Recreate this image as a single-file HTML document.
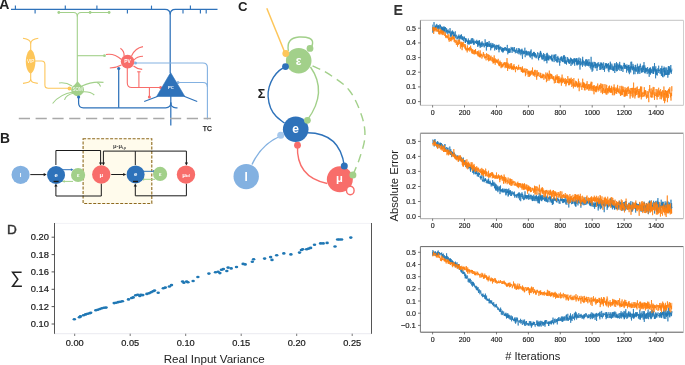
<!DOCTYPE html>
<html><head><meta charset="utf-8"><style>
html,body{margin:0;padding:0;background:#fff;}
svg{display:block;font-family:"Liberation Sans", sans-serif;will-change:transform;filter:blur(0.3px);}
</style></head><body>
<svg width="685" height="365" viewBox="0 0 685 365">
<rect width="685" height="365" fill="#fff"/>
<text x="-0.8" y="8.9" font-size="14" fill="#222" font-weight="bold" text-anchor="start" >A</text>
<g fill="none" stroke="#2e72ba" stroke-width="1.25">
<path d="M11,9.3 H165 Q170.2,9.3 170.2,14.5 V73"/>
<path d="M217.5,9.3 H175.4 Q170.2,9.3 170.2,14.5"/>
</g>
<g stroke="#2e72ba" stroke-width="1.15">
<line x1="15.4" y1="9.3" x2="15.4" y2="5.6"/>
<line x1="65.3" y1="9.3" x2="65.3" y2="5.6"/>
<line x1="96.9" y1="9.3" x2="96.9" y2="5.6"/>
<line x1="151.5" y1="9.3" x2="151.5" y2="5.6"/>
<line x1="190.4" y1="9.3" x2="190.4" y2="5.6"/>
<line x1="35.1" y1="9.3" x2="35.1" y2="13.6"/>
<line x1="127.4" y1="9.3" x2="127.4" y2="13.6"/>
<line x1="183.0" y1="9.3" x2="183.0" y2="13.6"/>
<line x1="200.4" y1="9.3" x2="200.4" y2="13.6"/>
<line x1="206.2" y1="9.3" x2="206.2" y2="13.6"/>
</g>
<g fill="none" stroke="#a2d08a" stroke-width="1.1">
<path d="M58.8,12.5 H73.5 Q77.3,12.5 77.3,16.5 V84"/>
<path d="M109.1,12.5 H81.1 Q77.3,12.5 77.3,16.5"/>
<path d="M77.3,55.7 H104.5"/>
<path d="M72,86 Q66,82 59,83"/>
<path d="M82,86 Q92,81 103.5,82.4"/>
<path d="M97,82.6 Q99.5,83.5 100.6,86.5"/>
<path d="M73,92 Q60,94 52.6,103.5"/>
<path d="M74,93 Q66,95 64.5,99.8"/>
<path d="M81,92 Q90,91 94.3,95"/>
</g>
<g fill="#a2d08a">
<circle cx="58.8" cy="12.5" r="1.4"/>
<circle cx="90.1" cy="12.5" r="1.4"/>
<circle cx="109.1" cy="12.5" r="1.4"/>
<circle cx="104.5" cy="55.7" r="1.4"/>
</g>
<path d="M77.6,81.2 Q80.5,85 83.4,87 Q84.6,89.5 83.4,92.5 Q80.8,96.2 77.6,96.2 Q74.4,96.2 71.8,92.5 Q70.6,89.5 71.8,87 Q74.7,85 77.6,81.2 Z" fill="#a2d08a"/>
<text x="77.6" y="91.4" font-size="4.5" fill="#fff" font-weight="normal" text-anchor="middle" >SOM</text>
<g fill="none" stroke="#fdc65a" stroke-width="1.1">
<path d="M30.7,50 V43.6 Q30.7,39.5 23,38.3"/>
<path d="M30.7,43.6 Q30.7,39.5 38.3,38.3"/>
<path d="M30.7,72 V79.3 Q30.7,82.8 23,83.4"/>
<path d="M30.7,79.3 Q30.7,82.8 37.8,83.4"/>
<path d="M35,61 H41.5 Q44.9,61 44.9,64.5 V85 Q44.9,88.3 48.3,88.3 H69"/>
</g>
<path d="M30.6,49.4 C33.5,50.5 35.4,56 35.4,61.5 C35.4,67 33.5,72.5 30.6,73.6 C27.7,72.5 25.8,67 25.8,61.5 C25.8,56 27.7,50.5 30.6,49.4 Z" fill="#fdc65a"/>
<text x="30.6" y="62.9" font-size="4.6" fill="#fff" font-weight="normal" text-anchor="middle" >VIP</text>
<circle cx="69.5" cy="88.5" r="1.9" fill="#fdc65a"/>
<g fill="none" stroke="#2e72ba" stroke-width="1.25">
<path d="M78.6,97 V103 Q78.6,107.8 83.4,107.8 H165.6 Q170.8,107.8 170.8,102.6"/>
<path d="M118.7,107.8 V68.5"/>
<path d="M170.8,96 V125.6"/>
<path d="M170.8,102.6 Q170.8,107.8 176,107.8 H177.5"/>
</g>
<circle cx="78.6" cy="97" r="1.6" fill="#2e72ba"/>
<circle cx="118.7" cy="68.5" r="1.6" fill="#2e72ba"/>
<g fill="none" stroke="#f86d6a" stroke-width="1.1">
<path d="M121.5,59.5 Q114,53 106,54.5"/>
<path d="M124,56 Q124.5,51 120.4,48.2"/>
<path d="M131.5,56 Q135,48 143,46.6"/>
<path d="M134,60 Q137,56.5 143,56.3"/>
<path d="M121.5,65 Q117,67.5 109.8,68"/>
<path d="M133.5,66 Q137,69 142.2,69.4"/>
<path d="M127.3,68 V83 Q127.3,87.5 131.8,87.5 H160.5"/>
<path d="M138.9,87.5 V71.8"/>
<path d="M149.4,87.5 V96.8"/>
<path d="M137.2,71.8 H140.6"/>
</g>
<circle cx="127.6" cy="61.6" r="6.8" fill="#f86d6a"/>
<text x="127.5" y="63.4" font-size="4.9" fill="#fff" font-weight="bold" text-anchor="middle" >PV</text>
<circle cx="160.6" cy="87.4" r="1.5" fill="#f86d6a"/>
<circle cx="149.4" cy="97" r="1.5" fill="#f86d6a"/>
<g fill="none" stroke="#83b1e1" stroke-width="1.1">
<path d="M207.4,119.5 V67.5 Q207.4,63 202.9,63 H135.5"/>
<path d="M207.4,87 Q207.4,82.5 202.9,82.5 H178"/>
</g>
<circle cx="135.5" cy="63" r="1.5" fill="#83b1e1"/>
<circle cx="178" cy="82.5" r="1.5" fill="#83b1e1"/>
<g fill="none" stroke="#2e72ba" stroke-width="1.1">
<path d="M158,96.2 L144.2,101.6"/>
<path d="M184,96.2 L197.2,101.6"/>
</g>
<path d="M170.6,72.6 L184.9,96.5 L156.6,96.5 Z" fill="#2e72ba" stroke="#2e72ba" stroke-width="0.6" stroke-linejoin="round"/>
<text x="170.8" y="89.2" font-size="4.2" fill="#fff" font-weight="bold" text-anchor="middle" >PC</text>
<line x1="18.8" y1="118.5" x2="211" y2="118.5" stroke="#a9a9a9" stroke-width="1.3" stroke-dasharray="11.2 5.6"/>
<text x="207.4" y="130.9" font-size="6.8" fill="#111" font-weight="normal" text-anchor="middle" stroke="#111" stroke-width="0.25">TC</text>
<text x="0.1" y="142.9" font-size="13.8" fill="#222" font-weight="bold" text-anchor="start" >B</text>
<rect x="83.1" y="138.8" width="68.7" height="64.7" fill="#fffbec" stroke="#8e6a1e" stroke-width="1.1" stroke-dasharray="3 1.5"/>
<text x="119.6" y="147.9" font-size="5.8" fill="#444" font-weight="bold" text-anchor="middle" >μ-μ<tspan font-size="3.4" dy="1">t,p</tspan></text>
<g fill="none" stroke="#1a1a1a" stroke-width="1">
<path d="M55.9,165 V150.5 H100.6 V163"/>
<path d="M135.3,165 V151.1 H103.4 V163"/>
<path d="M135.3,151.1 H186.4 V163"/>
<path d="M101.3,183.5 V196 H55.9 V186"/>
<path d="M186.4,183.5 V195.8 H135.3 V186"/>
<path d="M30.3,174.6 H44.5"/>
<path d="M111.2,174.5 H124.3"/>
</g>
<g fill="#1a1a1a">
<path d="M99.0,162.6 L102.19999999999999,162.6 L100.6,165.6 Z"/>
<path d="M101.80000000000001,162.6 L105.0,162.6 L103.4,165.6 Z"/>
<path d="M184.8,162.4 L188.0,162.4 L186.4,165.4 Z"/>
<path d="M54.3,186.6 L57.5,186.6 L55.9,183.6 Z"/>
<path d="M133.70000000000002,186.6 L136.9,186.6 L135.3,183.6 Z"/>
<path d="M43.7,173.0 L43.7,176.2 L46.7,174.6 Z"/>
<path d="M123.2,172.9 L123.2,176.1 L126.2,174.5 Z"/>
</g>
<path d="M60.9,169.7 H71.5" stroke="#2e72ba" stroke-width="1" fill="none"/>
<path d="M73.5,169.7 l-2.6,-1.4 v2.8 z" fill="#2e72ba"/>
<path d="M62.4,181.4 H73.0" stroke="#a2d08a" stroke-width="1" fill="none"/>
<path d="M62.1,181.4 l2.6,-1.4 v2.8 z" fill="#a2d08a"/>
<path d="M140.3,171.3 H153.6" stroke="#2e72ba" stroke-width="1" fill="none"/>
<path d="M155.6,171.3 l-2.6,-1.4 v2.8 z" fill="#2e72ba"/>
<path d="M141.8,179.3 H155.1" stroke="#a2d08a" stroke-width="1" fill="none"/>
<path d="M141.5,179.3 l2.6,-1.4 v2.8 z" fill="#a2d08a"/>
<circle cx="20.6" cy="174.8" r="9.1" fill="#83b1e1"/>
<circle cx="56.05" cy="175.0" r="9.0" fill="#2e72ba"/>
<circle cx="78.1" cy="175.0" r="7.1" fill="#a2d08a"/>
<circle cx="101.3" cy="174.5" r="9.2" fill="#f86d6a"/>
<circle cx="135.6" cy="174.4" r="9.0" fill="#2e72ba"/>
<circle cx="160.1" cy="173.9" r="7.1" fill="#a2d08a"/>
<circle cx="186.0" cy="174.6" r="9.2" fill="#f86d6a"/>
<rect x="53.6" y="180.8" width="5" height="1.4" fill="#1a1a1a"/>
<rect x="133.0" y="180.8" width="5" height="1.4" fill="#1a1a1a"/>
<text x="20.7" y="176.8" font-size="6" fill="#fff" font-weight="bold" text-anchor="middle" >I</text>
<text x="56.05" y="176.9" font-size="6" fill="#fff" font-weight="bold" text-anchor="middle" >e</text>
<text x="78.1" y="177.0" font-size="6" fill="#fff" font-weight="bold" text-anchor="middle" >ε</text>
<text x="101.3" y="176.6" font-size="6" fill="#fff" font-weight="bold" text-anchor="middle" >μ</text>
<text x="135.6" y="176.4" font-size="6" fill="#fff" font-weight="bold" text-anchor="middle" >e</text>
<text x="160.1" y="176.0" font-size="6" fill="#fff" font-weight="bold" text-anchor="middle" >ε</text>
<text x="186.0" y="176.8" font-size="6" fill="#fff" font-weight="bold" text-anchor="middle" >μ<tspan font-size="4.2" dy="0.6">td</tspan></text>
<text x="237.9" y="10.5" font-size="13.2" fill="#222" font-weight="bold" text-anchor="start" >C</text>
<line x1="266.8" y1="8.3" x2="285.3" y2="53.7" stroke="#fdc65a" stroke-width="1.5"/>
<path d="M288.4,51 Q286,38 299,37 Q313,36.5 312.6,43 Q312.5,47 309.6,49.2" fill="none" stroke="#a2d08a" stroke-width="1.4"/>
<path d="M285.50,66.70 C283.40,68.00 281.22,68.83 279.20,70.60 C277.18,72.37 275.07,74.58 273.40,77.30 C271.73,80.02 270.08,83.70 269.20,86.90 C268.32,90.10 267.87,92.98 268.10,96.50 C268.33,100.02 269.23,104.65 270.60,108.00 C271.97,111.35 273.98,114.10 276.30,116.60 C278.62,119.10 281.77,120.87 284.50,123.00" fill="none" stroke="#2e72ba" stroke-width="1.4"/>
<path d="M310.5,67 Q328,92 307.4,119.9" fill="none" stroke="#a2d08a" stroke-width="1.4"/>
<path d="M312.50,65.80 C318.00,68.60 322.88,70.13 329.00,74.20 C335.12,78.27 343.77,83.32 349.20,90.20 C354.63,97.08 358.98,107.72 361.60,115.50 C364.22,123.28 365.23,129.78 364.90,136.90 C364.57,144.02 361.60,151.83 359.60,158.20 C357.60,164.57 355.13,169.47 352.90,175.10" fill="none" stroke="#a2d08a" stroke-width="1.4" stroke-dasharray="8.5 5.5"/>
<path d="M252,164.5 Q262,143 281.4,135.8" fill="none" stroke="#83b1e1" stroke-width="1.4"/>
<path d="M297.5,145.5 Q296,177 327.2,183.5" fill="none" stroke="#f86d6a" stroke-width="1.4"/>
<path d="M307.5,132.7 Q340,133 344.3,166" fill="none" stroke="#2e72ba" stroke-width="1.4"/>
<circle cx="298.7" cy="60.7" r="12.8" fill="#a2d08a"/>
<circle cx="295.7" cy="129.3" r="12.8" fill="#2e72ba"/>
<circle cx="246.2" cy="176.6" r="12.7" fill="#83b1e1"/>
<circle cx="339.85" cy="179.35" r="13.0" fill="#f86d6a"/>
<ellipse cx="350.3" cy="190.5" rx="3.8" ry="4.3" fill="#fff" stroke="#f86d6a" stroke-width="1.4"/>
<circle cx="285.8" cy="53.5" r="3.4" fill="#fdc65a"/>
<circle cx="310.0" cy="48.4" r="3.4" fill="#a2d08a"/>
<circle cx="285.5" cy="66.6" r="3.4" fill="#2e72ba"/>
<circle cx="307.4" cy="120.3" r="3.4" fill="#a2d08a"/>
<circle cx="280.7" cy="135.3" r="3.5" fill="#a6c8ec"/>
<circle cx="297.5" cy="145.2" r="3.4" fill="#f86d6a"/>
<circle cx="344.3" cy="166.0" r="3.5" fill="#2e72ba"/>
<circle cx="352.9" cy="175.1" r="3.5" fill="#a2d08a"/>
<text x="298.7" y="64.5" font-size="12" fill="#fff" font-weight="bold" text-anchor="middle" >ε</text>
<text x="295.6" y="133.4" font-size="12" fill="#fff" font-weight="bold" text-anchor="middle" >e</text>
<text x="246.2" y="181.0" font-size="12" fill="#fff" font-weight="bold" text-anchor="middle" >I</text>
<text x="339.4" y="181.6" font-size="11.2" fill="#fff" font-weight="bold" text-anchor="middle" >μ</text>
<text x="261.5" y="97.9" font-size="12.5" fill="#222" font-weight="bold" text-anchor="middle" >Σ</text>
<text x="6.9" y="233.5" font-size="13.6" fill="#333" font-weight="normal" text-anchor="start" stroke="#333" stroke-width="0.45">D</text>
<line x1="54" y1="223.4" x2="371.7" y2="223.4" stroke="#ececf2" stroke-width="0.7"/>
<line x1="54" y1="333.7" x2="371.7" y2="333.7" stroke="#e4e4ec" stroke-width="0.8"/>
<line x1="54.5" y1="223" x2="54.5" y2="333.8" stroke="#555" stroke-width="1"/>
<line x1="371.5" y1="223" x2="371.5" y2="333.8" stroke="#555" stroke-width="1"/>
<line x1="51.6" y1="324.0" x2="54.5" y2="324.0" stroke="#444" stroke-width="0.9"/>
<text x="49.0" y="327.1" font-size="8.8" fill="#1a1a1a" font-weight="normal" text-anchor="end" textLength="18.2" lengthAdjust="spacingAndGlyphs" stroke="#1a1a1a" stroke-width="0.2">0.10</text>
<line x1="51.6" y1="306.6" x2="54.5" y2="306.6" stroke="#444" stroke-width="0.9"/>
<text x="49.0" y="309.7" font-size="8.8" fill="#1a1a1a" font-weight="normal" text-anchor="end" textLength="18.2" lengthAdjust="spacingAndGlyphs" stroke="#1a1a1a" stroke-width="0.2">0.12</text>
<line x1="51.6" y1="289.3" x2="54.5" y2="289.3" stroke="#444" stroke-width="0.9"/>
<text x="49.0" y="292.4" font-size="8.8" fill="#1a1a1a" font-weight="normal" text-anchor="end" textLength="18.2" lengthAdjust="spacingAndGlyphs" stroke="#1a1a1a" stroke-width="0.2">0.14</text>
<line x1="51.6" y1="271.9" x2="54.5" y2="271.9" stroke="#444" stroke-width="0.9"/>
<text x="49.0" y="275.0" font-size="8.8" fill="#1a1a1a" font-weight="normal" text-anchor="end" textLength="18.2" lengthAdjust="spacingAndGlyphs" stroke="#1a1a1a" stroke-width="0.2">0.16</text>
<line x1="51.6" y1="254.6" x2="54.5" y2="254.6" stroke="#444" stroke-width="0.9"/>
<text x="49.0" y="257.7" font-size="8.8" fill="#1a1a1a" font-weight="normal" text-anchor="end" textLength="18.2" lengthAdjust="spacingAndGlyphs" stroke="#1a1a1a" stroke-width="0.2">0.18</text>
<line x1="51.6" y1="237.2" x2="54.5" y2="237.2" stroke="#444" stroke-width="0.9"/>
<text x="49.0" y="240.3" font-size="8.8" fill="#1a1a1a" font-weight="normal" text-anchor="end" textLength="18.2" lengthAdjust="spacingAndGlyphs" stroke="#1a1a1a" stroke-width="0.2">0.20</text>
<line x1="74.7" y1="333.7" x2="74.7" y2="336" stroke="#555" stroke-width="0.8"/>
<text x="74.7" y="345.8" font-size="8.8" fill="#1a1a1a" font-weight="normal" text-anchor="middle" textLength="18.0" lengthAdjust="spacingAndGlyphs" stroke="#1a1a1a" stroke-width="0.2">0.00</text>
<line x1="130.2" y1="333.7" x2="130.2" y2="336" stroke="#555" stroke-width="0.8"/>
<text x="130.2" y="345.8" font-size="8.8" fill="#1a1a1a" font-weight="normal" text-anchor="middle" textLength="18.0" lengthAdjust="spacingAndGlyphs" stroke="#1a1a1a" stroke-width="0.2">0.05</text>
<line x1="185.7" y1="333.7" x2="185.7" y2="336" stroke="#555" stroke-width="0.8"/>
<text x="185.7" y="345.8" font-size="8.8" fill="#1a1a1a" font-weight="normal" text-anchor="middle" textLength="18.0" lengthAdjust="spacingAndGlyphs" stroke="#1a1a1a" stroke-width="0.2">0.10</text>
<line x1="241.2" y1="333.7" x2="241.2" y2="336" stroke="#555" stroke-width="0.8"/>
<text x="241.2" y="345.8" font-size="8.8" fill="#1a1a1a" font-weight="normal" text-anchor="middle" textLength="18.0" lengthAdjust="spacingAndGlyphs" stroke="#1a1a1a" stroke-width="0.2">0.15</text>
<line x1="296.7" y1="333.7" x2="296.7" y2="336" stroke="#555" stroke-width="0.8"/>
<text x="296.7" y="345.8" font-size="8.8" fill="#1a1a1a" font-weight="normal" text-anchor="middle" textLength="18.0" lengthAdjust="spacingAndGlyphs" stroke="#1a1a1a" stroke-width="0.2">0.20</text>
<line x1="352.2" y1="333.7" x2="352.2" y2="336" stroke="#555" stroke-width="0.8"/>
<text x="352.2" y="345.8" font-size="8.8" fill="#1a1a1a" font-weight="normal" text-anchor="middle" textLength="18.0" lengthAdjust="spacingAndGlyphs" stroke="#1a1a1a" stroke-width="0.2">0.25</text>
<text x="214.2" y="363" font-size="11.6" fill="#222" font-weight="normal" text-anchor="middle" textLength="101" lengthAdjust="spacingAndGlyphs">Real Input Variance</text>
<path d="M21.6,272.2 H12.6 L17.8,279.2 L12.6,286.2 H21.9" fill="none" stroke="#222" stroke-width="1.5" stroke-linejoin="miter"/>
<g fill="#1f77b4">
<ellipse cx="74.3" cy="319.3" rx="1.75" ry="1.3"/>
<ellipse cx="79.4" cy="317.2" rx="1.75" ry="1.3"/>
<ellipse cx="80.4" cy="316.4" rx="1.75" ry="1.3"/>
<ellipse cx="83.5" cy="315.2" rx="1.75" ry="1.3"/>
<ellipse cx="85.6" cy="314.4" rx="1.75" ry="1.3"/>
<ellipse cx="87.6" cy="313.7" rx="1.75" ry="1.3"/>
<ellipse cx="89.7" cy="313.3" rx="1.75" ry="1.3"/>
<ellipse cx="90.7" cy="312.7" rx="1.75" ry="1.3"/>
<ellipse cx="95.8" cy="310.3" rx="1.75" ry="1.3"/>
<ellipse cx="97.8" cy="309.7" rx="1.75" ry="1.3"/>
<ellipse cx="99.9" cy="309" rx="1.75" ry="1.3"/>
<ellipse cx="101.9" cy="308.2" rx="1.75" ry="1.3"/>
<ellipse cx="104" cy="307.8" rx="1.75" ry="1.3"/>
<ellipse cx="106" cy="307.6" rx="1.75" ry="1.3"/>
<ellipse cx="114.2" cy="303.1" rx="1.75" ry="1.3"/>
<ellipse cx="116.2" cy="302.7" rx="1.75" ry="1.3"/>
<ellipse cx="118.3" cy="302.1" rx="1.75" ry="1.3"/>
<ellipse cx="120.3" cy="301.7" rx="1.75" ry="1.3"/>
<ellipse cx="122.4" cy="301.3" rx="1.75" ry="1.3"/>
<ellipse cx="128.5" cy="299.4" rx="1.75" ry="1.3"/>
<ellipse cx="131.6" cy="298" rx="1.75" ry="1.3"/>
<ellipse cx="133.2" cy="297.4" rx="1.75" ry="1.3"/>
<ellipse cx="135.7" cy="295.3" rx="1.75" ry="1.3"/>
<ellipse cx="137.7" cy="294.7" rx="1.75" ry="1.3"/>
<ellipse cx="139.8" cy="296" rx="1.75" ry="1.3"/>
<ellipse cx="140.8" cy="294.9" rx="1.75" ry="1.3"/>
<ellipse cx="142.8" cy="295.1" rx="1.75" ry="1.3"/>
<ellipse cx="146.9" cy="293.9" rx="1.75" ry="1.3"/>
<ellipse cx="149" cy="293.3" rx="1.75" ry="1.3"/>
<ellipse cx="151" cy="292.3" rx="1.75" ry="1.3"/>
<ellipse cx="153" cy="291.2" rx="1.75" ry="1.3"/>
<ellipse cx="154.5" cy="290.6" rx="1.75" ry="1.3"/>
<ellipse cx="158.2" cy="292.7" rx="1.75" ry="1.3"/>
<ellipse cx="163.3" cy="288.2" rx="1.75" ry="1.3"/>
<ellipse cx="165.3" cy="287.6" rx="1.75" ry="1.3"/>
<ellipse cx="169.4" cy="286.5" rx="1.75" ry="1.3"/>
<ellipse cx="171.5" cy="285.1" rx="1.75" ry="1.3"/>
<ellipse cx="182.6" cy="281.5" rx="1.75" ry="1.3"/>
<ellipse cx="183.9" cy="282.8" rx="1.75" ry="1.3"/>
<ellipse cx="186.6" cy="281.5" rx="1.75" ry="1.3"/>
<ellipse cx="187.9" cy="282.3" rx="1.75" ry="1.3"/>
<ellipse cx="193.1" cy="281" rx="1.75" ry="1.3"/>
<ellipse cx="197.9" cy="277" rx="1.75" ry="1.3"/>
<ellipse cx="208.9" cy="273.6" rx="1.75" ry="1.3"/>
<ellipse cx="215.5" cy="272.3" rx="1.75" ry="1.3"/>
<ellipse cx="218.1" cy="271.8" rx="1.75" ry="1.3"/>
<ellipse cx="219.9" cy="273.1" rx="1.75" ry="1.3"/>
<ellipse cx="221.5" cy="269.7" rx="1.75" ry="1.3"/>
<ellipse cx="223.4" cy="269.1" rx="1.75" ry="1.3"/>
<ellipse cx="226.8" cy="271" rx="1.75" ry="1.3"/>
<ellipse cx="228.1" cy="267.6" rx="1.75" ry="1.3"/>
<ellipse cx="231.2" cy="268.4" rx="1.75" ry="1.3"/>
<ellipse cx="236.5" cy="267" rx="1.75" ry="1.3"/>
<ellipse cx="243.1" cy="263.9" rx="1.75" ry="1.3"/>
<ellipse cx="245.2" cy="264.4" rx="1.75" ry="1.3"/>
<ellipse cx="252.3" cy="261.8" rx="1.75" ry="1.3"/>
<ellipse cx="253.6" cy="259.2" rx="1.75" ry="1.3"/>
<ellipse cx="264.6" cy="258.6" rx="1.75" ry="1.3"/>
<ellipse cx="270.6" cy="257.1" rx="1.75" ry="1.3"/>
<ellipse cx="272" cy="259.9" rx="1.75" ry="1.3"/>
<ellipse cx="276.7" cy="255.2" rx="1.75" ry="1.3"/>
<ellipse cx="283.8" cy="253.4" rx="1.75" ry="1.3"/>
<ellipse cx="290.9" cy="254.4" rx="1.75" ry="1.3"/>
<ellipse cx="299.5" cy="252.6" rx="1.75" ry="1.3"/>
<ellipse cx="301.4" cy="250" rx="1.75" ry="1.3"/>
<ellipse cx="302.7" cy="249.2" rx="1.75" ry="1.3"/>
<ellipse cx="306.6" cy="249.2" rx="1.75" ry="1.3"/>
<ellipse cx="308.7" cy="248.6" rx="1.75" ry="1.3"/>
<ellipse cx="310.6" cy="247.9" rx="1.75" ry="1.3"/>
<ellipse cx="314.5" cy="244.7" rx="1.75" ry="1.3"/>
<ellipse cx="320.6" cy="243.4" rx="1.75" ry="1.3"/>
<ellipse cx="323.2" cy="243.4" rx="1.75" ry="1.3"/>
<ellipse cx="327.1" cy="242.9" rx="1.75" ry="1.3"/>
<ellipse cx="335" cy="246.5" rx="1.75" ry="1.3"/>
<ellipse cx="337.6" cy="239.5" rx="1.75" ry="1.3"/>
<ellipse cx="339.5" cy="239.5" rx="1.75" ry="1.3"/>
<ellipse cx="341.6" cy="239.5" rx="1.75" ry="1.3"/>
<ellipse cx="350.8" cy="237.6" rx="1.75" ry="1.3"/>
</g>
<text x="393.4" y="15.1" font-size="14.2" fill="#333" font-weight="bold" text-anchor="start" >E</text>
<line x1="420.4" y1="20.3" x2="683.5" y2="20.3" stroke="#c4c4c4" stroke-width="1"/>
<line x1="420.4" y1="105.3" x2="683.5" y2="105.3" stroke="#c4c4c4" stroke-width="1"/>
<line x1="420.4" y1="20.3" x2="420.4" y2="105.3" stroke="#7a7a7a" stroke-width="1"/>
<line x1="683.5" y1="20.3" x2="683.5" y2="105.3" stroke="#cfcfcf" stroke-width="1"/>
<line x1="418" y1="101.6" x2="420.4" y2="101.6" stroke="#444" stroke-width="0.7"/>
<text x="415.9" y="104.1" font-size="7" fill="#1a1a1a" font-weight="normal" text-anchor="end"  stroke="#1a1a1a" stroke-width="0.15">0.0</text>
<line x1="418" y1="86.9" x2="420.4" y2="86.9" stroke="#444" stroke-width="0.7"/>
<text x="415.9" y="89.4" font-size="7" fill="#1a1a1a" font-weight="normal" text-anchor="end"  stroke="#1a1a1a" stroke-width="0.15">0.1</text>
<line x1="418" y1="72.2" x2="420.4" y2="72.2" stroke="#444" stroke-width="0.7"/>
<text x="415.9" y="74.7" font-size="7" fill="#1a1a1a" font-weight="normal" text-anchor="end"  stroke="#1a1a1a" stroke-width="0.15">0.2</text>
<line x1="418" y1="57.6" x2="420.4" y2="57.6" stroke="#444" stroke-width="0.7"/>
<text x="415.9" y="60.1" font-size="7" fill="#1a1a1a" font-weight="normal" text-anchor="end"  stroke="#1a1a1a" stroke-width="0.15">0.3</text>
<line x1="418" y1="42.9" x2="420.4" y2="42.9" stroke="#444" stroke-width="0.7"/>
<text x="415.9" y="45.4" font-size="7" fill="#1a1a1a" font-weight="normal" text-anchor="end"  stroke="#1a1a1a" stroke-width="0.15">0.4</text>
<line x1="418" y1="28.2" x2="420.4" y2="28.2" stroke="#444" stroke-width="0.7"/>
<text x="415.9" y="30.7" font-size="7" fill="#1a1a1a" font-weight="normal" text-anchor="end"  stroke="#1a1a1a" stroke-width="0.15">0.5</text>
<line x1="432.6" y1="105.3" x2="432.6" y2="107.5" stroke="#444" stroke-width="0.7"/>
<text x="432.6" y="115.0" font-size="7" fill="#1a1a1a" font-weight="normal" text-anchor="middle" stroke="#1a1a1a" stroke-width="0.15">0</text>
<line x1="464.5" y1="105.3" x2="464.5" y2="107.5" stroke="#444" stroke-width="0.7"/>
<text x="464.5" y="115.0" font-size="7" fill="#1a1a1a" font-weight="normal" text-anchor="middle" stroke="#1a1a1a" stroke-width="0.15">200</text>
<line x1="496.5" y1="105.3" x2="496.5" y2="107.5" stroke="#444" stroke-width="0.7"/>
<text x="496.5" y="115.0" font-size="7" fill="#1a1a1a" font-weight="normal" text-anchor="middle" stroke="#1a1a1a" stroke-width="0.15">400</text>
<line x1="528.4" y1="105.3" x2="528.4" y2="107.5" stroke="#444" stroke-width="0.7"/>
<text x="528.4" y="115.0" font-size="7" fill="#1a1a1a" font-weight="normal" text-anchor="middle" stroke="#1a1a1a" stroke-width="0.15">600</text>
<line x1="560.3" y1="105.3" x2="560.3" y2="107.5" stroke="#444" stroke-width="0.7"/>
<text x="560.3" y="115.0" font-size="7" fill="#1a1a1a" font-weight="normal" text-anchor="middle" stroke="#1a1a1a" stroke-width="0.15">800</text>
<line x1="592.2" y1="105.3" x2="592.2" y2="107.5" stroke="#444" stroke-width="0.7"/>
<text x="592.2" y="115.0" font-size="7" fill="#1a1a1a" font-weight="normal" text-anchor="middle" stroke="#1a1a1a" stroke-width="0.15">1000</text>
<line x1="624.2" y1="105.3" x2="624.2" y2="107.5" stroke="#444" stroke-width="0.7"/>
<text x="624.2" y="115.0" font-size="7" fill="#1a1a1a" font-weight="normal" text-anchor="middle" stroke="#1a1a1a" stroke-width="0.15">1200</text>
<line x1="656.1" y1="105.3" x2="656.1" y2="107.5" stroke="#444" stroke-width="0.7"/>
<text x="656.1" y="115.0" font-size="7" fill="#1a1a1a" font-weight="normal" text-anchor="middle" stroke="#1a1a1a" stroke-width="0.15">1400</text>
<polyline points="432.6,24.6 432.8,32.7 432.9,27.4 433.1,29.1 433.2,28.9 433.4,28.4 433.6,31.6 433.7,28.4 433.9,29.5 434.0,22.1 434.2,27.5 434.4,28.5 434.5,28.3 434.7,29.0 434.8,29.6 435.0,28.4 435.2,26.8 435.3,28.1 435.5,25.9 435.6,27.9 435.8,27.5 436.0,24.8 436.1,26.5 436.3,28.3 436.4,27.7 436.6,26.4 436.8,23.9 436.9,27.8 437.1,27.7 437.2,25.5 437.4,28.8 437.5,27.7 437.7,25.6 437.9,26.1 438.0,26.9 438.2,25.9 438.3,32.0 438.5,25.2 438.7,28.7 438.8,29.9 439.0,26.4 439.1,25.6 439.3,27.6 439.5,28.7 439.6,26.7 439.8,26.8 439.9,24.3 440.1,25.6 440.3,26.7 440.4,25.1 440.6,27.6 440.7,28.9 440.9,26.3 441.1,26.4 441.2,27.9 441.4,29.0 441.5,27.3 441.7,32.2 441.9,26.7 442.0,27.2 442.2,31.0 442.3,28.1 442.5,30.0 442.7,27.1 442.8,32.1 443.0,30.2 443.1,27.4 443.3,26.7 443.5,32.7 443.6,29.8 443.8,28.5 443.9,30.2 444.1,26.4 444.3,31.4 444.4,28.8 444.6,31.4 444.7,27.1 444.9,29.7 445.1,30.4 445.2,32.9 445.4,27.0 445.5,28.7 445.7,28.8 445.9,28.2 446.0,29.7 446.2,31.6 446.3,31.9 446.5,32.0 446.6,28.3 446.8,33.4 447.0,31.9 447.1,31.5 447.3,30.7 447.4,30.1 447.6,33.5 447.8,34.4 447.9,31.4 448.1,29.4 448.2,30.3 448.4,31.3 448.6,32.4 448.7,31.4 448.9,32.4 449.0,30.6 449.2,33.6 449.4,32.0 449.5,32.6 449.7,31.5 449.8,32.1 450.0,28.1 450.2,30.1 450.3,30.2 450.5,36.5 450.6,33.6 450.8,34.2 451.0,32.2 451.1,37.3 451.3,31.3 451.4,31.6 451.6,35.9 451.8,35.4 451.9,35.2 452.1,33.8 452.2,32.8 452.4,30.4 452.6,34.5 452.7,32.8 452.9,34.0 453.0,31.3 453.2,33.2 453.4,32.1 453.5,36.6 453.7,35.1 453.8,36.3 454.0,32.3 454.2,33.9 454.3,35.7 454.5,36.0 454.6,34.4 454.8,36.6 455.0,37.1 455.1,34.7 455.3,31.3 455.4,36.2 455.6,36.9 455.7,38.0 455.9,38.4 456.1,35.2 456.2,34.7 456.4,36.3 456.5,35.8 456.7,36.3 456.9,36.4 457.0,39.4 457.2,37.6 457.3,36.7 457.5,38.4 457.7,37.9 457.8,38.6 458.0,37.8 458.1,35.7 458.3,38.0 458.5,37.7 458.6,36.0 458.8,36.3 458.9,34.5 459.1,41.3 459.3,36.1 459.4,38.6 459.6,37.5 459.7,36.3 459.9,35.9 460.1,36.1 460.2,37.7 460.4,35.2 460.5,38.6 460.7,38.4 460.9,36.8 461.0,39.3 461.2,34.5 461.3,36.6 461.5,34.6 461.7,38.5 461.8,39.2 462.0,38.3 462.1,37.3 462.3,39.8 462.5,38.1 462.6,38.9 462.8,36.0 462.9,40.1 463.1,37.1 463.3,40.2 463.4,40.8 463.6,40.4 463.7,41.3 463.9,39.0 464.1,37.5 464.2,39.1 464.4,38.3 464.5,36.6 464.7,39.1 464.8,39.3 465.0,40.1 465.2,42.6 465.3,38.4 465.5,43.0 465.6,38.7 465.8,40.0 466.0,38.0 466.1,40.2 466.3,41.6 466.4,39.5 466.6,41.2 466.8,40.6 466.9,40.2 467.1,40.6 467.2,40.8 467.4,42.0 467.6,40.9 467.7,44.4 467.9,40.9 468.0,42.9 468.2,38.8 468.4,38.5 468.5,44.4 468.7,40.7 468.8,41.2 469.0,42.9 469.2,40.1 469.3,42.0 469.5,44.4 469.6,41.7 469.8,41.6 470.0,41.2 470.1,43.7 470.3,40.4 470.4,40.2 470.6,43.7 470.8,42.8 470.9,41.9 471.1,42.8 471.2,38.7 471.4,41.5 471.6,43.8 471.7,43.4 471.9,42.1 472.0,38.0 472.2,42.5 472.4,42.0 472.5,41.3 472.7,42.4 472.8,38.3 473.0,43.4 473.2,41.1 473.3,42.3 473.5,41.5 473.6,44.8 473.8,39.5 473.9,43.0 474.1,42.8 474.3,44.6 474.4,44.2 474.6,41.9 474.7,41.2 474.9,41.6 475.1,40.8 475.2,41.7 475.4,43.0 475.5,41.6 475.7,42.0 475.9,43.3 476.0,41.8 476.2,40.9 476.3,42.8 476.5,43.9 476.7,42.0 476.8,39.8 477.0,43.7 477.1,43.5 477.3,43.6 477.5,41.2 477.6,46.8 477.8,42.8 477.9,41.3 478.1,45.0 478.3,40.8 478.4,42.6 478.6,44.6 478.7,43.2 478.9,46.4 479.1,44.7 479.2,40.3 479.4,45.3 479.5,40.4 479.7,43.9 479.9,42.0 480.0,43.7 480.2,47.9 480.3,44.9 480.5,43.5 480.7,46.0 480.8,46.4 481.0,43.3 481.1,45.2 481.3,47.1 481.5,45.3 481.6,42.5 481.8,45.0 481.9,42.4 482.1,41.3 482.3,44.1 482.4,46.3 482.6,46.6 482.7,44.3 482.9,42.7 483.0,43.8 483.2,43.3 483.4,45.2 483.5,43.8 483.7,45.3 483.8,45.0 484.0,46.8 484.2,47.4 484.3,45.4 484.5,46.6 484.6,46.3 484.8,43.3 485.0,44.8 485.1,39.3 485.3,42.9 485.4,45.8 485.6,43.3 485.8,44.1 485.9,46.0 486.1,42.7 486.2,46.2 486.4,50.5 486.6,43.4 486.7,46.0 486.9,42.2 487.0,46.1 487.2,47.1 487.4,42.1 487.5,47.0 487.7,44.7 487.8,42.4 488.0,44.9 488.2,45.3 488.3,44.9 488.5,43.6 488.6,46.7 488.8,44.1 489.0,44.2 489.1,41.0 489.3,45.9 489.4,47.0 489.6,44.0 489.8,46.1 489.9,44.9 490.1,45.2 490.2,43.3 490.4,46.7 490.6,45.7 490.7,50.3 490.9,47.2 491.0,42.8 491.2,47.0 491.4,47.0 491.5,48.1 491.7,44.8 491.8,45.6 492.0,48.2 492.1,44.8 492.3,45.6 492.5,44.7 492.6,47.4 492.8,43.0 492.9,45.5 493.1,46.6 493.3,47.4 493.4,46.9 493.6,44.9 493.7,47.1 493.9,44.6 494.1,45.6 494.2,44.2 494.4,45.3 494.5,47.0 494.7,50.5 494.9,46.4 495.0,45.6 495.2,46.8 495.3,46.1 495.5,48.1 495.7,48.0 495.8,49.1 496.0,44.8 496.1,47.1 496.3,48.4 496.5,50.0 496.6,47.9 496.8,44.9 496.9,46.8 497.1,49.1 497.3,45.1 497.4,45.2 497.6,46.1 497.7,46.5 497.9,45.9 498.1,47.1 498.2,46.7 498.4,49.7 498.5,45.4 498.7,47.9 498.9,44.6 499.0,52.3 499.2,47.1 499.3,46.7 499.5,49.2 499.7,47.8 499.8,47.3 500.0,47.7 500.1,49.8 500.3,49.1 500.5,46.9 500.6,46.4 500.8,48.7 500.9,48.7 501.1,48.5 501.2,47.0 501.4,51.0 501.6,51.5 501.7,48.8 501.9,51.1 502.0,50.2 502.2,48.9 502.4,48.2 502.5,51.2 502.7,47.6 502.8,52.5 503.0,48.2 503.2,52.2 503.3,51.7 503.5,48.0 503.6,50.1 503.8,50.8 504.0,50.2 504.1,48.5 504.3,49.5 504.4,49.5 504.6,47.4 504.8,50.8 504.9,50.4 505.1,50.5 505.2,47.3 505.4,47.6 505.6,47.1 505.7,49.6 505.9,49.9 506.0,48.0 506.2,50.4 506.4,48.1 506.5,48.3 506.7,51.1 506.8,49.9 507.0,50.0 507.2,46.5 507.3,44.9 507.5,50.0 507.6,49.8 507.8,54.3 508.0,49.5 508.1,49.9 508.3,52.0 508.4,48.5 508.6,53.0 508.8,50.4 508.9,49.8 509.1,52.5 509.2,48.4 509.4,48.1 509.6,52.8 509.7,52.9 509.9,49.0 510.0,50.3 510.2,52.6 510.3,50.8 510.5,50.5 510.7,50.6 510.8,48.7 511.0,49.6 511.1,46.9 511.3,47.7 511.5,49.1 511.6,48.4 511.8,47.9 511.9,49.1 512.1,52.9 512.3,48.9 512.4,50.4 512.6,47.4 512.7,50.4 512.9,49.6 513.1,50.0 513.2,47.4 513.4,50.3 513.5,51.2 513.7,50.1 513.9,51.6 514.0,50.5 514.2,50.8 514.3,50.3 514.5,47.1 514.7,51.7 514.8,50.8 515.0,51.3 515.1,49.6 515.3,53.3 515.5,52.3 515.6,51.1 515.8,50.0 515.9,51.1 516.1,52.1 516.3,52.8 516.4,50.1 516.6,48.3 516.7,50.5 516.9,50.8 517.1,50.3 517.2,53.1 517.4,51.9 517.5,51.8 517.7,50.7 517.9,51.4 518.0,53.7 518.2,49.2 518.3,48.1 518.5,51.9 518.7,50.7 518.8,50.9 519.0,50.0 519.1,54.4 519.3,48.4 519.4,52.5 519.6,49.1 519.8,51.5 519.9,52.5 520.1,52.0 520.2,50.0 520.4,53.5 520.6,52.6 520.7,52.8 520.9,55.3 521.0,49.4 521.2,50.8 521.4,52.1 521.5,49.8 521.7,54.0 521.8,52.3 522.0,48.7 522.2,50.3 522.3,56.7 522.5,58.9 522.6,54.4 522.8,50.2 523.0,53.3 523.1,52.9 523.3,51.2 523.4,54.3 523.6,52.1 523.8,51.0 523.9,51.7 524.1,51.9 524.2,53.9 524.4,51.7 524.6,53.6 524.7,50.2 524.9,47.7 525.0,54.3 525.2,57.2 525.4,53.8 525.5,52.2 525.7,50.9 525.8,50.9 526.0,54.7 526.2,54.7 526.3,50.6 526.5,55.4 526.6,51.0 526.8,53.7 527.0,51.8 527.1,51.9 527.3,51.8 527.4,51.8 527.6,55.4 527.8,52.9 527.9,53.5 528.1,52.9 528.2,51.1 528.4,54.2 528.5,55.1 528.7,55.2 528.9,54.4 529.0,52.3 529.2,55.5 529.3,51.5 529.5,53.3 529.7,54.4 529.8,56.7 530.0,53.5 530.1,52.6 530.3,57.7 530.5,51.7 530.6,50.8 530.8,53.5 530.9,53.2 531.1,49.4 531.3,51.8 531.4,56.2 531.6,54.4 531.7,54.7 531.9,54.7 532.1,59.3 532.2,53.0 532.4,55.8 532.5,54.3 532.7,54.9 532.9,52.9 533.0,55.3 533.2,56.4 533.3,53.7 533.5,51.9 533.7,55.5 533.8,52.1 534.0,54.4 534.1,56.0 534.3,51.9 534.5,56.7 534.6,53.0 534.8,56.1 534.9,54.2 535.1,57.7 535.3,56.9 535.4,53.1 535.6,54.9 535.7,55.2 535.9,56.3 536.1,54.5 536.2,58.3 536.4,57.8 536.5,55.8 536.7,57.3 536.9,57.0 537.0,55.8 537.2,55.9 537.3,56.1 537.5,52.3 537.6,53.7 537.8,53.3 538.0,55.9 538.1,56.9 538.3,58.9 538.4,56.7 538.6,60.3 538.8,57.2 538.9,54.4 539.1,52.7 539.2,54.1 539.4,57.9 539.6,55.1 539.7,57.8 539.9,54.4 540.0,56.4 540.2,54.4 540.4,50.9 540.5,54.3 540.7,51.4 540.8,55.9 541.0,57.0 541.2,53.6 541.3,52.8 541.5,57.5 541.6,56.2 541.8,59.4 542.0,56.9 542.1,54.6 542.3,56.7 542.4,57.7 542.6,59.5 542.8,55.8 542.9,54.9 543.1,55.4 543.2,56.1 543.4,59.3 543.6,53.0 543.7,56.8 543.9,57.0 544.0,55.2 544.2,61.3 544.4,56.9 544.5,57.1 544.7,56.1 544.8,54.0 545.0,55.9 545.2,60.8 545.3,57.7 545.5,56.5 545.6,56.7 545.8,59.7 546.0,60.6 546.1,55.9 546.3,56.4 546.4,57.2 546.6,60.8 546.7,53.4 546.9,63.3 547.1,58.0 547.2,52.8 547.4,57.6 547.5,56.8 547.7,59.8 547.9,54.4 548.0,60.1 548.2,56.8 548.3,57.1 548.5,59.7 548.7,55.5 548.8,60.5 549.0,58.9 549.1,57.6 549.3,58.4 549.5,56.5 549.6,55.6 549.8,58.2 549.9,58.8 550.1,58.8 550.3,58.4 550.4,56.0 550.6,58.2 550.7,56.9 550.9,58.0 551.1,59.6 551.2,55.9 551.4,60.1 551.5,57.8 551.7,54.7 551.9,60.3 552.0,58.0 552.2,61.4 552.3,59.1 552.5,61.2 552.7,58.8 552.8,59.2 553.0,57.8 553.1,54.7 553.3,57.5 553.5,56.7 553.6,58.3 553.8,58.7 553.9,60.0 554.1,62.1 554.3,58.1 554.4,54.7 554.6,57.3 554.7,59.5 554.9,54.8 555.1,59.3 555.2,59.7 555.4,61.1 555.5,60.5 555.7,59.0 555.8,54.1 556.0,59.0 556.2,60.8 556.3,59.9 556.5,59.1 556.6,62.3 556.8,58.3 557.0,57.1 557.1,58.0 557.3,57.4 557.4,61.5 557.6,62.5 557.8,55.9 557.9,56.4 558.1,62.2 558.2,58.4 558.4,58.8 558.6,57.7 558.7,58.5 558.9,60.1 559.0,58.5 559.2,58.7 559.4,59.1 559.5,63.1 559.7,65.7 559.8,60.9 560.0,62.8 560.2,58.6 560.3,57.6 560.5,58.6 560.6,60.1 560.8,59.1 561.0,56.7 561.1,60.9 561.3,57.3 561.4,57.8 561.6,58.8 561.8,56.2 561.9,61.1 562.1,57.4 562.2,61.6 562.4,61.3 562.6,61.9 562.7,58.6 562.9,61.7 563.0,59.5 563.2,62.2 563.4,57.3 563.5,55.6 563.7,59.3 563.8,56.1 564.0,58.6 564.2,55.0 564.3,59.6 564.5,63.4 564.6,56.6 564.8,60.2 564.9,62.3 565.1,61.5 565.3,63.7 565.4,60.4 565.6,62.5 565.7,56.8 565.9,58.6 566.1,63.9 566.2,63.6 566.4,61.5 566.5,64.6 566.7,60.5 566.9,60.4 567.0,62.1 567.2,61.6 567.3,59.2 567.5,57.2 567.7,57.0 567.8,60.4 568.0,58.5 568.1,62.2 568.3,59.6 568.5,62.7 568.6,58.9 568.8,63.4 568.9,62.8 569.1,60.7 569.3,59.4 569.4,64.0 569.6,62.0 569.7,60.5 569.9,60.3 570.1,62.8 570.2,60.6 570.4,61.5 570.5,57.7 570.7,59.7 570.9,64.0 571.0,66.0 571.2,60.8 571.3,58.3 571.5,60.7 571.7,59.1 571.8,62.2 572.0,64.3 572.1,59.5 572.3,61.0 572.5,59.7 572.6,64.4 572.8,60.9 572.9,62.8 573.1,59.5 573.3,62.7 573.4,62.8 573.6,62.8 573.7,58.5 573.9,61.4 574.0,63.3 574.2,63.9 574.4,64.0 574.5,58.2 574.7,65.8 574.8,63.6 575.0,60.2 575.2,59.0 575.3,62.1 575.5,59.9 575.6,60.0 575.8,59.5 576.0,61.7 576.1,58.0 576.3,61.4 576.4,58.3 576.6,64.5 576.8,59.7 576.9,64.9 577.1,65.5 577.2,60.8 577.4,64.0 577.6,61.0 577.7,64.6 577.9,58.3 578.0,62.1 578.2,64.8 578.4,61.8 578.5,60.1 578.7,64.0 578.8,61.0 579.0,57.5 579.2,60.3 579.3,62.4 579.5,63.7 579.6,61.0 579.8,66.0 580.0,69.6 580.1,64.1 580.3,65.1 580.4,58.4 580.6,62.2 580.8,64.9 580.9,65.4 581.1,61.5 581.2,64.6 581.4,64.1 581.6,62.9 581.7,62.5 581.9,62.5 582.0,62.5 582.2,59.7 582.4,58.8 582.5,66.8 582.7,56.8 582.8,62.6 583.0,60.0 583.1,64.8 583.3,62.2 583.5,62.5 583.6,62.8 583.8,61.1 583.9,61.6 584.1,65.6 584.3,63.5 584.4,61.5 584.6,61.6 584.7,64.1 584.9,64.0 585.1,63.7 585.2,66.0 585.4,66.5 585.5,59.6 585.7,64.4 585.9,63.2 586.0,65.3 586.2,60.4 586.3,59.3 586.5,64.1 586.7,62.4 586.8,65.5 587.0,59.4 587.1,61.5 587.3,65.8 587.5,60.7 587.6,62.9 587.8,62.8 587.9,63.0 588.1,65.5 588.3,65.2 588.4,62.4 588.6,64.1 588.7,66.3 588.9,59.1 589.1,64.6 589.2,65.5 589.4,65.8 589.5,62.5 589.7,61.8 589.9,63.6 590.0,62.1 590.2,67.9 590.3,65.2 590.5,65.5 590.7,64.3 590.8,63.2 591.0,69.4 591.1,56.8 591.3,66.6 591.5,63.7 591.6,62.5 591.8,62.5 591.9,64.0 592.1,71.8 592.2,67.4 592.4,62.8 592.6,67.0 592.7,67.4 592.9,70.6 593.0,61.8 593.2,63.6 593.4,67.1 593.5,65.2 593.7,65.2 593.8,67.7 594.0,65.6 594.2,64.4 594.3,63.6 594.5,61.9 594.6,65.0 594.8,66.2 595.0,64.1 595.1,66.7 595.3,68.3 595.4,62.3 595.6,66.1 595.8,64.9 595.9,63.6 596.1,68.0 596.2,63.6 596.4,64.1 596.6,65.5 596.7,64.3 596.9,67.2 597.0,70.9 597.2,66.1 597.4,67.7 597.5,63.2 597.7,64.8 597.8,66.8 598.0,65.3 598.2,62.1 598.3,62.6 598.5,64.6 598.6,64.4 598.8,66.3 599.0,65.9 599.1,64.1 599.3,65.9 599.4,64.9 599.6,68.5 599.8,69.9 599.9,70.0 600.1,66.8 600.2,62.4 600.4,62.7 600.6,68.3 600.7,69.7 600.9,63.8 601.0,64.6 601.2,69.3 601.4,63.2 601.5,65.4 601.7,62.5 601.8,65.0 602.0,63.6 602.1,65.1 602.3,68.4 602.5,66.6 602.6,67.7 602.8,63.9 602.9,68.6 603.1,70.0 603.3,64.3 603.4,63.1 603.6,62.4 603.7,63.3 603.9,70.0 604.1,68.0 604.2,67.6 604.4,66.3 604.5,71.8 604.7,66.3 604.9,65.5 605.0,68.7 605.2,66.0 605.3,63.2 605.5,66.2 605.7,63.6 605.8,63.7 606.0,65.3 606.1,65.4 606.3,67.4 606.5,63.2 606.6,67.7 606.8,68.3 606.9,64.7 607.1,68.4 607.3,65.4 607.4,63.8 607.6,66.4 607.7,66.3 607.9,64.2 608.1,64.7 608.2,70.7 608.4,70.1 608.5,63.2 608.7,65.7 608.9,72.2 609.0,70.3 609.2,66.7 609.3,69.3 609.5,65.6 609.7,66.6 609.8,65.5 610.0,69.9 610.1,65.2 610.3,61.7 610.5,69.0 610.6,63.4 610.8,64.3 610.9,65.2 611.1,67.1 611.2,70.0 611.4,69.3 611.6,64.9 611.7,64.4 611.9,63.7 612.0,64.4 612.2,64.6 612.4,68.2 612.5,70.2 612.7,66.5 612.8,65.7 613.0,66.8 613.2,71.1 613.3,68.5 613.5,71.0 613.6,66.7 613.8,69.9 614.0,67.6 614.1,66.3 614.3,66.8 614.4,63.5 614.6,70.1 614.8,73.0 614.9,64.6 615.1,63.4 615.2,63.3 615.4,66.4 615.6,65.8 615.7,66.9 615.9,70.7 616.0,68.8 616.2,65.9 616.4,68.8 616.5,62.1 616.7,71.4 616.8,68.5 617.0,64.3 617.2,68.9 617.3,70.4 617.5,71.0 617.6,69.3 617.8,63.3 618.0,66.2 618.1,66.0 618.3,68.8 618.4,65.1 618.6,67.1 618.8,69.9 618.9,68.6 619.1,66.9 619.2,64.2 619.4,67.6 619.6,66.1 619.7,61.9 619.9,69.7 620.0,70.9 620.2,64.8 620.3,66.3 620.5,67.8 620.7,66.8 620.8,68.4 621.0,66.1 621.1,68.5 621.3,65.4 621.5,70.8 621.6,69.8 621.8,67.3 621.9,68.9 622.1,65.7 622.3,67.7 622.4,69.1 622.6,67.1 622.7,69.1 622.9,72.0 623.1,70.8 623.2,69.9 623.4,69.0 623.5,67.4 623.7,65.2 623.9,66.2 624.0,62.8 624.2,64.2 624.3,68.3 624.5,63.2 624.7,64.5 624.8,69.0 625.0,66.9 625.1,64.7 625.3,67.1 625.5,65.0 625.6,66.7 625.8,65.9 625.9,68.7 626.1,66.8 626.3,68.9 626.4,66.0 626.6,72.6 626.7,66.9 626.9,64.4 627.1,66.3 627.2,68.0 627.4,66.4 627.5,70.3 627.7,70.3 627.9,69.0 628.0,68.4 628.2,65.3 628.3,70.5 628.5,65.2 628.7,72.5 628.8,70.3 629.0,68.2 629.1,64.8 629.3,69.8 629.4,74.2 629.6,66.9 629.8,68.2 629.9,71.2 630.1,71.1 630.2,70.2 630.4,67.9 630.6,66.4 630.7,72.5 630.9,61.8 631.0,68.4 631.2,69.4 631.4,66.4 631.5,68.0 631.7,61.7 631.8,65.3 632.0,69.5 632.2,69.5 632.3,69.9 632.5,69.4 632.6,66.6 632.8,70.4 633.0,63.9 633.1,68.8 633.3,69.0 633.4,65.8 633.6,74.3 633.8,71.3 633.9,66.9 634.1,68.6 634.2,68.7 634.4,67.5 634.6,70.4 634.7,69.2 634.9,72.7 635.0,74.2 635.2,65.1 635.4,71.5 635.5,70.9 635.7,64.8 635.8,65.8 636.0,70.4 636.2,70.4 636.3,69.2 636.5,71.7 636.6,67.4 636.8,68.6 637.0,68.6 637.1,66.8 637.3,66.9 637.4,63.7 637.6,64.6 637.8,74.1 637.9,66.5 638.1,72.4 638.2,73.3 638.4,67.1 638.5,71.2 638.7,70.1 638.9,66.1 639.0,71.2 639.2,71.9 639.3,68.3 639.5,65.7 639.7,67.8 639.8,73.9 640.0,71.3 640.1,69.8 640.3,63.7 640.5,66.8 640.6,66.9 640.8,65.9 640.9,70.4 641.1,68.1 641.3,68.0 641.4,72.4 641.6,69.6 641.7,67.9 641.9,72.8 642.1,67.2 642.2,67.3 642.4,66.5 642.5,72.0 642.7,69.3 642.9,65.3 643.0,67.3 643.2,72.1 643.3,69.1 643.5,65.5 643.7,70.0 643.8,68.7 644.0,62.1 644.1,69.9 644.3,70.2 644.5,72.9 644.6,71.9 644.8,65.4 644.9,70.3 645.1,73.5 645.3,72.8 645.4,70.0 645.6,67.7 645.7,72.3 645.9,67.9 646.1,71.6 646.2,69.0 646.4,68.5 646.5,68.3 646.7,71.4 646.9,70.7 647.0,68.6 647.2,74.1 647.3,69.7 647.5,68.6 647.6,67.0 647.8,70.3 648.0,70.8 648.1,69.8 648.3,72.5 648.4,70.9 648.6,69.1 648.8,69.5 648.9,73.5 649.1,71.3 649.2,76.8 649.4,67.9 649.6,72.0 649.7,69.7 649.9,73.8 650.0,70.7 650.2,69.1 650.4,67.4 650.5,74.6 650.7,67.9 650.8,71.0 651.0,72.9 651.2,69.0 651.3,71.4 651.5,71.4 651.6,72.7 651.8,69.9 652.0,70.4 652.1,71.1 652.3,73.5 652.4,72.2 652.6,69.4 652.8,66.7 652.9,70.7 653.1,66.2 653.2,70.7 653.4,74.0 653.6,68.7 653.7,73.7 653.9,69.4 654.0,67.4 654.2,71.7 654.4,71.0 654.5,63.0 654.7,70.0 654.8,69.9 655.0,68.3 655.2,71.1 655.3,71.0 655.5,69.6 655.6,78.3 655.8,66.3 656.0,74.1 656.1,74.2 656.3,69.1 656.4,70.7 656.6,74.8 656.7,70.2 656.9,74.4 657.1,73.1 657.2,75.6 657.4,73.5 657.5,69.6 657.7,70.5 657.9,69.9 658.0,68.0 658.2,71.1 658.3,73.0 658.5,71.8 658.7,65.7 658.8,70.9 659.0,70.0 659.1,71.3 659.3,70.2 659.5,69.6 659.6,71.0 659.8,71.5 659.9,73.5 660.1,73.7 660.3,69.7 660.4,68.7 660.6,68.1 660.7,70.9 660.9,73.7 661.1,69.1 661.2,69.1 661.4,75.9 661.5,68.5 661.7,69.3 661.9,65.8 662.0,74.8 662.2,75.3 662.3,68.6 662.5,76.9 662.7,73.5 662.8,74.7 663.0,74.5 663.1,77.3 663.3,72.0 663.5,68.1 663.6,69.8 663.8,69.8 663.9,72.4 664.1,66.6 664.3,69.5 664.4,67.9 664.6,76.3 664.7,70.2 664.9,75.0 665.1,70.2 665.2,70.6 665.4,75.0 665.5,70.7 665.7,67.5 665.8,69.7 666.0,69.4 666.2,74.1 666.3,73.6 666.5,75.0 666.6,70.9 666.8,67.5 667.0,69.9 667.1,71.4 667.3,75.0 667.4,69.9 667.6,72.2 667.8,77.7 667.9,77.1 668.1,72.5 668.2,74.4 668.4,66.0 668.6,71.3 668.7,74.9 668.9,73.1 669.0,66.2 669.2,74.6 669.4,69.0 669.5,70.1 669.7,66.7 669.8,69.8 670.0,72.9 670.2,69.8 670.3,71.3 670.5,68.3 670.6,71.8 670.8,65.0 671.0,71.9 671.1,70.1 671.3,73.8 671.4,71.2 671.6,71.5 671.8,71.0 671.9,68.6" fill="none" stroke="#1f77b4" stroke-width="0.7" stroke-linejoin="round"/>
<polyline points="432.6,29.9 432.8,30.5 432.9,27.1 433.1,29.6 433.2,30.4 433.4,27.2 433.6,27.9 433.7,34.0 433.9,30.1 434.0,28.1 434.2,28.1 434.4,30.5 434.5,27.0 434.7,31.2 434.8,30.2 435.0,29.7 435.2,30.0 435.3,28.6 435.5,28.3 435.6,30.2 435.8,27.8 436.0,31.5 436.1,30.7 436.3,27.4 436.4,30.3 436.6,28.7 436.8,31.4 436.9,31.1 437.1,30.9 437.2,30.5 437.4,31.5 437.5,30.9 437.7,29.8 437.9,29.0 438.0,30.9 438.2,30.1 438.3,29.7 438.5,33.2 438.7,34.2 438.8,28.6 439.0,29.2 439.1,31.5 439.3,31.0 439.5,33.4 439.6,34.2 439.8,31.3 439.9,34.5 440.1,30.4 440.3,33.3 440.4,31.6 440.6,28.8 440.7,28.9 440.9,32.8 441.1,30.5 441.2,34.3 441.4,33.6 441.5,31.9 441.7,30.2 441.9,33.7 442.0,31.8 442.2,32.7 442.3,35.1 442.5,33.2 442.7,30.5 442.8,33.4 443.0,32.4 443.1,31.9 443.3,34.8 443.5,31.4 443.6,31.1 443.8,31.0 443.9,31.6 444.1,34.8 444.3,35.2 444.4,35.6 444.6,35.9 444.7,35.8 444.9,32.8 445.1,32.1 445.2,35.9 445.4,33.4 445.5,37.2 445.7,35.6 445.9,36.9 446.0,38.1 446.2,35.3 446.3,35.3 446.5,36.3 446.6,36.6 446.8,37.5 447.0,36.1 447.1,37.0 447.3,35.7 447.4,38.3 447.6,35.9 447.8,35.5 447.9,34.3 448.1,34.8 448.2,36.4 448.4,38.0 448.6,40.2 448.7,37.0 448.9,34.6 449.0,34.3 449.2,41.8 449.4,38.8 449.5,38.2 449.7,39.5 449.8,37.4 450.0,37.8 450.2,38.9 450.3,38.1 450.5,41.0 450.6,40.0 450.8,39.9 451.0,36.9 451.1,41.4 451.3,39.0 451.4,37.4 451.6,39.0 451.8,37.5 451.9,40.2 452.1,38.4 452.2,37.7 452.4,35.4 452.6,38.2 452.7,37.1 452.9,39.7 453.0,39.6 453.2,37.1 453.4,39.0 453.5,37.6 453.7,38.9 453.8,36.5 454.0,36.2 454.2,42.0 454.3,37.3 454.5,39.9 454.6,40.0 454.8,41.1 455.0,39.7 455.1,43.1 455.3,42.5 455.4,42.7 455.6,40.9 455.7,39.9 455.9,40.3 456.1,41.1 456.2,42.9 456.4,45.0 456.5,41.3 456.7,41.9 456.9,41.6 457.0,39.8 457.2,42.7 457.3,42.9 457.5,46.7 457.7,41.7 457.8,42.9 458.0,44.2 458.1,42.3 458.3,45.0 458.5,44.1 458.6,39.8 458.8,42.0 458.9,41.8 459.1,42.2 459.3,42.5 459.4,43.4 459.6,39.7 459.7,44.0 459.9,42.7 460.1,44.5 460.2,44.8 460.4,48.6 460.5,47.8 460.7,41.7 460.9,41.9 461.0,45.4 461.2,44.8 461.3,43.7 461.5,46.7 461.7,41.8 461.8,46.9 462.0,46.4 462.1,50.2 462.3,42.6 462.5,45.3 462.6,42.6 462.8,47.4 462.9,45.1 463.1,45.6 463.3,45.5 463.4,42.2 463.6,42.0 463.7,43.7 463.9,46.9 464.1,44.7 464.2,44.0 464.4,45.5 464.5,45.5 464.7,45.8 464.8,48.4 465.0,46.4 465.2,44.1 465.3,48.8 465.5,47.0 465.6,45.7 465.8,49.7 466.0,47.6 466.1,50.5 466.3,48.6 466.4,50.2 466.6,49.3 466.8,48.7 466.9,48.4 467.1,48.4 467.2,52.4 467.4,45.3 467.6,48.8 467.7,50.3 467.9,49.6 468.0,48.0 468.2,50.4 468.4,49.5 468.5,49.6 468.7,47.9 468.8,50.3 469.0,48.3 469.2,48.5 469.3,49.5 469.5,47.1 469.6,49.4 469.8,51.6 470.0,49.1 470.1,49.5 470.3,49.8 470.4,49.4 470.6,45.7 470.8,49.6 470.9,49.3 471.1,50.7 471.2,47.9 471.4,50.5 471.6,51.9 471.7,52.8 471.9,49.7 472.0,49.4 472.2,53.7 472.4,52.2 472.5,49.9 472.7,49.2 472.8,53.6 473.0,52.0 473.2,49.9 473.3,52.4 473.5,52.4 473.6,52.6 473.8,54.1 473.9,51.7 474.1,51.3 474.3,54.5 474.4,51.9 474.6,50.1 474.7,51.8 474.9,50.5 475.1,53.3 475.2,49.9 475.4,53.9 475.5,49.1 475.7,53.4 475.9,53.9 476.0,54.3 476.2,53.5 476.3,53.7 476.5,54.1 476.7,53.5 476.8,51.8 477.0,51.5 477.1,53.8 477.3,51.0 477.5,55.1 477.6,55.2 477.8,55.5 477.9,52.4 478.1,56.3 478.3,56.1 478.4,51.3 478.6,50.6 478.7,51.3 478.9,56.6 479.1,53.9 479.2,52.5 479.4,53.9 479.5,57.1 479.7,54.8 479.9,57.3 480.0,56.6 480.2,50.4 480.3,53.2 480.5,57.2 480.7,57.3 480.8,53.8 481.0,55.8 481.1,53.7 481.3,56.0 481.5,55.3 481.6,54.5 481.8,56.9 481.9,58.6 482.1,57.3 482.3,56.5 482.4,55.6 482.6,55.4 482.7,55.5 482.9,54.5 483.0,57.2 483.2,53.0 483.4,52.0 483.5,55.1 483.7,55.4 483.8,53.6 484.0,54.7 484.2,55.6 484.3,56.4 484.5,57.5 484.6,58.3 484.8,55.0 485.0,54.1 485.1,58.3 485.3,56.6 485.4,56.1 485.6,57.3 485.8,58.0 485.9,57.4 486.1,60.4 486.2,56.9 486.4,57.4 486.6,53.1 486.7,55.3 486.9,57.7 487.0,57.2 487.2,54.0 487.4,54.3 487.5,57.0 487.7,57.6 487.8,60.1 488.0,58.1 488.2,57.9 488.3,59.0 488.5,54.5 488.6,61.3 488.8,58.1 489.0,57.2 489.1,57.2 489.3,54.9 489.4,60.7 489.6,59.6 489.8,58.1 489.9,58.1 490.1,59.1 490.2,59.8 490.4,56.5 490.6,60.5 490.7,59.7 490.9,56.0 491.0,55.6 491.2,57.3 491.4,60.6 491.5,60.6 491.7,60.8 491.8,61.3 492.0,60.1 492.1,57.0 492.3,59.0 492.5,60.9 492.6,61.1 492.8,61.9 492.9,57.5 493.1,63.6 493.3,59.5 493.4,62.7 493.6,62.1 493.7,63.0 493.9,58.5 494.1,60.5 494.2,55.4 494.4,62.5 494.5,62.7 494.7,59.6 494.9,59.8 495.0,61.4 495.2,64.8 495.3,58.4 495.5,60.1 495.7,60.5 495.8,62.4 496.0,60.2 496.1,62.5 496.3,61.5 496.5,62.0 496.6,59.4 496.8,62.7 496.9,62.6 497.1,59.9 497.3,61.7 497.4,62.2 497.6,62.7 497.7,60.6 497.9,63.7 498.1,61.6 498.2,58.8 498.4,61.9 498.5,64.3 498.7,65.1 498.9,62.7 499.0,65.3 499.2,66.1 499.3,64.6 499.5,65.4 499.7,61.7 499.8,66.2 500.0,60.6 500.1,65.0 500.3,63.4 500.5,62.4 500.6,63.3 500.8,62.4 500.9,65.7 501.1,68.2 501.2,64.3 501.4,67.2 501.6,65.2 501.7,62.3 501.9,64.5 502.0,65.3 502.2,66.4 502.4,64.9 502.5,64.7 502.7,67.4 502.8,63.9 503.0,66.5 503.2,64.1 503.3,65.5 503.5,62.8 503.6,63.1 503.8,64.7 504.0,65.0 504.1,64.0 504.3,62.3 504.4,62.9 504.6,64.7 504.8,64.4 504.9,62.0 505.1,68.2 505.2,64.1 505.4,66.9 505.6,62.6 505.7,66.2 505.9,65.5 506.0,67.4 506.2,65.4 506.4,63.9 506.5,62.3 506.7,67.9 506.8,66.4 507.0,58.1 507.2,63.9 507.3,65.7 507.5,64.7 507.6,70.9 507.8,62.7 508.0,65.6 508.1,68.7 508.3,63.7 508.4,67.2 508.6,68.0 508.8,65.1 508.9,65.4 509.1,67.1 509.2,66.4 509.4,68.9 509.6,69.1 509.7,64.7 509.9,63.9 510.0,65.7 510.2,65.8 510.3,67.4 510.5,66.9 510.7,68.5 510.8,63.3 511.0,67.9 511.1,66.0 511.3,66.9 511.5,69.6 511.6,63.2 511.8,67.8 511.9,68.6 512.1,66.9 512.3,68.9 512.4,67.2 512.6,69.1 512.7,66.2 512.9,67.3 513.1,70.1 513.2,65.4 513.4,67.1 513.5,69.7 513.7,66.9 513.9,66.8 514.0,64.1 514.2,69.4 514.3,66.1 514.5,68.0 514.7,66.7 514.8,68.4 515.0,68.1 515.1,67.1 515.3,70.4 515.5,72.2 515.6,68.2 515.8,69.1 515.9,68.1 516.1,67.1 516.3,68.8 516.4,66.1 516.6,68.5 516.7,68.3 516.9,66.9 517.1,67.4 517.2,68.8 517.4,68.4 517.5,70.2 517.7,70.0 517.9,68.6 518.0,67.3 518.2,69.8 518.3,67.3 518.5,65.2 518.7,64.8 518.8,69.0 519.0,67.1 519.1,68.0 519.3,67.7 519.4,67.6 519.6,68.3 519.8,67.7 519.9,69.0 520.1,70.0 520.2,69.0 520.4,68.6 520.6,67.2 520.7,68.9 520.9,68.2 521.0,66.9 521.2,71.6 521.4,70.4 521.5,68.8 521.7,69.9 521.8,72.0 522.0,68.1 522.2,70.2 522.3,72.1 522.5,66.4 522.6,72.8 522.8,70.3 523.0,71.7 523.1,70.2 523.3,69.3 523.4,72.1 523.6,70.7 523.8,70.8 523.9,72.6 524.1,68.3 524.2,70.4 524.4,71.4 524.6,72.2 524.7,71.5 524.9,70.6 525.0,71.9 525.2,68.5 525.4,76.2 525.5,75.4 525.7,71.7 525.8,74.9 526.0,71.4 526.2,72.6 526.3,70.2 526.5,70.6 526.6,68.8 526.8,69.7 527.0,69.0 527.1,70.5 527.3,69.5 527.4,70.7 527.6,72.9 527.8,74.3 527.9,74.3 528.1,70.9 528.2,76.8 528.4,71.6 528.5,73.6 528.7,70.6 528.9,71.7 529.0,73.7 529.2,72.2 529.3,76.9 529.5,71.8 529.7,71.4 529.8,76.2 530.0,70.8 530.1,72.8 530.3,72.2 530.5,75.5 530.6,71.5 530.8,71.5 530.9,72.8 531.1,74.8 531.3,71.3 531.4,70.4 531.6,72.2 531.7,71.0 531.9,74.2 532.1,72.8 532.2,72.4 532.4,72.9 532.5,67.5 532.7,72.4 532.9,74.5 533.0,71.7 533.2,75.6 533.3,72.7 533.5,71.9 533.7,74.6 533.8,74.2 534.0,75.6 534.1,73.4 534.3,75.1 534.5,70.2 534.6,72.5 534.8,74.3 534.9,76.8 535.1,69.8 535.3,71.3 535.4,73.1 535.6,73.7 535.7,73.8 535.9,75.1 536.1,70.4 536.2,73.9 536.4,77.3 536.5,75.7 536.7,79.7 536.9,73.1 537.0,72.9 537.2,70.9 537.3,70.3 537.5,76.3 537.6,73.8 537.8,72.7 538.0,73.2 538.1,75.9 538.3,73.3 538.4,73.9 538.6,72.2 538.8,75.1 538.9,75.6 539.1,76.2 539.2,75.9 539.4,76.8 539.6,75.9 539.7,74.2 539.9,74.3 540.0,72.6 540.2,73.1 540.4,74.1 540.5,77.8 540.7,74.2 540.8,73.0 541.0,78.2 541.2,77.9 541.3,77.6 541.5,77.8 541.6,76.2 541.8,77.6 542.0,74.9 542.1,78.3 542.3,76.0 542.4,76.9 542.6,77.9 542.8,73.7 542.9,75.9 543.1,74.8 543.2,76.7 543.4,74.5 543.6,74.7 543.7,76.4 543.9,79.8 544.0,74.4 544.2,74.7 544.4,75.8 544.5,75.7 544.7,76.0 544.8,75.9 545.0,78.4 545.2,76.5 545.3,75.7 545.5,77.7 545.6,78.5 545.8,72.5 546.0,75.2 546.1,77.2 546.3,77.6 546.4,82.2 546.6,79.6 546.7,77.2 546.9,73.9 547.1,81.1 547.2,78.2 547.4,72.7 547.5,75.4 547.7,75.9 547.9,74.3 548.0,77.1 548.2,77.3 548.3,75.4 548.5,75.2 548.7,79.3 548.8,73.8 549.0,80.8 549.1,78.6 549.3,70.6 549.5,78.3 549.6,75.8 549.8,79.4 549.9,77.9 550.1,78.8 550.3,78.2 550.4,75.9 550.6,73.6 550.7,75.5 550.9,74.1 551.1,78.5 551.2,74.3 551.4,76.3 551.5,74.6 551.7,78.5 551.9,78.1 552.0,74.7 552.2,76.4 552.3,77.5 552.5,79.2 552.7,78.0 552.8,76.8 553.0,76.3 553.1,79.1 553.3,78.7 553.5,77.0 553.6,80.4 553.8,76.0 553.9,78.1 554.1,78.4 554.3,83.4 554.4,81.7 554.6,80.5 554.7,79.5 554.9,80.7 555.1,77.5 555.2,78.1 555.4,79.0 555.5,82.9 555.7,75.4 555.8,79.1 556.0,77.3 556.2,80.0 556.3,78.6 556.5,77.1 556.6,78.2 556.8,76.6 557.0,79.1 557.1,74.4 557.3,82.9 557.4,80.0 557.6,76.7 557.8,79.5 557.9,79.9 558.1,82.9 558.2,76.4 558.4,83.3 558.6,78.0 558.7,78.8 558.9,77.3 559.0,76.1 559.2,80.9 559.4,81.2 559.5,80.1 559.7,83.3 559.8,77.7 560.0,80.4 560.2,79.3 560.3,82.2 560.5,79.7 560.6,81.1 560.8,80.0 561.0,82.3 561.1,77.6 561.3,81.4 561.4,85.7 561.6,78.6 561.8,80.7 561.9,82.1 562.1,74.6 562.2,80.3 562.4,83.2 562.6,81.7 562.7,79.5 562.9,80.9 563.0,77.7 563.2,78.1 563.4,82.3 563.5,80.5 563.7,79.2 563.8,81.6 564.0,81.8 564.2,78.8 564.3,79.8 564.5,84.0 564.6,82.1 564.8,81.9 564.9,81.3 565.1,82.6 565.3,78.1 565.4,83.3 565.6,83.6 565.7,80.7 565.9,86.3 566.1,83.6 566.2,79.9 566.4,84.4 566.5,83.3 566.7,79.0 566.9,80.5 567.0,81.4 567.2,81.0 567.3,83.2 567.5,81.0 567.7,82.2 567.8,76.1 568.0,80.6 568.1,82.6 568.3,82.0 568.5,81.8 568.6,85.1 568.8,83.9 568.9,78.6 569.1,85.3 569.3,83.5 569.4,79.9 569.6,78.8 569.7,84.6 569.9,79.0 570.1,83.2 570.2,78.6 570.4,81.3 570.5,83.1 570.7,80.9 570.9,81.3 571.0,84.4 571.2,77.7 571.3,83.5 571.5,80.1 571.7,83.9 571.8,87.0 572.0,85.5 572.1,83.2 572.3,81.4 572.5,79.0 572.6,82.9 572.8,83.7 572.9,86.0 573.1,83.3 573.3,82.5 573.4,88.4 573.6,80.3 573.7,80.7 573.9,78.1 574.0,85.6 574.2,83.4 574.4,83.5 574.5,86.7 574.7,85.6 574.8,86.0 575.0,82.5 575.2,82.8 575.3,80.7 575.5,84.8 575.6,87.1 575.8,82.9 576.0,83.1 576.1,82.4 576.3,81.1 576.4,85.4 576.6,82.2 576.8,86.4 576.9,83.8 577.1,82.5 577.2,84.5 577.4,83.7 577.6,87.5 577.7,85.8 577.9,84.0 578.0,87.2 578.2,86.4 578.4,78.7 578.5,83.8 578.7,86.4 578.8,87.0 579.0,81.3 579.2,91.2 579.3,85.5 579.5,83.3 579.6,86.2 579.8,83.6 580.0,87.4 580.1,85.0 580.3,84.9 580.4,85.0 580.6,84.7 580.8,85.0 580.9,82.5 581.1,85.8 581.2,86.6 581.4,85.9 581.6,86.0 581.7,89.0 581.9,89.9 582.0,88.6 582.2,84.8 582.4,87.1 582.5,86.5 582.7,78.7 582.8,82.9 583.0,86.1 583.1,87.1 583.3,82.4 583.5,87.6 583.6,82.8 583.8,84.3 583.9,82.5 584.1,87.6 584.3,83.7 584.4,90.2 584.6,86.3 584.7,83.4 584.9,84.3 585.1,90.4 585.2,84.4 585.4,85.0 585.5,86.3 585.7,87.9 585.9,86.9 586.0,87.6 586.2,84.0 586.3,85.2 586.5,83.7 586.7,84.7 586.8,89.5 587.0,86.1 587.1,81.2 587.3,89.2 587.5,85.8 587.6,88.4 587.8,88.7 587.9,86.1 588.1,84.4 588.3,84.8 588.4,85.6 588.6,84.4 588.7,90.7 588.9,84.8 589.1,85.8 589.2,87.3 589.4,86.9 589.5,89.0 589.7,84.1 589.9,88.8 590.0,90.6 590.2,87.1 590.3,88.5 590.5,87.3 590.7,83.4 590.8,87.5 591.0,86.9 591.1,81.7 591.3,90.7 591.5,86.4 591.6,84.5 591.8,83.6 591.9,81.9 592.1,89.1 592.2,85.9 592.4,87.7 592.6,88.6 592.7,89.3 592.9,91.2 593.0,86.8 593.2,85.7 593.4,90.3 593.5,85.8 593.7,89.1 593.8,90.2 594.0,94.3 594.2,85.0 594.3,86.0 594.5,88.6 594.6,88.8 594.8,91.1 595.0,86.6 595.1,88.0 595.3,86.6 595.4,87.5 595.6,91.5 595.8,91.9 595.9,86.9 596.1,92.3 596.2,87.3 596.4,85.8 596.6,91.3 596.7,86.4 596.9,88.0 597.0,86.8 597.2,89.7 597.4,88.2 597.5,87.1 597.7,83.5 597.8,86.3 598.0,86.9 598.2,91.5 598.3,87.4 598.5,90.0 598.6,88.4 598.8,87.6 599.0,85.8 599.1,86.8 599.3,87.8 599.4,88.5 599.6,84.9 599.8,90.6 599.9,88.3 600.1,84.9 600.2,88.9 600.4,86.3 600.6,86.2 600.7,83.4 600.9,85.6 601.0,92.8 601.2,88.6 601.4,87.9 601.5,86.5 601.7,87.7 601.8,83.8 602.0,85.9 602.1,91.8 602.3,90.4 602.5,94.1 602.6,84.4 602.8,89.2 602.9,89.3 603.1,93.1 603.3,90.2 603.4,88.0 603.6,90.2 603.7,90.2 603.9,90.8 604.1,84.1 604.2,90.7 604.4,93.1 604.5,90.7 604.7,90.3 604.9,89.7 605.0,90.1 605.2,92.4 605.3,90.1 605.5,88.6 605.7,93.3 605.8,84.4 606.0,85.2 606.1,94.5 606.3,90.7 606.5,87.1 606.6,86.2 606.8,85.1 606.9,94.7 607.1,92.8 607.3,91.2 607.4,88.4 607.6,92.7 607.7,88.8 607.9,88.7 608.1,88.0 608.2,93.4 608.4,89.5 608.5,89.8 608.7,91.1 608.9,86.6 609.0,90.8 609.2,86.2 609.3,91.7 609.5,85.5 609.7,85.7 609.8,92.3 610.0,89.2 610.1,89.3 610.3,92.8 610.5,88.1 610.6,88.6 610.8,92.5 610.9,89.9 611.1,87.8 611.2,90.6 611.4,92.1 611.6,85.8 611.7,92.9 611.9,89.3 612.0,87.2 612.2,88.1 612.4,95.2 612.5,91.1 612.7,90.6 612.8,90.8 613.0,88.6 613.2,88.8 613.3,89.9 613.5,89.6 613.6,87.5 613.8,86.9 614.0,95.4 614.1,84.4 614.3,91.8 614.4,88.2 614.6,94.8 614.8,91.7 614.9,93.8 615.1,87.4 615.2,88.0 615.4,90.4 615.6,90.9 615.7,89.4 615.9,93.0 616.0,92.1 616.2,92.5 616.4,88.2 616.5,90.4 616.7,94.0 616.8,89.6 617.0,89.1 617.2,86.7 617.3,92.1 617.5,89.5 617.6,84.9 617.8,91.5 618.0,91.6 618.1,89.2 618.3,92.0 618.4,90.7 618.6,92.1 618.8,92.9 618.9,88.3 619.1,91.8 619.2,93.5 619.4,91.6 619.6,91.2 619.7,90.0 619.9,88.2 620.0,85.9 620.2,94.3 620.3,91.6 620.5,96.0 620.7,90.3 620.8,89.5 621.0,92.8 621.1,93.5 621.3,93.8 621.5,95.2 621.6,89.3 621.8,85.8 621.9,94.3 622.1,86.6 622.3,91.5 622.4,95.1 622.6,89.6 622.7,89.1 622.9,90.1 623.1,92.0 623.2,86.6 623.4,92.1 623.5,89.5 623.7,89.5 623.9,93.9 624.0,96.6 624.2,96.3 624.3,92.5 624.5,90.4 624.7,96.5 624.8,93.5 625.0,87.2 625.1,96.6 625.3,90.2 625.5,90.6 625.6,89.4 625.8,95.8 625.9,90.7 626.1,95.6 626.3,87.9 626.4,94.1 626.6,90.6 626.7,94.0 626.9,91.3 627.1,96.1 627.2,91.0 627.4,90.1 627.5,91.8 627.7,87.2 627.9,90.8 628.0,89.6 628.2,90.4 628.3,86.5 628.5,93.8 628.7,92.7 628.8,92.6 629.0,90.2 629.1,91.2 629.3,89.6 629.4,91.1 629.6,93.5 629.8,92.2 629.9,90.8 630.1,98.6 630.2,88.0 630.4,93.7 630.6,93.1 630.7,91.3 630.9,92.8 631.0,96.3 631.2,92.8 631.4,88.1 631.5,89.1 631.7,88.5 631.8,93.7 632.0,92.8 632.2,89.1 632.3,87.8 632.5,92.1 632.6,95.0 632.8,97.8 633.0,88.0 633.1,96.7 633.3,90.9 633.4,89.6 633.6,82.6 633.8,91.7 633.9,92.6 634.1,90.9 634.2,90.7 634.4,88.3 634.6,90.2 634.7,94.5 634.9,98.5 635.0,91.4 635.2,94.3 635.4,88.1 635.5,96.2 635.7,91.7 635.8,94.5 636.0,95.0 636.2,87.4 636.3,91.9 636.5,93.0 636.6,90.2 636.8,94.8 637.0,93.6 637.1,94.4 637.3,86.5 637.4,91.5 637.6,90.6 637.8,89.2 637.9,93.1 638.1,93.0 638.2,97.5 638.4,91.2 638.5,91.8 638.7,93.9 638.9,89.0 639.0,98.1 639.2,91.4 639.3,96.9 639.5,96.2 639.7,93.4 639.8,88.7 640.0,96.4 640.1,95.8 640.3,96.5 640.5,86.7 640.6,91.2 640.8,91.6 640.9,86.5 641.1,92.1 641.3,99.4 641.4,94.5 641.6,96.6 641.7,86.7 641.9,97.3 642.1,92.0 642.2,94.6 642.4,94.4 642.5,93.0 642.7,93.5 642.9,95.2 643.0,96.9 643.2,95.1 643.3,96.4 643.5,95.9 643.7,92.8 643.8,93.6 644.0,91.7 644.1,93.9 644.3,87.2 644.5,95.5 644.6,96.4 644.8,90.1 644.9,95.5 645.1,92.9 645.3,90.3 645.4,93.6 645.6,94.5 645.7,90.3 645.9,92.3 646.1,95.1 646.2,97.2 646.4,94.6 646.5,98.7 646.7,96.2 646.9,96.9 647.0,92.5 647.2,91.1 647.3,95.5 647.5,94.9 647.6,97.0 647.8,97.9 648.0,94.9 648.1,91.7 648.3,92.0 648.4,91.7 648.6,94.4 648.8,102.2 648.9,90.6 649.1,89.3 649.2,90.6 649.4,90.7 649.6,90.1 649.7,85.0 649.9,92.5 650.0,88.6 650.2,91.0 650.4,91.4 650.5,94.0 650.7,94.6 650.8,97.2 651.0,91.7 651.2,94.6 651.3,97.4 651.5,96.0 651.6,97.4 651.8,88.4 652.0,94.4 652.1,93.2 652.3,97.5 652.4,96.9 652.6,90.2 652.8,94.4 652.9,92.9 653.1,87.7 653.2,86.9 653.4,91.4 653.6,92.1 653.7,92.9 653.9,94.6 654.0,87.1 654.2,97.6 654.4,94.0 654.5,99.9 654.7,97.8 654.8,92.4 655.0,92.2 655.2,92.6 655.3,94.7 655.5,96.0 655.6,95.5 655.8,95.0 656.0,90.1 656.1,89.0 656.3,92.3 656.4,95.5 656.6,96.8 656.7,92.7 656.9,94.5 657.1,99.7 657.2,89.3 657.4,93.8 657.5,94.8 657.7,96.6 657.9,96.7 658.0,90.8 658.2,96.9 658.3,93.5 658.5,91.7 658.7,87.7 658.8,91.8 659.0,93.9 659.1,95.3 659.3,91.0 659.5,90.5 659.6,95.2 659.8,91.9 659.9,94.3 660.1,99.2 660.3,97.2 660.4,91.2 660.6,89.1 660.7,91.6 660.9,94.6 661.1,96.3 661.2,92.1 661.4,92.8 661.5,99.3 661.7,91.7 661.9,96.3 662.0,91.7 662.2,92.1 662.3,91.5 662.5,90.3 662.7,91.6 662.8,97.5 663.0,97.4 663.1,90.5 663.3,92.4 663.5,99.2 663.6,100.7 663.8,91.0 663.9,86.5 664.1,91.2 664.3,94.8 664.4,93.1 664.6,103.2 664.7,97.4 664.9,90.6 665.1,91.1 665.2,101.2 665.4,90.0 665.5,92.2 665.7,90.9 665.8,94.7 666.0,94.0 666.2,97.7 666.3,93.0 666.5,91.0 666.6,97.3 666.8,92.8 667.0,95.9 667.1,90.5 667.3,90.7 667.4,102.2 667.6,92.5 667.8,90.6 667.9,96.0 668.1,94.9 668.2,94.6 668.4,98.1 668.6,94.5 668.7,88.8 668.9,92.5 669.0,88.9 669.2,90.7 669.4,90.0 669.5,93.7 669.7,91.5 669.8,87.2 670.0,89.1 670.2,93.1 670.3,96.6 670.5,97.4 670.6,93.4 670.8,92.7 671.0,100.6 671.1,93.5 671.3,93.0 671.4,93.2 671.6,96.1 671.8,86.2 671.9,91.2" fill="none" stroke="#ff7f0e" stroke-width="0.7" stroke-linejoin="round"/>
<line x1="420.4" y1="133.2" x2="683.5" y2="133.2" stroke="#6a6a6a" stroke-width="1"/>
<line x1="420.4" y1="218.7" x2="683.5" y2="218.7" stroke="#a8a8a8" stroke-width="1"/>
<line x1="420.4" y1="133.2" x2="420.4" y2="218.7" stroke="#999999" stroke-width="1"/>
<line x1="683.5" y1="133.2" x2="683.5" y2="218.7" stroke="#cccccc" stroke-width="1"/>
<line x1="418" y1="216.5" x2="420.4" y2="216.5" stroke="#444" stroke-width="0.7"/>
<text x="415.9" y="219.0" font-size="7" fill="#1a1a1a" font-weight="normal" text-anchor="end"  stroke="#1a1a1a" stroke-width="0.15">0.0</text>
<line x1="418" y1="201.5" x2="420.4" y2="201.5" stroke="#444" stroke-width="0.7"/>
<text x="415.9" y="204.0" font-size="7" fill="#1a1a1a" font-weight="normal" text-anchor="end"  stroke="#1a1a1a" stroke-width="0.15">0.1</text>
<line x1="418" y1="186.5" x2="420.4" y2="186.5" stroke="#444" stroke-width="0.7"/>
<text x="415.9" y="189.0" font-size="7" fill="#1a1a1a" font-weight="normal" text-anchor="end"  stroke="#1a1a1a" stroke-width="0.15">0.2</text>
<line x1="418" y1="171.4" x2="420.4" y2="171.4" stroke="#444" stroke-width="0.7"/>
<text x="415.9" y="173.9" font-size="7" fill="#1a1a1a" font-weight="normal" text-anchor="end"  stroke="#1a1a1a" stroke-width="0.15">0.3</text>
<line x1="418" y1="156.4" x2="420.4" y2="156.4" stroke="#444" stroke-width="0.7"/>
<text x="415.9" y="158.9" font-size="7" fill="#1a1a1a" font-weight="normal" text-anchor="end"  stroke="#1a1a1a" stroke-width="0.15">0.4</text>
<line x1="418" y1="141.4" x2="420.4" y2="141.4" stroke="#444" stroke-width="0.7"/>
<text x="415.9" y="143.9" font-size="7" fill="#1a1a1a" font-weight="normal" text-anchor="end"  stroke="#1a1a1a" stroke-width="0.15">0.5</text>
<line x1="432.6" y1="218.7" x2="432.6" y2="220.9" stroke="#444" stroke-width="0.7"/>
<text x="432.6" y="228.4" font-size="7" fill="#1a1a1a" font-weight="normal" text-anchor="middle" stroke="#1a1a1a" stroke-width="0.15">0</text>
<line x1="464.5" y1="218.7" x2="464.5" y2="220.9" stroke="#444" stroke-width="0.7"/>
<text x="464.5" y="228.4" font-size="7" fill="#1a1a1a" font-weight="normal" text-anchor="middle" stroke="#1a1a1a" stroke-width="0.15">200</text>
<line x1="496.5" y1="218.7" x2="496.5" y2="220.9" stroke="#444" stroke-width="0.7"/>
<text x="496.5" y="228.4" font-size="7" fill="#1a1a1a" font-weight="normal" text-anchor="middle" stroke="#1a1a1a" stroke-width="0.15">400</text>
<line x1="528.4" y1="218.7" x2="528.4" y2="220.9" stroke="#444" stroke-width="0.7"/>
<text x="528.4" y="228.4" font-size="7" fill="#1a1a1a" font-weight="normal" text-anchor="middle" stroke="#1a1a1a" stroke-width="0.15">600</text>
<line x1="560.3" y1="218.7" x2="560.3" y2="220.9" stroke="#444" stroke-width="0.7"/>
<text x="560.3" y="228.4" font-size="7" fill="#1a1a1a" font-weight="normal" text-anchor="middle" stroke="#1a1a1a" stroke-width="0.15">800</text>
<line x1="592.2" y1="218.7" x2="592.2" y2="220.9" stroke="#444" stroke-width="0.7"/>
<text x="592.2" y="228.4" font-size="7" fill="#1a1a1a" font-weight="normal" text-anchor="middle" stroke="#1a1a1a" stroke-width="0.15">1000</text>
<line x1="624.2" y1="218.7" x2="624.2" y2="220.9" stroke="#444" stroke-width="0.7"/>
<text x="624.2" y="228.4" font-size="7" fill="#1a1a1a" font-weight="normal" text-anchor="middle" stroke="#1a1a1a" stroke-width="0.15">1200</text>
<line x1="656.1" y1="218.7" x2="656.1" y2="220.9" stroke="#444" stroke-width="0.7"/>
<text x="656.1" y="228.4" font-size="7" fill="#1a1a1a" font-weight="normal" text-anchor="middle" stroke="#1a1a1a" stroke-width="0.15">1400</text>
<polyline points="432.6,143.2 432.8,142.1 432.9,139.6 433.1,140.2 433.2,141.0 433.4,141.3 433.6,141.7 433.7,142.2 433.9,143.3 434.0,140.7 434.2,146.5 434.4,143.1 434.5,139.8 434.7,143.4 434.8,144.2 435.0,139.0 435.2,140.5 435.3,142.7 435.5,143.5 435.6,143.0 435.8,143.3 436.0,143.2 436.1,144.2 436.3,142.1 436.4,144.0 436.6,146.3 436.8,145.5 436.9,143.4 437.1,145.2 437.2,147.8 437.4,141.1 437.5,142.9 437.7,144.7 437.9,144.8 438.0,143.2 438.2,141.8 438.3,145.3 438.5,143.6 438.7,145.5 438.8,144.0 439.0,146.6 439.1,147.8 439.3,144.7 439.5,145.0 439.6,143.8 439.8,146.2 439.9,142.8 440.1,145.1 440.3,142.7 440.4,146.0 440.6,143.0 440.7,145.8 440.9,145.5 441.1,144.2 441.2,149.0 441.4,147.8 441.5,143.0 441.7,148.8 441.9,147.1 442.0,145.5 442.2,144.0 442.3,147.4 442.5,146.4 442.7,148.7 442.8,147.5 443.0,145.2 443.1,146.5 443.3,147.2 443.5,146.5 443.6,147.1 443.8,147.1 443.9,148.1 444.1,149.2 444.3,146.5 444.4,149.8 444.6,146.1 444.7,144.4 444.9,145.5 445.1,144.3 445.2,150.1 445.4,148.1 445.5,150.0 445.7,150.0 445.9,151.8 446.0,151.0 446.2,147.6 446.3,148.0 446.5,147.2 446.6,147.5 446.8,148.2 447.0,151.0 447.1,149.9 447.3,148.6 447.4,147.8 447.6,150.7 447.8,151.1 447.9,151.1 448.1,147.7 448.2,149.6 448.4,151.2 448.6,152.1 448.7,150.2 448.9,153.9 449.0,151.5 449.2,152.2 449.4,152.4 449.5,151.1 449.7,150.9 449.8,146.5 450.0,151.7 450.2,150.8 450.3,153.5 450.5,155.0 450.6,150.4 450.8,149.1 451.0,154.3 451.1,152.8 451.3,150.9 451.4,152.7 451.6,157.1 451.8,151.4 451.9,153.5 452.1,152.1 452.2,155.1 452.4,152.1 452.6,151.9 452.7,155.1 452.9,153.1 453.0,155.2 453.2,155.1 453.4,155.9 453.5,155.2 453.7,155.7 453.8,152.7 454.0,155.2 454.2,156.8 454.3,152.7 454.5,154.2 454.6,153.6 454.8,155.5 455.0,154.3 455.1,155.8 455.3,157.4 455.4,155.7 455.6,155.7 455.7,155.8 455.9,154.8 456.1,159.3 456.2,155.9 456.4,157.9 456.5,157.1 456.7,156.0 456.9,156.8 457.0,158.2 457.2,155.8 457.3,157.3 457.5,155.8 457.7,155.4 457.8,158.2 458.0,159.6 458.1,157.7 458.3,156.5 458.5,157.5 458.6,160.2 458.8,161.2 458.9,160.0 459.1,160.2 459.3,157.6 459.4,158.7 459.6,157.4 459.7,159.1 459.9,156.3 460.1,159.2 460.2,158.4 460.4,160.2 460.5,158.8 460.7,157.8 460.9,158.5 461.0,157.8 461.2,161.1 461.3,159.4 461.5,157.4 461.7,160.0 461.8,160.8 462.0,161.0 462.1,161.7 462.3,160.6 462.5,158.6 462.6,160.3 462.8,161.3 462.9,162.7 463.1,163.4 463.3,157.5 463.4,162.5 463.6,161.7 463.7,162.8 463.9,161.8 464.1,163.0 464.2,162.2 464.4,160.1 464.5,163.9 464.7,161.9 464.8,163.1 465.0,161.9 465.2,164.4 465.3,162.7 465.5,165.2 465.6,166.8 465.8,166.0 466.0,165.6 466.1,166.0 466.3,164.8 466.4,162.5 466.6,166.5 466.8,163.9 466.9,164.5 467.1,166.2 467.2,166.7 467.4,164.5 467.6,164.5 467.7,166.1 467.9,165.9 468.0,165.8 468.2,168.2 468.4,165.9 468.5,165.7 468.7,163.3 468.8,168.6 469.0,168.1 469.2,166.6 469.3,167.9 469.5,167.7 469.6,167.1 469.8,167.8 470.0,167.5 470.1,166.8 470.3,170.5 470.4,166.9 470.6,171.8 470.8,165.2 470.9,166.7 471.1,169.4 471.2,166.8 471.4,168.9 471.6,168.0 471.7,167.6 471.9,168.5 472.0,169.2 472.2,168.3 472.4,169.8 472.5,170.2 472.7,171.3 472.8,172.9 473.0,167.3 473.2,168.8 473.3,172.6 473.5,169.7 473.6,170.2 473.8,174.4 473.9,172.2 474.1,171.1 474.3,168.1 474.4,169.3 474.6,169.2 474.7,170.9 474.9,169.9 475.1,173.8 475.2,170.8 475.4,170.8 475.5,174.3 475.7,171.9 475.9,169.8 476.0,169.3 476.2,170.3 476.3,174.0 476.5,173.1 476.7,174.0 476.8,171.1 477.0,174.8 477.1,175.3 477.3,176.4 477.5,173.4 477.6,173.2 477.8,175.1 477.9,175.5 478.1,174.6 478.3,172.1 478.4,176.9 478.6,174.8 478.7,174.5 478.9,174.3 479.1,173.0 479.2,173.8 479.4,174.9 479.5,173.0 479.7,173.7 479.9,175.3 480.0,175.5 480.2,178.1 480.3,176.0 480.5,177.7 480.7,178.4 480.8,177.1 481.0,179.7 481.1,178.4 481.3,177.9 481.5,176.6 481.6,177.9 481.8,176.8 481.9,174.9 482.1,176.3 482.3,179.9 482.4,181.1 482.6,179.7 482.7,179.8 482.9,181.8 483.0,181.4 483.2,181.5 483.4,179.7 483.5,176.4 483.7,176.0 483.8,180.8 484.0,179.9 484.2,181.6 484.3,182.2 484.5,179.6 484.6,179.5 484.8,180.8 485.0,178.7 485.1,180.5 485.3,178.1 485.4,181.0 485.6,178.8 485.8,180.7 485.9,180.2 486.1,179.5 486.2,183.0 486.4,182.0 486.6,181.0 486.7,181.4 486.9,180.6 487.0,182.6 487.2,183.6 487.4,181.5 487.5,181.0 487.7,183.0 487.8,179.6 488.0,180.6 488.2,180.4 488.3,180.6 488.5,183.5 488.6,178.5 488.8,183.5 489.0,181.7 489.1,181.1 489.3,181.9 489.4,182.2 489.6,184.1 489.8,183.4 489.9,182.8 490.1,180.7 490.2,184.1 490.4,181.9 490.6,182.4 490.7,183.1 490.9,184.3 491.0,183.7 491.2,186.5 491.4,183.4 491.5,183.1 491.7,184.7 491.8,183.0 492.0,183.4 492.1,185.3 492.3,182.7 492.5,185.2 492.6,180.2 492.8,186.2 492.9,186.0 493.1,185.8 493.3,184.3 493.4,182.8 493.6,184.8 493.7,185.8 493.9,181.8 494.1,183.5 494.2,185.8 494.4,185.7 494.5,188.2 494.7,185.6 494.9,182.8 495.0,187.9 495.2,188.5 495.3,185.8 495.5,190.4 495.7,183.9 495.8,189.1 496.0,187.8 496.1,186.9 496.3,184.6 496.5,186.1 496.6,190.3 496.8,190.0 496.9,186.8 497.1,191.0 497.3,187.9 497.4,188.9 497.6,186.2 497.7,185.6 497.9,192.2 498.1,187.2 498.2,186.9 498.4,189.5 498.5,189.3 498.7,190.5 498.9,189.1 499.0,187.8 499.2,186.3 499.3,186.2 499.5,189.4 499.7,190.4 499.8,187.3 500.0,194.1 500.1,191.8 500.3,188.2 500.5,185.5 500.6,191.0 500.8,189.5 500.9,191.8 501.1,190.0 501.2,190.1 501.4,191.4 501.6,189.5 501.7,190.6 501.9,189.4 502.0,190.7 502.2,192.6 502.4,190.2 502.5,189.0 502.7,192.0 502.8,188.3 503.0,189.9 503.2,191.4 503.3,190.7 503.5,191.6 503.6,192.5 503.8,189.3 504.0,189.4 504.1,191.9 504.3,191.5 504.4,191.6 504.6,190.0 504.8,188.7 504.9,192.5 505.1,190.8 505.2,191.5 505.4,190.5 505.6,189.0 505.7,193.2 505.9,195.4 506.0,192.0 506.2,194.6 506.4,188.8 506.5,193.1 506.7,192.4 506.8,191.5 507.0,191.7 507.2,192.8 507.3,192.1 507.5,190.5 507.6,192.8 507.8,189.0 508.0,191.7 508.1,196.6 508.3,190.9 508.4,195.7 508.6,192.0 508.8,188.5 508.9,190.7 509.1,194.8 509.2,194.3 509.4,192.8 509.6,190.3 509.7,194.3 509.9,191.0 510.0,192.5 510.2,193.3 510.3,193.5 510.5,190.2 510.7,196.0 510.8,195.4 511.0,191.8 511.1,191.6 511.3,195.9 511.5,195.2 511.6,195.7 511.8,192.7 511.9,194.9 512.1,191.2 512.3,192.4 512.4,193.4 512.6,193.6 512.7,193.0 512.9,192.5 513.1,194.1 513.2,193.7 513.4,192.8 513.5,194.4 513.7,192.5 513.9,194.6 514.0,195.9 514.2,194.2 514.3,191.5 514.5,191.9 514.7,197.6 514.8,194.2 515.0,195.7 515.1,195.4 515.3,195.5 515.5,195.4 515.6,196.0 515.8,195.6 515.9,194.7 516.1,197.4 516.3,197.5 516.4,197.4 516.6,197.4 516.7,194.3 516.9,197.4 517.1,195.6 517.2,195.3 517.4,194.1 517.5,195.4 517.7,193.6 517.9,195.6 518.0,195.1 518.2,194.2 518.3,198.3 518.5,194.9 518.7,192.9 518.8,195.5 519.0,196.1 519.1,192.2 519.3,195.5 519.4,193.5 519.6,200.2 519.8,195.6 519.9,196.8 520.1,195.1 520.2,193.7 520.4,196.2 520.6,196.3 520.7,201.2 520.9,194.5 521.0,193.5 521.2,195.7 521.4,196.9 521.5,195.4 521.7,194.2 521.8,194.9 522.0,192.3 522.2,197.2 522.3,198.7 522.5,195.3 522.6,193.9 522.8,197.1 523.0,196.3 523.1,197.5 523.3,198.7 523.4,197.7 523.6,200.2 523.8,195.9 523.9,195.6 524.1,194.8 524.2,198.0 524.4,197.7 524.6,199.7 524.7,199.3 524.9,194.9 525.0,191.3 525.2,198.6 525.4,197.4 525.5,194.9 525.7,198.0 525.8,195.6 526.0,197.3 526.2,197.3 526.3,195.1 526.5,197.3 526.6,199.2 526.8,195.3 527.0,196.8 527.1,197.9 527.3,198.4 527.4,195.8 527.6,198.3 527.8,196.8 527.9,195.1 528.1,197.2 528.2,195.0 528.4,199.7 528.5,196.0 528.7,196.1 528.9,193.6 529.0,197.1 529.2,195.5 529.3,197.5 529.5,199.3 529.7,198.9 529.8,198.6 530.0,195.8 530.1,198.8 530.3,197.3 530.5,195.7 530.6,195.0 530.8,195.6 530.9,194.6 531.1,199.6 531.3,198.4 531.4,196.9 531.6,195.4 531.7,196.6 531.9,199.0 532.1,198.0 532.2,200.8 532.4,196.1 532.5,201.1 532.7,197.3 532.9,195.7 533.0,196.0 533.2,200.8 533.3,197.4 533.5,198.4 533.7,198.4 533.8,194.7 534.0,197.3 534.1,200.6 534.3,199.9 534.5,196.5 534.6,197.4 534.8,200.1 534.9,201.1 535.1,199.0 535.3,198.8 535.4,196.4 535.6,199.1 535.7,196.7 535.9,195.7 536.1,201.1 536.2,199.2 536.4,195.0 536.5,198.9 536.7,198.1 536.9,196.2 537.0,199.6 537.2,198.9 537.3,201.3 537.5,197.1 537.6,199.1 537.8,198.9 538.0,203.2 538.1,196.3 538.3,196.9 538.4,199.8 538.6,195.9 538.8,203.1 538.9,198.4 539.1,201.6 539.2,193.0 539.4,203.5 539.6,200.8 539.7,199.9 539.9,196.8 540.0,196.8 540.2,197.7 540.4,199.0 540.5,194.3 540.7,199.9 540.8,197.9 541.0,195.1 541.2,201.0 541.3,200.1 541.5,196.4 541.6,197.7 541.8,201.2 542.0,198.5 542.1,194.8 542.3,199.1 542.4,197.1 542.6,198.4 542.8,200.0 542.9,195.5 543.1,196.8 543.2,196.4 543.4,199.0 543.6,198.6 543.7,198.3 543.9,197.9 544.0,199.5 544.2,199.8 544.4,196.2 544.5,201.0 544.7,199.7 544.8,199.6 545.0,199.9 545.2,201.3 545.3,200.4 545.5,197.3 545.6,199.7 545.8,200.4 546.0,195.6 546.1,201.7 546.3,196.9 546.4,198.3 546.6,201.7 546.7,199.8 546.9,199.8 547.1,196.5 547.2,197.2 547.4,199.7 547.5,201.5 547.7,202.5 547.9,199.5 548.0,202.0 548.2,199.5 548.3,199.6 548.5,198.4 548.7,197.2 548.8,199.0 549.0,198.3 549.1,199.6 549.3,197.2 549.5,197.6 549.6,196.1 549.8,196.5 549.9,200.8 550.1,202.3 550.3,198.1 550.4,197.1 550.6,200.8 550.7,196.4 550.9,199.3 551.1,199.6 551.2,198.8 551.4,202.4 551.5,202.9 551.7,200.3 551.9,202.0 552.0,199.6 552.2,199.6 552.3,204.9 552.5,201.3 552.7,198.6 552.8,204.5 553.0,200.4 553.1,202.5 553.3,203.8 553.5,197.6 553.6,197.6 553.8,200.7 553.9,200.9 554.1,197.1 554.3,197.5 554.4,200.0 554.6,198.2 554.7,199.8 554.9,200.7 555.1,198.8 555.2,200.9 555.4,198.9 555.5,200.6 555.7,201.1 555.8,201.3 556.0,199.2 556.2,198.3 556.3,199.3 556.5,202.0 556.6,199.0 556.8,202.1 557.0,202.6 557.1,200.7 557.3,198.6 557.4,198.9 557.6,199.2 557.8,197.5 557.9,198.6 558.1,201.1 558.2,198.8 558.4,201.0 558.6,199.6 558.7,199.2 558.9,200.6 559.0,203.5 559.2,200.8 559.4,201.1 559.5,200.7 559.7,201.4 559.8,202.9 560.0,203.9 560.2,199.2 560.3,198.9 560.5,199.8 560.6,200.7 560.8,196.6 561.0,199.2 561.1,200.6 561.3,198.9 561.4,200.8 561.6,199.2 561.8,200.1 561.9,199.6 562.1,200.6 562.2,201.7 562.4,199.7 562.6,198.4 562.7,202.7 562.9,201.9 563.0,203.1 563.2,199.0 563.4,201.3 563.5,199.0 563.7,202.5 563.8,199.2 564.0,202.1 564.2,201.9 564.3,199.8 564.5,201.8 564.6,202.2 564.8,199.1 564.9,201.2 565.1,198.5 565.3,195.8 565.4,202.3 565.6,201.8 565.7,204.3 565.9,203.6 566.1,199.9 566.2,200.5 566.4,200.6 566.5,200.2 566.7,203.0 566.9,204.8 567.0,199.0 567.2,200.7 567.3,198.9 567.5,201.3 567.7,199.7 567.8,202.4 568.0,201.3 568.1,201.7 568.3,200.6 568.5,198.4 568.6,200.0 568.8,207.5 568.9,201.6 569.1,201.4 569.3,199.7 569.4,201.1 569.6,202.9 569.7,203.1 569.9,202.2 570.1,203.0 570.2,198.5 570.4,200.2 570.5,201.4 570.7,199.5 570.9,197.0 571.0,202.0 571.2,201.6 571.3,202.2 571.5,204.2 571.7,203.0 571.8,203.6 572.0,200.6 572.1,200.7 572.3,199.8 572.5,203.3 572.6,199.6 572.8,203.8 572.9,202.1 573.1,199.0 573.3,199.1 573.4,199.4 573.6,197.3 573.7,199.6 573.9,202.3 574.0,202.3 574.2,203.5 574.4,201.3 574.5,203.5 574.7,203.2 574.8,204.0 575.0,205.5 575.2,196.6 575.3,200.0 575.5,206.4 575.6,201.0 575.8,203.2 576.0,206.6 576.1,202.5 576.3,201.5 576.4,200.8 576.6,199.6 576.8,203.9 576.9,202.2 577.1,200.6 577.2,200.9 577.4,201.3 577.6,201.9 577.7,199.4 577.9,204.9 578.0,205.4 578.2,198.4 578.4,201.3 578.5,199.8 578.7,201.7 578.8,203.0 579.0,203.2 579.2,201.9 579.3,203.3 579.5,202.4 579.6,202.4 579.8,200.5 580.0,200.5 580.1,198.8 580.3,203.9 580.4,202.4 580.6,200.2 580.8,201.6 580.9,207.7 581.1,201.5 581.2,202.4 581.4,203.4 581.6,203.3 581.7,204.0 581.9,199.8 582.0,200.9 582.2,201.9 582.4,199.9 582.5,200.4 582.7,204.2 582.8,204.8 583.0,204.7 583.1,200.8 583.3,202.5 583.5,199.8 583.6,201.3 583.8,202.9 583.9,205.3 584.1,203.1 584.3,197.6 584.4,204.1 584.6,204.4 584.7,203.0 584.9,199.6 585.1,202.7 585.2,205.0 585.4,204.0 585.5,202.9 585.7,202.5 585.9,200.4 586.0,197.1 586.2,199.6 586.3,201.3 586.5,202.8 586.7,204.5 586.8,201.4 587.0,199.9 587.1,200.9 587.3,203.1 587.5,201.3 587.6,203.3 587.8,203.2 587.9,203.4 588.1,202.7 588.3,203.1 588.4,200.6 588.6,202.9 588.7,203.2 588.9,200.6 589.1,201.4 589.2,200.5 589.4,204.7 589.5,200.1 589.7,203.1 589.9,205.4 590.0,203.4 590.2,205.9 590.3,205.4 590.5,204.1 590.7,201.0 590.8,206.2 591.0,202.5 591.1,203.8 591.3,199.7 591.5,202.8 591.6,201.9 591.8,200.1 591.9,205.7 592.1,204.0 592.2,206.7 592.4,205.2 592.6,202.6 592.7,203.7 592.9,202.4 593.0,204.3 593.2,204.9 593.4,203.7 593.5,205.4 593.7,206.0 593.8,207.1 594.0,203.8 594.2,202.5 594.3,206.3 594.5,204.6 594.6,208.8 594.8,206.3 595.0,203.5 595.1,206.6 595.3,202.7 595.4,204.6 595.6,202.9 595.8,205.0 595.9,207.0 596.1,203.8 596.2,202.1 596.4,205.0 596.6,202.9 596.7,205.4 596.9,204.6 597.0,201.0 597.2,203.9 597.4,206.0 597.5,202.6 597.7,203.8 597.8,205.1 598.0,202.3 598.2,210.5 598.3,202.6 598.5,199.6 598.6,203.2 598.8,208.3 599.0,200.8 599.1,198.2 599.3,202.6 599.4,206.4 599.6,205.5 599.8,204.3 599.9,203.5 600.1,201.3 600.2,202.7 600.4,209.2 600.6,204.7 600.7,204.3 600.9,199.7 601.0,205.4 601.2,207.3 601.4,204.8 601.5,203.4 601.7,208.3 601.8,201.6 602.0,204.4 602.1,202.2 602.3,202.5 602.5,202.9 602.6,200.9 602.8,200.2 602.9,205.1 603.1,204.3 603.3,201.7 603.4,203.8 603.6,205.6 603.7,203.9 603.9,206.2 604.1,205.4 604.2,212.2 604.4,203.9 604.5,199.9 604.7,202.5 604.9,202.6 605.0,203.8 605.2,206.0 605.3,203.1 605.5,204.1 605.7,204.6 605.8,203.7 606.0,205.6 606.1,204.0 606.3,202.8 606.5,202.0 606.6,204.0 606.8,202.5 606.9,204.0 607.1,209.8 607.3,209.1 607.4,205.0 607.6,207.1 607.7,203.2 607.9,207.7 608.1,205.5 608.2,205.9 608.4,206.4 608.5,206.0 608.7,204.7 608.9,204.4 609.0,205.9 609.2,204.3 609.3,203.4 609.5,205.2 609.7,206.4 609.8,206.4 610.0,205.9 610.1,206.1 610.3,204.6 610.5,198.3 610.6,202.1 610.8,204.8 610.9,203.4 611.1,203.5 611.2,201.8 611.4,201.5 611.6,207.3 611.7,199.5 611.9,207.0 612.0,204.7 612.2,207.0 612.4,209.1 612.5,209.3 612.7,200.2 612.8,201.4 613.0,207.4 613.2,207.8 613.3,201.5 613.5,207.4 613.6,204.0 613.8,200.2 614.0,203.3 614.1,201.5 614.3,204.6 614.4,209.4 614.6,207.2 614.8,209.6 614.9,204.5 615.1,208.5 615.2,205.0 615.4,206.6 615.6,207.1 615.7,204.1 615.9,206.6 616.0,207.5 616.2,203.0 616.4,205.6 616.5,209.2 616.7,202.6 616.8,209.1 617.0,205.0 617.2,204.3 617.3,206.3 617.5,207.7 617.6,206.5 617.8,206.6 618.0,208.5 618.1,203.6 618.3,207.3 618.4,207.6 618.6,202.4 618.8,207.7 618.9,209.7 619.1,206.0 619.2,205.9 619.4,205.8 619.6,200.7 619.7,207.3 619.9,202.6 620.0,203.7 620.2,202.3 620.3,206.2 620.5,206.8 620.7,206.5 620.8,205.2 621.0,203.5 621.1,201.8 621.3,210.5 621.5,203.3 621.6,205.0 621.8,205.8 621.9,208.6 622.1,205.1 622.3,210.6 622.4,202.8 622.6,208.4 622.7,206.3 622.9,206.4 623.1,204.5 623.2,209.4 623.4,203.9 623.5,204.9 623.7,202.0 623.9,205.2 624.0,206.4 624.2,210.9 624.3,207.0 624.5,201.8 624.7,207.2 624.8,207.3 625.0,206.4 625.1,203.9 625.3,210.6 625.5,201.4 625.6,204.5 625.8,204.2 625.9,206.1 626.1,201.0 626.3,207.2 626.4,204.0 626.6,205.8 626.7,209.4 626.9,206.5 627.1,204.3 627.2,206.8 627.4,207.2 627.5,206.2 627.7,208.4 627.9,209.0 628.0,206.0 628.2,208.6 628.3,204.7 628.5,204.3 628.7,202.8 628.8,203.6 629.0,206.9 629.1,205.1 629.3,209.2 629.4,205.1 629.6,207.5 629.8,202.6 629.9,208.0 630.1,205.7 630.2,208.2 630.4,204.6 630.6,204.5 630.7,208.9 630.9,201.1 631.0,204.9 631.2,210.0 631.4,208.6 631.5,211.1 631.7,211.6 631.8,206.6 632.0,211.8 632.2,205.3 632.3,210.6 632.5,207.3 632.6,201.8 632.8,207.3 633.0,206.4 633.1,203.0 633.3,207.2 633.4,204.9 633.6,208.5 633.8,207.3 633.9,206.0 634.1,206.3 634.2,208.4 634.4,205.8 634.6,204.8 634.7,204.7 634.9,206.3 635.0,208.9 635.2,204.6 635.4,204.1 635.5,209.1 635.7,212.6 635.8,206.9 636.0,203.7 636.2,204.1 636.3,209.6 636.5,202.9 636.6,208.9 636.8,203.9 637.0,207.6 637.1,203.8 637.3,205.1 637.4,207.1 637.6,204.5 637.8,208.3 637.9,207.5 638.1,207.3 638.2,208.8 638.4,204.0 638.5,204.0 638.7,206.5 638.9,209.1 639.0,205.2 639.2,205.7 639.3,204.8 639.5,206.6 639.7,207.1 639.8,202.7 640.0,208.2 640.1,207.1 640.3,211.4 640.5,207.6 640.6,207.9 640.8,207.5 640.9,205.0 641.1,208.2 641.3,205.4 641.4,207.6 641.6,207.8 641.7,211.7 641.9,205.5 642.1,204.9 642.2,209.3 642.4,208.3 642.5,211.6 642.7,207.7 642.9,209.7 643.0,205.7 643.2,207.1 643.3,205.1 643.5,209.1 643.7,211.5 643.8,207.0 644.0,208.4 644.1,201.7 644.3,206.1 644.5,202.8 644.6,205.3 644.8,207.7 644.9,211.0 645.1,207.4 645.3,205.0 645.4,206.5 645.6,205.9 645.7,205.9 645.9,210.5 646.1,205.9 646.2,209.0 646.4,206.9 646.5,203.0 646.7,212.3 646.9,207.5 647.0,205.8 647.2,203.7 647.3,206.6 647.5,209.1 647.6,204.6 647.8,205.1 648.0,211.7 648.1,206.6 648.3,211.6 648.4,214.2 648.6,209.6 648.8,209.4 648.9,212.8 649.1,201.4 649.2,210.4 649.4,205.6 649.6,204.6 649.7,200.5 649.9,207.6 650.0,202.1 650.2,209.9 650.4,206.7 650.5,207.7 650.7,209.5 650.8,205.6 651.0,201.1 651.2,200.5 651.3,204.6 651.5,209.8 651.6,208.9 651.8,204.8 652.0,204.9 652.1,204.9 652.3,207.3 652.4,209.2 652.6,205.2 652.8,206.6 652.9,202.5 653.1,208.6 653.2,204.1 653.4,202.6 653.6,200.8 653.7,200.8 653.9,209.5 654.0,210.0 654.2,206.1 654.4,209.1 654.5,213.5 654.7,202.2 654.8,205.1 655.0,203.5 655.2,206.0 655.3,203.1 655.5,205.7 655.6,206.1 655.8,200.9 656.0,209.9 656.1,204.9 656.3,211.2 656.4,202.1 656.6,207.2 656.7,210.1 656.9,211.9 657.1,207.2 657.2,200.7 657.4,205.1 657.5,211.2 657.7,212.6 657.9,198.1 658.0,208.3 658.2,210.9 658.3,206.1 658.5,204.8 658.7,201.8 658.8,207.2 659.0,208.7 659.1,204.5 659.3,209.0 659.5,205.5 659.6,206.0 659.8,203.6 659.9,208.7 660.1,208.6 660.3,205.7 660.4,205.2 660.6,211.0 660.7,209.0 660.9,206.1 661.1,207.7 661.2,199.7 661.4,204.4 661.5,202.8 661.7,206.8 661.9,206.4 662.0,206.2 662.2,203.4 662.3,207.6 662.5,201.8 662.7,208.9 662.8,203.6 663.0,205.8 663.1,207.7 663.3,201.8 663.5,203.6 663.6,207.2 663.8,209.0 663.9,204.1 664.1,209.1 664.3,204.9 664.4,209.4 664.6,206.3 664.7,209.3 664.9,207.2 665.1,201.5 665.2,201.3 665.4,208.1 665.5,207.4 665.7,211.8 665.8,205.7 666.0,203.1 666.2,209.2 666.3,209.4 666.5,205.5 666.6,208.4 666.8,206.0 667.0,201.8 667.1,205.2 667.3,204.5 667.4,200.8 667.6,205.8 667.8,204.4 667.9,206.4 668.1,208.9 668.2,201.6 668.4,210.9 668.6,206.3 668.7,210.2 668.9,209.2 669.0,210.6 669.2,207.4 669.4,205.1 669.5,202.5 669.7,212.5 669.8,205.9 670.0,207.8 670.2,208.5 670.3,207.0 670.5,206.0 670.6,206.9 670.8,206.6 671.0,199.7 671.1,206.3 671.3,205.5 671.4,210.2 671.6,203.2 671.8,208.2 671.9,206.9" fill="none" stroke="#1f77b4" stroke-width="0.7" stroke-linejoin="round"/>
<polyline points="432.6,144.1 432.8,143.0 432.9,144.6 433.1,145.4 433.2,145.6 433.4,143.9 433.6,143.3 433.7,142.1 433.9,140.5 434.0,140.2 434.2,144.8 434.4,145.0 434.5,142.5 434.7,145.5 434.8,142.0 435.0,142.2 435.2,145.9 435.3,142.9 435.5,141.7 435.6,143.6 435.8,145.0 436.0,144.9 436.1,143.8 436.3,146.1 436.4,144.2 436.6,145.4 436.8,146.4 436.9,146.9 437.1,144.2 437.2,146.9 437.4,145.0 437.5,148.8 437.7,145.9 437.9,145.5 438.0,145.1 438.2,144.1 438.3,145.0 438.5,145.0 438.7,146.6 438.8,148.1 439.0,148.4 439.1,147.8 439.3,146.0 439.5,144.8 439.6,146.0 439.8,146.4 439.9,145.5 440.1,147.5 440.3,146.7 440.4,147.3 440.6,146.8 440.7,147.7 440.9,149.7 441.1,148.2 441.2,149.0 441.4,144.6 441.5,145.2 441.7,148.9 441.9,149.5 442.0,148.0 442.2,150.8 442.3,146.0 442.5,148.4 442.7,149.2 442.8,146.6 443.0,146.3 443.1,148.4 443.3,147.0 443.5,151.8 443.6,150.3 443.8,150.6 443.9,152.0 444.1,147.7 444.3,145.0 444.4,151.8 444.6,150.6 444.7,147.7 444.9,150.3 445.1,149.9 445.2,151.4 445.4,149.5 445.5,151.9 445.7,148.9 445.9,149.5 446.0,149.8 446.2,152.0 446.3,151.1 446.5,150.0 446.6,152.5 446.8,152.8 447.0,155.2 447.1,152.2 447.3,151.6 447.4,149.7 447.6,153.7 447.8,154.2 447.9,149.6 448.1,149.9 448.2,154.0 448.4,153.0 448.6,155.4 448.7,152.4 448.9,150.1 449.0,151.1 449.2,154.5 449.4,152.2 449.5,154.1 449.7,152.3 449.8,154.0 450.0,152.0 450.2,151.0 450.3,152.7 450.5,152.8 450.6,152.8 450.8,152.1 451.0,154.5 451.1,154.1 451.3,154.2 451.4,151.7 451.6,153.8 451.8,153.2 451.9,155.0 452.1,156.9 452.2,155.1 452.4,153.8 452.6,155.3 452.7,155.9 452.9,155.6 453.0,154.1 453.2,154.4 453.4,155.3 453.5,157.1 453.7,156.7 453.8,149.1 454.0,156.0 454.2,154.7 454.3,155.3 454.5,158.5 454.6,153.7 454.8,156.1 455.0,157.9 455.1,155.1 455.3,157.5 455.4,156.1 455.6,159.1 455.7,157.2 455.9,155.7 456.1,157.9 456.2,159.7 456.4,158.7 456.5,156.2 456.7,160.3 456.9,160.1 457.0,156.3 457.2,157.6 457.3,158.0 457.5,158.8 457.7,157.4 457.8,156.7 458.0,157.5 458.1,161.6 458.3,157.4 458.5,161.6 458.6,155.6 458.8,159.6 458.9,157.8 459.1,158.4 459.3,160.3 459.4,157.1 459.6,158.9 459.7,155.6 459.9,158.3 460.1,159.0 460.2,155.2 460.4,157.3 460.5,159.9 460.7,161.4 460.9,156.6 461.0,158.0 461.2,158.1 461.3,161.0 461.5,161.6 461.7,162.2 461.8,158.6 462.0,161.1 462.1,159.7 462.3,164.9 462.5,159.3 462.6,162.5 462.8,166.3 462.9,163.8 463.1,160.8 463.3,158.9 463.4,166.8 463.6,164.4 463.7,161.7 463.9,164.9 464.1,163.0 464.2,164.2 464.4,162.2 464.5,165.2 464.7,163.2 464.8,164.2 465.0,162.5 465.2,163.0 465.3,161.1 465.5,162.6 465.6,159.9 465.8,166.1 466.0,163.7 466.1,161.9 466.3,163.2 466.4,168.3 466.6,163.0 466.8,164.6 466.9,159.3 467.1,164.1 467.2,162.7 467.4,165.8 467.6,162.9 467.7,169.3 467.9,166.2 468.0,165.1 468.2,167.4 468.4,162.8 468.5,164.6 468.7,161.7 468.8,167.4 469.0,166.4 469.2,163.8 469.3,166.0 469.5,163.6 469.6,164.1 469.8,166.7 470.0,165.2 470.1,164.5 470.3,165.1 470.4,166.1 470.6,166.7 470.8,166.3 470.9,164.1 471.1,162.2 471.2,168.7 471.4,168.1 471.6,166.6 471.7,163.7 471.9,168.0 472.0,162.2 472.2,162.4 472.4,171.1 472.5,165.5 472.7,165.7 472.8,167.7 473.0,170.5 473.2,166.6 473.3,167.9 473.5,165.1 473.6,166.3 473.8,169.2 473.9,163.9 474.1,164.2 474.3,164.9 474.4,167.7 474.6,166.1 474.7,167.7 474.9,169.0 475.1,171.6 475.2,167.7 475.4,172.0 475.5,167.0 475.7,171.0 475.9,168.1 476.0,169.2 476.2,170.9 476.3,170.7 476.5,170.0 476.7,166.2 476.8,168.4 477.0,169.7 477.1,167.7 477.3,171.5 477.5,172.3 477.6,171.2 477.8,167.7 477.9,170.3 478.1,169.6 478.3,169.7 478.4,170.8 478.6,167.8 478.7,168.8 478.9,171.9 479.1,172.3 479.2,170.6 479.4,172.3 479.5,170.7 479.7,169.4 479.9,170.7 480.0,170.6 480.2,172.0 480.3,172.6 480.5,173.1 480.7,168.8 480.8,172.8 481.0,171.3 481.1,171.3 481.3,170.8 481.5,172.4 481.6,174.9 481.8,167.9 481.9,174.0 482.1,170.9 482.3,174.2 482.4,171.0 482.6,174.4 482.7,169.2 482.9,171.6 483.0,175.5 483.2,169.3 483.4,176.2 483.5,173.3 483.7,170.6 483.8,173.5 484.0,170.4 484.2,172.8 484.3,174.1 484.5,170.6 484.6,173.0 484.8,174.0 485.0,171.3 485.1,173.7 485.3,175.9 485.4,174.7 485.6,168.6 485.8,169.0 485.9,176.5 486.1,172.0 486.2,171.2 486.4,174.2 486.6,172.4 486.7,175.7 486.9,174.4 487.0,171.8 487.2,174.0 487.4,174.3 487.5,174.5 487.7,176.7 487.8,176.1 488.0,175.2 488.2,174.5 488.3,176.0 488.5,170.7 488.6,177.8 488.8,176.6 489.0,175.8 489.1,173.6 489.3,177.4 489.4,174.2 489.6,176.4 489.8,176.3 489.9,174.0 490.1,173.3 490.2,172.9 490.4,177.3 490.6,173.0 490.7,173.0 490.9,174.5 491.0,174.3 491.2,175.2 491.4,175.6 491.5,173.6 491.7,172.1 491.8,175.9 492.0,174.8 492.1,173.7 492.3,178.3 492.5,172.4 492.6,174.9 492.8,172.8 492.9,176.3 493.1,177.5 493.3,176.1 493.4,175.3 493.6,177.8 493.7,174.2 493.9,175.5 494.1,178.2 494.2,175.2 494.4,176.5 494.5,176.2 494.7,177.1 494.9,177.7 495.0,178.8 495.2,176.2 495.3,176.4 495.5,175.6 495.7,178.0 495.8,175.8 496.0,175.0 496.1,179.0 496.3,176.4 496.5,172.5 496.6,177.9 496.8,177.6 496.9,177.1 497.1,178.1 497.3,175.4 497.4,177.4 497.6,177.5 497.7,178.9 497.9,176.3 498.1,177.6 498.2,178.3 498.4,178.1 498.5,174.4 498.7,177.6 498.9,177.2 499.0,175.1 499.2,178.0 499.3,175.9 499.5,179.9 499.7,176.6 499.8,182.2 500.0,177.8 500.1,179.0 500.3,179.6 500.5,176.1 500.6,176.8 500.8,176.6 500.9,175.4 501.1,177.4 501.2,177.3 501.4,178.7 501.6,174.9 501.7,176.9 501.9,180.2 502.0,180.5 502.2,180.3 502.4,180.4 502.5,176.4 502.7,178.4 502.8,177.0 503.0,180.7 503.2,180.8 503.3,176.9 503.5,183.4 503.6,181.8 503.8,183.7 504.0,180.9 504.1,174.5 504.3,181.2 504.4,177.7 504.6,176.6 504.8,181.2 504.9,181.4 505.1,179.4 505.2,178.8 505.4,183.3 505.6,181.9 505.7,177.0 505.9,182.0 506.0,179.7 506.2,178.4 506.4,181.2 506.5,181.0 506.7,181.8 506.8,182.1 507.0,182.0 507.2,184.2 507.3,182.0 507.5,181.5 507.6,179.7 507.8,182.0 508.0,182.5 508.1,177.5 508.3,181.4 508.4,181.9 508.6,182.5 508.8,181.6 508.9,183.3 509.1,182.7 509.2,183.5 509.4,184.2 509.6,182.8 509.7,184.7 509.9,178.6 510.0,184.4 510.2,178.6 510.3,181.6 510.5,180.5 510.7,179.4 510.8,185.7 511.0,179.2 511.1,181.5 511.3,183.5 511.5,184.1 511.6,182.0 511.8,186.0 511.9,179.2 512.1,183.2 512.3,181.4 512.4,182.7 512.6,183.9 512.7,183.8 512.9,184.9 513.1,180.7 513.2,183.3 513.4,182.3 513.5,182.4 513.7,182.1 513.9,182.6 514.0,181.0 514.2,184.9 514.3,185.7 514.5,184.0 514.7,184.5 514.8,183.7 515.0,181.6 515.1,182.0 515.3,182.9 515.5,185.7 515.6,183.2 515.8,183.9 515.9,182.8 516.1,184.4 516.3,185.2 516.4,184.2 516.6,186.0 516.7,186.4 516.9,184.2 517.1,184.7 517.2,182.7 517.4,184.5 517.5,187.2 517.7,182.1 517.9,181.7 518.0,187.2 518.2,186.2 518.3,183.1 518.5,184.8 518.7,188.2 518.8,183.0 519.0,185.1 519.1,184.7 519.3,183.0 519.4,186.8 519.6,187.0 519.8,184.2 519.9,183.7 520.1,185.4 520.2,183.4 520.4,184.9 520.6,183.6 520.7,187.5 520.9,186.3 521.0,183.8 521.2,187.7 521.4,187.7 521.5,185.8 521.7,186.7 521.8,188.1 522.0,189.6 522.2,183.6 522.3,186.3 522.5,183.6 522.6,188.3 522.8,186.4 523.0,186.9 523.1,186.4 523.3,189.9 523.4,184.3 523.6,187.4 523.8,186.4 523.9,188.9 524.1,183.8 524.2,190.1 524.4,183.2 524.6,187.9 524.7,187.9 524.9,188.6 525.0,184.4 525.2,189.0 525.4,189.1 525.5,189.3 525.7,186.5 525.8,186.4 526.0,189.0 526.2,186.6 526.3,184.5 526.5,186.3 526.6,187.0 526.8,189.9 527.0,184.7 527.1,186.5 527.3,190.9 527.4,189.5 527.6,193.7 527.8,187.1 527.9,190.7 528.1,188.8 528.2,185.4 528.4,191.2 528.5,186.6 528.7,189.1 528.9,190.7 529.0,185.9 529.2,187.8 529.3,190.1 529.5,187.6 529.7,190.0 529.8,190.6 530.0,189.6 530.1,186.9 530.3,192.2 530.5,191.7 530.6,187.2 530.8,192.0 530.9,189.6 531.1,189.8 531.3,191.9 531.4,190.9 531.6,189.6 531.7,189.6 531.9,188.2 532.1,189.1 532.2,187.7 532.4,189.2 532.5,190.5 532.7,188.4 532.9,188.8 533.0,188.0 533.2,190.1 533.3,190.1 533.5,190.1 533.7,193.0 533.8,189.0 534.0,191.3 534.1,191.6 534.3,190.8 534.5,185.7 534.6,191.7 534.8,187.0 534.9,194.5 535.1,190.7 535.3,186.2 535.4,189.8 535.6,189.4 535.7,191.4 535.9,194.4 536.1,189.2 536.2,188.4 536.4,188.1 536.5,186.4 536.7,190.6 536.9,189.3 537.0,194.9 537.2,191.2 537.3,190.2 537.5,187.9 537.6,186.7 537.8,187.2 538.0,189.7 538.1,190.9 538.3,190.8 538.4,190.8 538.6,190.4 538.8,188.3 538.9,191.2 539.1,194.3 539.2,193.4 539.4,184.7 539.6,188.1 539.7,192.0 539.9,191.5 540.0,189.5 540.2,190.4 540.4,190.4 540.5,195.3 540.7,194.1 540.8,190.8 541.0,189.7 541.2,190.5 541.3,187.9 541.5,191.2 541.6,190.7 541.8,191.2 542.0,189.3 542.1,192.7 542.3,187.1 542.4,193.7 542.6,189.8 542.8,190.0 542.9,188.1 543.1,194.0 543.2,193.5 543.4,192.2 543.6,190.1 543.7,189.8 543.9,197.3 544.0,192.4 544.2,191.3 544.4,191.1 544.5,191.1 544.7,192.2 544.8,191.7 545.0,196.0 545.2,190.1 545.3,197.2 545.5,192.5 545.6,194.1 545.8,191.4 546.0,194.3 546.1,190.3 546.3,191.5 546.4,190.9 546.6,190.0 546.7,189.9 546.9,192.8 547.1,190.7 547.2,191.4 547.4,190.8 547.5,192.2 547.7,198.1 547.9,193.1 548.0,192.7 548.2,193.7 548.3,194.2 548.5,192.4 548.7,194.3 548.8,191.4 549.0,190.1 549.1,192.8 549.3,191.0 549.5,195.5 549.6,195.1 549.8,193.7 549.9,195.1 550.1,193.0 550.3,193.0 550.4,189.7 550.6,194.3 550.7,190.5 550.9,195.5 551.1,193.8 551.2,191.5 551.4,192.7 551.5,198.7 551.7,193.6 551.9,192.5 552.0,196.8 552.2,194.6 552.3,194.3 552.5,192.8 552.7,190.9 552.8,196.7 553.0,195.7 553.1,190.4 553.3,191.3 553.5,190.1 553.6,194.0 553.8,191.7 553.9,199.3 554.1,193.1 554.3,196.2 554.4,197.2 554.6,196.6 554.7,192.0 554.9,191.0 555.1,195.4 555.2,195.1 555.4,191.8 555.5,195.9 555.7,193.9 555.8,193.1 556.0,191.9 556.2,195.2 556.3,200.8 556.5,195.1 556.6,193.2 556.8,195.8 557.0,196.0 557.1,196.9 557.3,193.9 557.4,194.5 557.6,194.3 557.8,195.0 557.9,192.2 558.1,194.3 558.2,195.2 558.4,197.6 558.6,196.1 558.7,195.2 558.9,192.0 559.0,194.2 559.2,196.1 559.4,193.7 559.5,194.0 559.7,196.4 559.8,194.4 560.0,197.9 560.2,195.3 560.3,191.1 560.5,193.5 560.6,194.3 560.8,193.8 561.0,194.2 561.1,198.4 561.3,196.8 561.4,197.4 561.6,194.9 561.8,193.9 561.9,191.4 562.1,196.3 562.2,198.6 562.4,195.4 562.6,196.2 562.7,195.6 562.9,196.2 563.0,195.1 563.2,197.6 563.4,195.7 563.5,194.2 563.7,196.0 563.8,195.2 564.0,197.9 564.2,194.6 564.3,196.8 564.5,198.1 564.6,197.1 564.8,197.6 564.9,197.1 565.1,198.0 565.3,193.0 565.4,194.8 565.6,195.8 565.7,195.9 565.9,197.2 566.1,195.1 566.2,197.5 566.4,197.2 566.5,198.8 566.7,194.3 566.9,194.4 567.0,194.6 567.2,194.6 567.3,202.5 567.5,197.0 567.7,194.9 567.8,196.1 568.0,200.8 568.1,196.6 568.3,195.7 568.5,198.5 568.6,200.0 568.8,198.7 568.9,204.1 569.1,196.8 569.3,199.4 569.4,198.2 569.6,197.9 569.7,197.7 569.9,194.0 570.1,199.5 570.2,198.2 570.4,202.5 570.5,199.2 570.7,202.1 570.9,196.0 571.0,197.8 571.2,199.2 571.3,195.8 571.5,200.2 571.7,198.2 571.8,199.7 572.0,200.0 572.1,198.4 572.3,199.3 572.5,198.3 572.6,200.5 572.8,201.6 572.9,194.8 573.1,197.1 573.3,198.9 573.4,197.5 573.6,200.3 573.7,197.2 573.9,201.4 574.0,197.0 574.2,197.2 574.4,198.2 574.5,196.4 574.7,198.3 574.8,194.2 575.0,196.7 575.2,201.7 575.3,200.5 575.5,194.3 575.6,199.5 575.8,197.4 576.0,199.5 576.1,194.7 576.3,195.7 576.4,196.4 576.6,199.2 576.8,199.0 576.9,195.0 577.1,199.6 577.2,203.4 577.4,194.7 577.6,196.0 577.7,201.4 577.9,197.7 578.0,196.9 578.2,197.9 578.4,194.5 578.5,195.5 578.7,200.3 578.8,198.8 579.0,196.3 579.2,196.2 579.3,199.3 579.5,195.8 579.6,200.5 579.8,196.6 580.0,202.8 580.1,197.5 580.3,193.8 580.4,195.1 580.6,200.7 580.8,205.8 580.9,198.1 581.1,196.3 581.2,198.6 581.4,198.3 581.6,202.2 581.7,200.2 581.9,202.1 582.0,202.1 582.2,200.4 582.4,195.7 582.5,198.3 582.7,201.1 582.8,199.6 583.0,201.5 583.1,200.7 583.3,198.9 583.5,203.0 583.6,198.7 583.8,201.0 583.9,196.8 584.1,201.8 584.3,199.0 584.4,201.6 584.6,198.3 584.7,203.9 584.9,200.9 585.1,201.8 585.2,203.6 585.4,200.6 585.5,200.2 585.7,201.3 585.9,202.3 586.0,201.5 586.2,201.7 586.3,197.4 586.5,198.6 586.7,196.7 586.8,197.7 587.0,195.5 587.1,199.8 587.3,199.2 587.5,199.7 587.6,200.9 587.8,198.3 587.9,199.0 588.1,198.8 588.3,199.3 588.4,197.5 588.6,203.4 588.7,198.6 588.9,200.2 589.1,201.6 589.2,200.9 589.4,198.9 589.5,198.1 589.7,200.7 589.9,198.4 590.0,199.3 590.2,197.7 590.3,197.7 590.5,198.4 590.7,201.1 590.8,203.0 591.0,196.9 591.1,202.3 591.3,198.3 591.5,200.1 591.6,196.3 591.8,200.6 591.9,201.1 592.1,205.4 592.2,198.8 592.4,200.4 592.6,201.9 592.7,201.4 592.9,197.2 593.0,199.4 593.2,198.3 593.4,201.0 593.5,199.6 593.7,198.1 593.8,201.1 594.0,197.2 594.2,201.0 594.3,195.7 594.5,201.8 594.6,201.5 594.8,200.1 595.0,201.3 595.1,200.7 595.3,200.5 595.4,197.4 595.6,201.7 595.8,197.5 595.9,198.3 596.1,200.1 596.2,201.0 596.4,195.8 596.6,206.8 596.7,201.7 596.9,200.8 597.0,199.2 597.2,200.4 597.4,198.2 597.5,199.2 597.7,197.8 597.8,202.1 598.0,199.4 598.2,196.4 598.3,202.2 598.5,200.1 598.6,204.2 598.8,199.6 599.0,202.6 599.1,199.1 599.3,203.6 599.4,200.6 599.6,203.3 599.8,200.9 599.9,199.7 600.1,195.0 600.2,199.7 600.4,199.6 600.6,196.2 600.7,198.1 600.9,203.6 601.0,199.5 601.2,200.6 601.4,198.8 601.5,199.6 601.7,205.5 601.8,202.4 602.0,196.4 602.1,198.9 602.3,203.3 602.5,202.4 602.6,201.9 602.8,204.7 602.9,209.8 603.1,200.0 603.3,204.1 603.4,203.2 603.6,203.4 603.7,202.5 603.9,202.7 604.1,197.5 604.2,202.4 604.4,200.0 604.5,201.6 604.7,198.2 604.9,201.3 605.0,206.9 605.2,196.8 605.3,197.2 605.5,199.9 605.7,205.9 605.8,198.3 606.0,200.9 606.1,204.0 606.3,203.4 606.5,198.8 606.6,203.7 606.8,202.4 606.9,204.1 607.1,200.7 607.3,204.5 607.4,200.6 607.6,203.0 607.7,196.7 607.9,203.5 608.1,202.0 608.2,199.7 608.4,200.0 608.5,206.5 608.7,201.9 608.9,201.3 609.0,200.6 609.2,202.9 609.3,198.5 609.5,198.8 609.7,203.5 609.8,205.5 610.0,202.8 610.1,201.0 610.3,199.7 610.5,205.7 610.6,204.4 610.8,207.9 610.9,205.3 611.1,199.7 611.2,197.0 611.4,200.7 611.6,203.1 611.7,203.4 611.9,197.4 612.0,199.4 612.2,202.2 612.4,204.2 612.5,204.9 612.7,202.8 612.8,197.9 613.0,203.5 613.2,203.9 613.3,202.2 613.5,203.7 613.6,200.5 613.8,205.9 614.0,202.9 614.1,205.1 614.3,201.0 614.4,202.9 614.6,205.5 614.8,205.0 614.9,203.7 615.1,199.6 615.2,202.2 615.4,202.9 615.6,206.5 615.7,208.1 615.9,208.2 616.0,205.7 616.2,203.0 616.4,204.0 616.5,201.0 616.7,207.2 616.8,204.8 617.0,205.0 617.2,207.1 617.3,210.4 617.5,206.7 617.6,201.9 617.8,209.3 618.0,202.2 618.1,202.1 618.3,205.0 618.4,203.9 618.6,205.0 618.8,204.7 618.9,200.7 619.1,201.6 619.2,202.0 619.4,204.1 619.6,205.2 619.7,204.2 619.9,208.5 620.0,207.4 620.2,204.8 620.3,210.1 620.5,205.1 620.7,205.5 620.8,205.6 621.0,205.5 621.1,207.1 621.3,199.4 621.5,210.7 621.6,207.4 621.8,210.4 621.9,204.5 622.1,202.9 622.3,200.4 622.4,207.5 622.6,203.6 622.7,208.1 622.9,205.8 623.1,203.7 623.2,209.8 623.4,206.1 623.5,207.5 623.7,204.7 623.9,203.4 624.0,209.9 624.2,206.1 624.3,209.7 624.5,212.4 624.7,209.0 624.8,207.8 625.0,209.4 625.1,209.1 625.3,202.3 625.5,205.7 625.6,202.9 625.8,201.9 625.9,205.5 626.1,198.6 626.3,204.7 626.4,205.6 626.6,208.3 626.7,207.0 626.9,205.0 627.1,205.8 627.2,205.4 627.4,205.1 627.5,210.0 627.7,208.4 627.9,207.3 628.0,207.8 628.2,210.1 628.3,206.5 628.5,208.8 628.7,203.4 628.8,208.7 629.0,205.7 629.1,212.2 629.3,206.9 629.4,203.6 629.6,206.4 629.8,204.6 629.9,205.9 630.1,207.5 630.2,205.1 630.4,205.4 630.6,205.5 630.7,208.4 630.9,208.1 631.0,214.8 631.2,206.5 631.4,209.9 631.5,209.0 631.7,204.4 631.8,206.3 632.0,205.7 632.2,209.0 632.3,205.5 632.5,206.9 632.6,206.4 632.8,207.3 633.0,202.2 633.1,210.3 633.3,206.3 633.4,206.2 633.6,204.3 633.8,205.6 633.9,208.5 634.1,206.6 634.2,202.6 634.4,203.9 634.6,208.3 634.7,206.6 634.9,207.5 635.0,203.2 635.2,208.4 635.4,203.3 635.5,202.3 635.7,207.6 635.8,200.5 636.0,207.9 636.2,207.7 636.3,205.0 636.5,208.7 636.6,206.9 636.8,210.7 637.0,208.4 637.1,207.0 637.3,211.2 637.4,205.1 637.6,205.0 637.8,207.6 637.9,205.3 638.1,205.3 638.2,209.7 638.4,205.7 638.5,206.6 638.7,209.3 638.9,206.2 639.0,210.5 639.2,215.8 639.3,206.0 639.5,206.6 639.7,201.9 639.8,208.3 640.0,204.7 640.1,210.0 640.3,210.7 640.5,208.3 640.6,206.6 640.8,207.4 640.9,203.9 641.1,203.7 641.3,211.1 641.4,208.8 641.6,201.7 641.7,203.1 641.9,210.7 642.1,209.4 642.2,201.1 642.4,210.0 642.5,203.3 642.7,213.1 642.9,207.7 643.0,210.2 643.2,206.0 643.3,203.1 643.5,205.6 643.7,203.9 643.8,203.4 644.0,201.9 644.1,206.1 644.3,213.0 644.5,211.9 644.6,204.4 644.8,205.2 644.9,203.8 645.1,208.2 645.3,208.7 645.4,213.1 645.6,210.9 645.7,207.9 645.9,209.6 646.1,212.7 646.2,203.1 646.4,207.6 646.5,206.9 646.7,207.4 646.9,207.8 647.0,211.1 647.2,205.1 647.3,209.6 647.5,211.0 647.6,203.9 647.8,207.5 648.0,205.9 648.1,213.8 648.3,202.4 648.4,210.5 648.6,211.5 648.8,209.2 648.9,210.9 649.1,210.7 649.2,206.4 649.4,203.3 649.6,208.7 649.7,207.9 649.9,207.7 650.0,207.3 650.2,211.9 650.4,202.6 650.5,212.5 650.7,210.0 650.8,201.5 651.0,208.3 651.2,211.2 651.3,207.6 651.5,200.6 651.6,207.8 651.8,211.5 652.0,207.3 652.1,207.0 652.3,210.7 652.4,207.2 652.6,215.2 652.8,206.6 652.9,207.3 653.1,207.7 653.2,210.1 653.4,203.6 653.6,205.9 653.7,203.7 653.9,210.0 654.0,205.6 654.2,202.4 654.4,203.5 654.5,211.1 654.7,208.2 654.8,210.2 655.0,209.1 655.2,208.2 655.3,202.5 655.5,203.2 655.6,208.6 655.8,205.3 656.0,210.1 656.1,212.3 656.3,214.4 656.4,211.0 656.6,201.8 656.7,207.6 656.9,206.5 657.1,204.9 657.2,214.7 657.4,209.1 657.5,208.3 657.7,204.2 657.9,207.0 658.0,213.9 658.2,214.1 658.3,207.4 658.5,207.8 658.7,213.1 658.8,213.1 659.0,208.2 659.1,212.9 659.3,207.4 659.5,209.4 659.6,209.5 659.8,202.1 659.9,211.3 660.1,212.3 660.3,210.4 660.4,216.6 660.6,206.1 660.7,206.5 660.9,208.4 661.1,208.8 661.2,209.0 661.4,213.9 661.5,209.3 661.7,209.0 661.9,206.1 662.0,207.9 662.2,205.5 662.3,206.6 662.5,215.6 662.7,211.4 662.8,206.8 663.0,210.3 663.1,209.0 663.3,206.1 663.5,212.3 663.6,208.3 663.8,203.5 663.9,208.8 664.1,211.3 664.3,208.9 664.4,210.2 664.6,213.2 664.7,206.8 664.9,208.9 665.1,215.3 665.2,205.0 665.4,212.2 665.5,208.8 665.7,207.5 665.8,209.5 666.0,213.3 666.2,217.0 666.3,211.0 666.5,208.3 666.6,213.2 666.8,210.5 667.0,204.8 667.1,212.5 667.3,195.5 667.4,207.9 667.6,213.2 667.8,207.7 667.9,210.0 668.1,204.7 668.2,213.5 668.4,206.9 668.6,213.0 668.7,208.1 668.9,204.1 669.0,208.8 669.2,204.6 669.4,210.3 669.5,206.1 669.7,211.5 669.8,210.2 670.0,209.2 670.2,214.4 670.3,212.5 670.5,211.4 670.6,203.5 670.8,208.9 671.0,213.4 671.1,213.6 671.3,209.8 671.4,213.4 671.6,208.8 671.8,213.3 671.9,213.2" fill="none" stroke="#ff7f0e" stroke-width="0.7" stroke-linejoin="round"/>
<line x1="420.4" y1="246.6" x2="683.5" y2="246.6" stroke="#666666" stroke-width="1"/>
<line x1="420.4" y1="332.2" x2="683.5" y2="332.2" stroke="#5a5a5a" stroke-width="1"/>
<line x1="420.4" y1="246.6" x2="420.4" y2="332.2" stroke="#777777" stroke-width="1"/>
<line x1="683.5" y1="246.6" x2="683.5" y2="332.2" stroke="#cccccc" stroke-width="1"/>
<line x1="418" y1="325.4" x2="420.4" y2="325.4" stroke="#444" stroke-width="0.7"/>
<text x="415.9" y="327.9" font-size="7" fill="#1a1a1a" font-weight="normal" text-anchor="end" textLength="15.2" lengthAdjust="spacingAndGlyphs" stroke="#1a1a1a" stroke-width="0.15">−0.1</text>
<line x1="418" y1="313.2" x2="420.4" y2="313.2" stroke="#444" stroke-width="0.7"/>
<text x="415.9" y="315.7" font-size="7" fill="#1a1a1a" font-weight="normal" text-anchor="end"  stroke="#1a1a1a" stroke-width="0.15">0.0</text>
<line x1="418" y1="301.0" x2="420.4" y2="301.0" stroke="#444" stroke-width="0.7"/>
<text x="415.9" y="303.5" font-size="7" fill="#1a1a1a" font-weight="normal" text-anchor="end"  stroke="#1a1a1a" stroke-width="0.15">0.1</text>
<line x1="418" y1="288.8" x2="420.4" y2="288.8" stroke="#444" stroke-width="0.7"/>
<text x="415.9" y="291.3" font-size="7" fill="#1a1a1a" font-weight="normal" text-anchor="end"  stroke="#1a1a1a" stroke-width="0.15">0.2</text>
<line x1="418" y1="276.7" x2="420.4" y2="276.7" stroke="#444" stroke-width="0.7"/>
<text x="415.9" y="279.2" font-size="7" fill="#1a1a1a" font-weight="normal" text-anchor="end"  stroke="#1a1a1a" stroke-width="0.15">0.3</text>
<line x1="418" y1="264.5" x2="420.4" y2="264.5" stroke="#444" stroke-width="0.7"/>
<text x="415.9" y="267.0" font-size="7" fill="#1a1a1a" font-weight="normal" text-anchor="end"  stroke="#1a1a1a" stroke-width="0.15">0.4</text>
<line x1="418" y1="252.3" x2="420.4" y2="252.3" stroke="#444" stroke-width="0.7"/>
<text x="415.9" y="254.8" font-size="7" fill="#1a1a1a" font-weight="normal" text-anchor="end"  stroke="#1a1a1a" stroke-width="0.15">0.5</text>
<line x1="432.6" y1="332.2" x2="432.6" y2="334.4" stroke="#444" stroke-width="0.7"/>
<text x="432.6" y="341.9" font-size="7" fill="#1a1a1a" font-weight="normal" text-anchor="middle" stroke="#1a1a1a" stroke-width="0.15">0</text>
<line x1="464.5" y1="332.2" x2="464.5" y2="334.4" stroke="#444" stroke-width="0.7"/>
<text x="464.5" y="341.9" font-size="7" fill="#1a1a1a" font-weight="normal" text-anchor="middle" stroke="#1a1a1a" stroke-width="0.15">200</text>
<line x1="496.5" y1="332.2" x2="496.5" y2="334.4" stroke="#444" stroke-width="0.7"/>
<text x="496.5" y="341.9" font-size="7" fill="#1a1a1a" font-weight="normal" text-anchor="middle" stroke="#1a1a1a" stroke-width="0.15">400</text>
<line x1="528.4" y1="332.2" x2="528.4" y2="334.4" stroke="#444" stroke-width="0.7"/>
<text x="528.4" y="341.9" font-size="7" fill="#1a1a1a" font-weight="normal" text-anchor="middle" stroke="#1a1a1a" stroke-width="0.15">600</text>
<line x1="560.3" y1="332.2" x2="560.3" y2="334.4" stroke="#444" stroke-width="0.7"/>
<text x="560.3" y="341.9" font-size="7" fill="#1a1a1a" font-weight="normal" text-anchor="middle" stroke="#1a1a1a" stroke-width="0.15">800</text>
<line x1="592.2" y1="332.2" x2="592.2" y2="334.4" stroke="#444" stroke-width="0.7"/>
<text x="592.2" y="341.9" font-size="7" fill="#1a1a1a" font-weight="normal" text-anchor="middle" stroke="#1a1a1a" stroke-width="0.15">1000</text>
<line x1="624.2" y1="332.2" x2="624.2" y2="334.4" stroke="#444" stroke-width="0.7"/>
<text x="624.2" y="341.9" font-size="7" fill="#1a1a1a" font-weight="normal" text-anchor="middle" stroke="#1a1a1a" stroke-width="0.15">1200</text>
<line x1="656.1" y1="332.2" x2="656.1" y2="334.4" stroke="#444" stroke-width="0.7"/>
<text x="656.1" y="341.9" font-size="7" fill="#1a1a1a" font-weight="normal" text-anchor="middle" stroke="#1a1a1a" stroke-width="0.15">1400</text>
<polyline points="432.6,252.1 432.8,255.7 432.9,250.1 433.1,254.2 433.2,255.2 433.4,252.3 433.6,251.7 433.7,251.3 433.9,252.4 434.0,254.1 434.2,253.3 434.4,252.9 434.5,251.9 434.7,251.8 434.8,252.1 435.0,251.9 435.2,256.1 435.3,253.8 435.5,251.4 435.6,253.7 435.8,253.1 436.0,254.0 436.1,253.2 436.3,253.9 436.4,255.8 436.6,252.5 436.8,252.4 436.9,254.2 437.1,255.8 437.2,253.5 437.4,254.7 437.5,251.6 437.7,253.4 437.9,255.2 438.0,254.0 438.2,250.5 438.3,253.3 438.5,254.2 438.7,253.4 438.8,254.6 439.0,252.0 439.1,255.2 439.3,252.5 439.5,252.0 439.6,252.3 439.8,253.8 439.9,254.3 440.1,253.8 440.3,253.6 440.4,253.2 440.6,254.1 440.7,253.9 440.9,254.9 441.1,255.5 441.2,253.0 441.4,254.0 441.5,253.7 441.7,252.5 441.9,255.9 442.0,255.8 442.2,255.6 442.3,254.0 442.5,257.3 442.7,256.3 442.8,254.4 443.0,257.8 443.1,254.8 443.3,253.6 443.5,255.3 443.6,257.2 443.8,256.7 443.9,257.6 444.1,256.4 444.3,255.1 444.4,255.1 444.6,259.7 444.7,257.8 444.9,256.4 445.1,257.4 445.2,260.4 445.4,256.9 445.5,256.5 445.7,257.4 445.9,257.6 446.0,256.3 446.2,259.6 446.3,258.2 446.5,257.3 446.6,253.3 446.8,259.1 447.0,257.1 447.1,255.9 447.3,257.3 447.4,257.3 447.6,256.9 447.8,261.1 447.9,258.1 448.1,259.5 448.2,256.9 448.4,258.5 448.6,258.9 448.7,259.1 448.9,261.2 449.0,258.3 449.2,262.0 449.4,260.1 449.5,260.5 449.7,258.8 449.8,260.2 450.0,261.5 450.2,259.6 450.3,258.2 450.5,262.2 450.6,259.0 450.8,261.9 451.0,261.4 451.1,261.5 451.3,262.8 451.4,259.3 451.6,260.5 451.8,260.9 451.9,263.8 452.1,261.1 452.2,263.4 452.4,260.4 452.6,264.8 452.7,261.5 452.9,264.8 453.0,264.8 453.2,262.6 453.4,261.8 453.5,261.6 453.7,263.8 453.8,264.2 454.0,262.3 454.2,265.3 454.3,265.4 454.5,263.2 454.6,263.4 454.8,264.0 455.0,262.6 455.1,266.7 455.3,263.9 455.4,261.6 455.6,265.4 455.7,266.7 455.9,263.3 456.1,264.4 456.2,263.6 456.4,264.4 456.5,266.2 456.7,266.0 456.9,267.4 457.0,262.3 457.2,267.3 457.3,266.6 457.5,267.2 457.7,265.8 457.8,264.6 458.0,267.4 458.1,266.2 458.3,265.9 458.5,264.0 458.6,267.5 458.8,266.9 458.9,265.1 459.1,269.6 459.3,267.7 459.4,267.7 459.6,269.5 459.7,268.3 459.9,267.9 460.1,266.8 460.2,267.3 460.4,269.6 460.5,270.3 460.7,267.9 460.9,271.5 461.0,270.4 461.2,271.4 461.3,272.3 461.5,269.9 461.7,272.5 461.8,271.6 462.0,269.2 462.1,268.9 462.3,273.2 462.5,272.8 462.6,273.0 462.8,273.8 462.9,270.3 463.1,271.1 463.3,271.9 463.4,274.1 463.6,271.9 463.7,272.9 463.9,273.4 464.1,272.8 464.2,271.9 464.4,274.1 464.5,274.8 464.7,275.9 464.8,272.7 465.0,274.2 465.2,278.4 465.3,275.1 465.5,274.4 465.6,277.9 465.8,278.0 466.0,274.7 466.1,276.7 466.3,278.6 466.4,276.7 466.6,276.4 466.8,278.5 466.9,278.5 467.1,277.5 467.2,277.9 467.4,275.5 467.6,276.3 467.7,277.7 467.9,279.5 468.0,279.7 468.2,282.1 468.4,279.3 468.5,280.0 468.7,280.6 468.8,278.8 469.0,278.3 469.2,282.8 469.3,279.9 469.5,280.1 469.6,281.8 469.8,282.1 470.0,278.9 470.1,280.5 470.3,278.8 470.4,283.0 470.6,283.6 470.8,282.7 470.9,281.3 471.1,280.9 471.2,280.2 471.4,284.1 471.6,285.4 471.7,282.1 471.9,282.4 472.0,283.0 472.2,282.0 472.4,285.3 472.5,286.6 472.7,281.6 472.8,284.2 473.0,285.2 473.2,283.9 473.3,282.0 473.5,285.0 473.6,283.0 473.8,285.5 473.9,283.1 474.1,285.7 474.3,284.4 474.4,286.3 474.6,285.6 474.7,286.3 474.9,287.3 475.1,286.8 475.2,286.1 475.4,287.4 475.5,288.2 475.7,287.0 475.9,285.7 476.0,288.0 476.2,289.5 476.3,289.5 476.5,288.3 476.7,286.2 476.8,290.2 477.0,287.3 477.1,289.3 477.3,290.2 477.5,290.1 477.6,287.9 477.8,290.4 477.9,287.9 478.1,287.1 478.3,291.4 478.4,292.2 478.6,293.0 478.7,289.9 478.9,292.1 479.1,291.9 479.2,292.3 479.4,289.4 479.5,290.6 479.7,290.8 479.9,294.3 480.0,293.2 480.2,292.2 480.3,292.5 480.5,292.0 480.7,290.4 480.8,291.8 481.0,291.8 481.1,293.3 481.3,293.9 481.5,294.1 481.6,293.8 481.8,296.1 481.9,294.8 482.1,294.1 482.3,295.0 482.4,294.5 482.6,297.2 482.7,295.6 482.9,294.9 483.0,293.5 483.2,295.1 483.4,295.7 483.5,296.4 483.7,295.6 483.8,296.5 484.0,294.9 484.2,296.9 484.3,295.3 484.5,297.3 484.6,298.6 484.8,298.7 485.0,295.5 485.1,297.8 485.3,297.8 485.4,293.6 485.6,299.1 485.8,297.6 485.9,299.6 486.1,298.7 486.2,297.2 486.4,298.5 486.6,295.6 486.7,299.7 486.9,299.5 487.0,300.7 487.2,298.8 487.4,300.1 487.5,299.3 487.7,300.4 487.8,298.7 488.0,300.5 488.2,299.5 488.3,300.0 488.5,301.0 488.6,300.1 488.8,300.2 489.0,299.6 489.1,303.3 489.3,298.5 489.4,300.6 489.6,300.3 489.8,300.3 489.9,303.2 490.1,300.3 490.2,301.1 490.4,302.3 490.6,300.6 490.7,302.3 490.9,303.5 491.0,300.9 491.2,301.2 491.4,302.0 491.5,302.8 491.7,300.4 491.8,303.7 492.0,302.7 492.1,303.4 492.3,303.6 492.5,302.7 492.6,305.0 492.8,303.0 492.9,303.4 493.1,304.5 493.3,305.1 493.4,306.2 493.6,304.3 493.7,302.1 493.9,305.6 494.1,306.1 494.2,305.9 494.4,304.7 494.5,304.5 494.7,304.9 494.9,305.6 495.0,307.4 495.2,304.4 495.3,306.5 495.5,305.6 495.7,306.2 495.8,306.4 496.0,305.5 496.1,306.6 496.3,303.9 496.5,305.0 496.6,305.9 496.8,307.7 496.9,306.4 497.1,307.2 497.3,306.8 497.4,307.9 497.6,309.6 497.7,309.6 497.9,308.5 498.1,307.3 498.2,308.8 498.4,309.7 498.5,309.3 498.7,308.2 498.9,310.0 499.0,310.3 499.2,309.5 499.3,308.9 499.5,311.7 499.7,310.7 499.8,310.3 500.0,311.1 500.1,309.9 500.3,309.5 500.5,312.0 500.6,307.6 500.8,310.7 500.9,309.1 501.1,310.5 501.2,314.3 501.4,313.6 501.6,311.5 501.7,311.3 501.9,311.2 502.0,315.1 502.2,313.3 502.4,311.8 502.5,310.7 502.7,311.9 502.8,314.8 503.0,313.7 503.2,313.5 503.3,313.7 503.5,311.7 503.6,311.6 503.8,311.5 504.0,315.1 504.1,315.4 504.3,315.9 504.4,314.2 504.6,313.8 504.8,316.0 504.9,313.8 505.1,313.9 505.2,314.7 505.4,313.8 505.6,316.0 505.7,316.3 505.9,312.7 506.0,315.5 506.2,313.6 506.4,316.1 506.5,318.5 506.7,314.6 506.8,317.2 507.0,316.8 507.2,314.4 507.3,318.0 507.5,316.3 507.6,314.3 507.8,313.1 508.0,317.6 508.1,316.1 508.3,317.4 508.4,314.7 508.6,317.3 508.8,314.8 508.9,318.6 509.1,315.8 509.2,314.9 509.4,316.2 509.6,317.2 509.7,318.1 509.9,319.4 510.0,316.1 510.2,316.2 510.3,317.2 510.5,319.6 510.7,319.1 510.8,318.1 511.0,315.4 511.1,315.3 511.3,316.7 511.5,320.3 511.6,321.3 511.8,318.3 511.9,317.7 512.1,316.0 512.3,319.9 512.4,317.0 512.6,319.2 512.7,317.9 512.9,319.7 513.1,319.7 513.2,319.9 513.4,319.4 513.5,320.6 513.7,320.5 513.9,318.9 514.0,321.2 514.2,320.0 514.3,320.4 514.5,320.0 514.7,317.9 514.8,320.8 515.0,317.3 515.1,322.6 515.3,321.3 515.5,318.9 515.6,323.7 515.8,320.4 515.9,319.5 516.1,322.4 516.3,318.1 516.4,317.5 516.6,320.3 516.7,320.4 516.9,319.3 517.1,319.1 517.2,321.3 517.4,321.3 517.5,317.7 517.7,320.5 517.9,321.1 518.0,322.3 518.2,325.5 518.3,321.3 518.5,321.1 518.7,321.4 518.8,321.6 519.0,320.2 519.1,321.0 519.3,321.2 519.4,321.9 519.6,322.2 519.8,321.6 519.9,322.8 520.1,320.1 520.2,321.4 520.4,321.9 520.6,318.8 520.7,320.7 520.9,323.7 521.0,323.3 521.2,322.2 521.4,322.8 521.5,320.1 521.7,321.0 521.8,320.8 522.0,320.6 522.2,320.9 522.3,325.0 522.5,324.4 522.6,323.9 522.8,321.6 523.0,322.1 523.1,319.7 523.3,320.5 523.4,320.5 523.6,323.6 523.8,322.7 523.9,321.1 524.1,324.4 524.2,323.8 524.4,320.0 524.6,319.5 524.7,325.5 524.9,323.0 525.0,324.8 525.2,326.0 525.4,324.3 525.5,322.2 525.7,322.1 525.8,322.7 526.0,321.2 526.2,324.5 526.3,323.6 526.5,321.0 526.6,322.1 526.8,324.6 527.0,325.3 527.1,323.4 527.3,323.2 527.4,323.0 527.6,323.8 527.8,323.4 527.9,324.6 528.1,323.8 528.2,324.7 528.4,325.7 528.5,323.6 528.7,325.1 528.9,325.1 529.0,323.0 529.2,323.4 529.3,321.0 529.5,321.3 529.7,324.6 529.8,324.4 530.0,325.0 530.1,326.1 530.3,321.5 530.5,322.9 530.6,324.9 530.8,321.2 530.9,322.9 531.1,322.7 531.3,324.7 531.4,327.7 531.6,322.9 531.7,325.1 531.9,326.3 532.1,323.1 532.2,323.0 532.4,325.4 532.5,324.0 532.7,323.2 532.9,323.9 533.0,324.8 533.2,321.6 533.3,324.4 533.5,322.1 533.7,324.0 533.8,324.4 534.0,321.9 534.1,324.9 534.3,323.3 534.5,323.1 534.6,322.1 534.8,324.0 534.9,326.3 535.1,326.6 535.3,326.7 535.4,325.7 535.6,324.1 535.7,324.4 535.9,324.7 536.1,324.1 536.2,325.1 536.4,324.0 536.5,323.8 536.7,320.5 536.9,324.3 537.0,324.3 537.2,324.4 537.3,325.2 537.5,322.6 537.6,326.0 537.8,320.6 538.0,326.4 538.1,324.0 538.3,322.3 538.4,323.0 538.6,322.7 538.8,326.3 538.9,322.4 539.1,322.9 539.2,321.3 539.4,323.9 539.6,323.6 539.7,326.4 539.9,322.8 540.0,325.4 540.2,323.1 540.4,320.8 540.5,325.1 540.7,323.2 540.8,324.4 541.0,324.5 541.2,326.6 541.3,324.2 541.5,322.9 541.6,321.3 541.8,320.9 542.0,323.6 542.1,321.8 542.3,323.5 542.4,324.8 542.6,324.0 542.8,321.8 542.9,322.1 543.1,326.0 543.2,322.3 543.4,323.7 543.6,322.1 543.7,322.8 543.9,325.1 544.0,325.2 544.2,323.1 544.4,323.0 544.5,322.7 544.7,324.8 544.8,320.6 545.0,326.7 545.2,320.7 545.3,323.1 545.5,323.6 545.6,320.0 545.8,322.9 546.0,322.6 546.1,323.5 546.3,321.8 546.4,321.7 546.6,320.1 546.7,320.6 546.9,322.5 547.1,323.5 547.2,323.1 547.4,323.7 547.5,323.1 547.7,323.3 547.9,321.8 548.0,322.1 548.2,323.5 548.3,321.8 548.5,325.9 548.7,322.4 548.8,326.0 549.0,322.8 549.1,321.1 549.3,321.8 549.5,324.0 549.6,322.4 549.8,322.3 549.9,323.0 550.1,321.8 550.3,323.1 550.4,323.4 550.6,323.6 550.7,321.2 550.9,323.5 551.1,324.4 551.2,320.5 551.4,323.1 551.5,324.2 551.7,320.7 551.9,322.8 552.0,322.7 552.2,323.1 552.3,320.6 552.5,320.5 552.7,320.0 552.8,322.7 553.0,317.6 553.1,322.5 553.3,323.4 553.5,322.0 553.6,324.4 553.8,322.7 553.9,322.1 554.1,321.0 554.3,319.0 554.4,320.5 554.6,321.6 554.7,321.0 554.9,323.1 555.1,318.6 555.2,320.6 555.4,320.2 555.5,321.8 555.7,322.3 555.8,322.5 556.0,322.3 556.2,321.8 556.3,319.4 556.5,321.9 556.6,319.7 556.8,319.3 557.0,320.0 557.1,319.2 557.3,324.4 557.4,320.1 557.6,321.3 557.8,318.2 557.9,319.8 558.1,320.9 558.2,320.3 558.4,320.0 558.6,317.3 558.7,320.9 558.9,319.7 559.0,321.1 559.2,319.7 559.4,319.5 559.5,319.7 559.7,320.3 559.8,317.4 560.0,318.1 560.2,319.1 560.3,320.9 560.5,319.1 560.6,319.6 560.8,318.2 561.0,318.8 561.1,320.8 561.3,318.6 561.4,316.5 561.6,318.6 561.8,321.4 561.9,320.2 562.1,317.8 562.2,317.3 562.4,321.9 562.6,317.5 562.7,316.4 562.9,316.7 563.0,321.4 563.2,319.1 563.4,316.8 563.5,317.8 563.7,319.7 563.8,320.6 564.0,319.1 564.2,318.0 564.3,320.6 564.5,319.2 564.6,316.7 564.8,316.6 564.9,318.5 565.1,316.4 565.3,319.0 565.4,319.8 565.6,319.8 565.7,320.5 565.9,319.4 566.1,319.2 566.2,314.9 566.4,316.8 566.5,314.6 566.7,320.2 566.9,317.2 567.0,319.2 567.2,320.9 567.3,317.4 567.5,319.5 567.7,317.0 567.8,313.8 568.0,318.1 568.1,318.4 568.3,319.4 568.5,320.8 568.6,318.6 568.8,319.6 568.9,317.8 569.1,318.7 569.3,317.5 569.4,317.2 569.6,315.9 569.7,319.9 569.9,319.3 570.1,315.4 570.2,316.3 570.4,319.1 570.5,313.4 570.7,322.8 570.9,318.5 571.0,318.4 571.2,316.9 571.3,320.1 571.5,317.7 571.7,317.3 571.8,315.6 572.0,321.0 572.1,318.8 572.3,318.7 572.5,315.8 572.6,314.2 572.8,314.5 572.9,318.8 573.1,317.1 573.3,317.8 573.4,317.5 573.6,318.7 573.7,317.1 573.9,317.5 574.0,316.3 574.2,317.6 574.4,312.8 574.5,320.2 574.7,318.3 574.8,318.2 575.0,316.8 575.2,315.5 575.3,317.2 575.5,311.7 575.6,316.4 575.8,314.4 576.0,317.1 576.1,318.2 576.3,312.5 576.4,318.4 576.6,319.5 576.8,318.1 576.9,316.4 577.1,314.2 577.2,317.2 577.4,317.2 577.6,316.2 577.7,315.2 577.9,318.1 578.0,316.0 578.2,317.6 578.4,315.7 578.5,315.6 578.7,314.6 578.8,313.1 579.0,317.3 579.2,318.0 579.3,316.1 579.5,316.2 579.6,316.2 579.8,314.8 580.0,316.0 580.1,314.7 580.3,316.1 580.4,316.4 580.6,317.7 580.8,314.9 580.9,316.1 581.1,313.9 581.2,315.0 581.4,317.1 581.6,315.7 581.7,316.3 581.9,316.4 582.0,318.6 582.2,315.7 582.4,315.9 582.5,318.3 582.7,315.6 582.8,315.4 583.0,318.1 583.1,318.1 583.3,315.6 583.5,314.7 583.6,315.5 583.8,319.3 583.9,318.0 584.1,315.1 584.3,317.9 584.4,314.1 584.6,314.0 584.7,317.5 584.9,315.5 585.1,314.7 585.2,315.1 585.4,316.8 585.5,316.3 585.7,316.1 585.9,313.0 586.0,314.7 586.2,313.8 586.3,315.4 586.5,314.9 586.7,314.3 586.8,316.2 587.0,317.2 587.1,315.1 587.3,316.6 587.5,316.8 587.6,317.2 587.8,318.3 587.9,315.6 588.1,317.5 588.3,317.2 588.4,316.3 588.6,318.0 588.7,314.8 588.9,314.1 589.1,317.8 589.2,316.4 589.4,316.1 589.5,316.1 589.7,315.5 589.9,315.0 590.0,316.8 590.2,314.3 590.3,319.2 590.5,317.5 590.7,313.9 590.8,316.4 591.0,315.0 591.1,313.4 591.3,312.4 591.5,317.6 591.6,316.9 591.8,316.9 591.9,316.9 592.1,315.0 592.2,319.1 592.4,314.7 592.6,315.6 592.7,312.8 592.9,318.3 593.0,314.3 593.2,316.2 593.4,316.8 593.5,313.9 593.7,313.9 593.8,318.0 594.0,313.9 594.2,316.0 594.3,316.2 594.5,316.3 594.6,315.6 594.8,316.5 595.0,315.2 595.1,319.9 595.3,313.7 595.4,314.9 595.6,316.4 595.8,314.7 595.9,315.8 596.1,314.3 596.2,313.4 596.4,314.5 596.6,321.0 596.7,312.9 596.9,315.2 597.0,314.0 597.2,316.8 597.4,315.6 597.5,315.7 597.7,314.2 597.8,313.9 598.0,314.6 598.2,314.8 598.3,313.6 598.5,313.2 598.6,314.0 598.8,315.9 599.0,313.7 599.1,316.4 599.3,314.7 599.4,312.5 599.6,318.0 599.8,317.4 599.9,319.4 600.1,311.7 600.2,314.9 600.4,314.4 600.6,314.7 600.7,315.5 600.9,316.9 601.0,314.8 601.2,317.0 601.4,314.0 601.5,312.2 601.7,310.9 601.8,316.9 602.0,316.0 602.1,316.9 602.3,318.4 602.5,317.5 602.6,315.5 602.8,313.3 602.9,312.9 603.1,316.9 603.3,313.9 603.4,315.6 603.6,314.7 603.7,313.2 603.9,313.2 604.1,313.3 604.2,314.5 604.4,314.5 604.5,314.5 604.7,313.9 604.9,315.2 605.0,314.1 605.2,314.7 605.3,312.3 605.5,316.8 605.7,315.7 605.8,314.8 606.0,315.1 606.1,319.2 606.3,312.8 606.5,312.0 606.6,318.1 606.8,317.5 606.9,312.4 607.1,317.8 607.3,314.7 607.4,315.1 607.6,315.7 607.7,314.3 607.9,317.0 608.1,318.1 608.2,316.1 608.4,315.3 608.5,314.6 608.7,313.4 608.9,312.1 609.0,314.0 609.2,315.1 609.3,314.1 609.5,317.4 609.7,316.4 609.8,316.5 610.0,318.1 610.1,313.5 610.3,317.1 610.5,317.9 610.6,317.0 610.8,312.2 610.9,312.6 611.1,314.6 611.2,313.8 611.4,318.7 611.6,316.9 611.7,314.6 611.9,317.2 612.0,318.0 612.2,316.6 612.4,313.7 612.5,312.3 612.7,317.2 612.8,312.5 613.0,317.7 613.2,315.0 613.3,315.3 613.5,316.0 613.6,311.9 613.8,313.7 614.0,315.1 614.1,313.1 614.3,316.6 614.4,314.4 614.6,312.4 614.8,314.4 614.9,311.4 615.1,317.4 615.2,317.7 615.4,315.8 615.6,315.7 615.7,316.3 615.9,312.4 616.0,314.5 616.2,317.2 616.4,316.6 616.5,314.4 616.7,317.7 616.8,314.5 617.0,317.3 617.2,315.4 617.3,314.8 617.5,318.2 617.6,316.2 617.8,316.1 618.0,315.1 618.1,313.8 618.3,315.5 618.4,318.1 618.6,316.2 618.8,317.2 618.9,315.8 619.1,313.4 619.2,313.5 619.4,313.0 619.6,317.0 619.7,318.8 619.9,317.3 620.0,315.4 620.2,316.6 620.3,317.8 620.5,315.5 620.7,312.9 620.8,316.0 621.0,314.6 621.1,311.2 621.3,316.5 621.5,313.7 621.6,318.4 621.8,317.1 621.9,315.7 622.1,313.2 622.3,315.1 622.4,316.4 622.6,314.0 622.7,312.2 622.9,312.3 623.1,317.1 623.2,314.0 623.4,316.5 623.5,313.9 623.7,313.1 623.9,317.6 624.0,310.9 624.2,319.3 624.3,315.0 624.5,319.0 624.7,316.4 624.8,312.1 625.0,312.6 625.1,311.3 625.3,316.0 625.5,317.3 625.6,317.3 625.8,309.2 625.9,313.2 626.1,317.3 626.3,315.3 626.4,315.5 626.6,313.3 626.7,316.6 626.9,319.0 627.1,316.9 627.2,314.2 627.4,315.2 627.5,316.5 627.7,318.0 627.9,312.8 628.0,314.0 628.2,317.2 628.3,316.5 628.5,311.4 628.7,315.9 628.8,312.5 629.0,315.6 629.1,315.6 629.3,316.3 629.4,314.0 629.6,314.3 629.8,317.2 629.9,311.6 630.1,316.1 630.2,316.5 630.4,312.8 630.6,316.9 630.7,315.7 630.9,314.7 631.0,313.3 631.2,318.7 631.4,317.3 631.5,320.5 631.7,314.1 631.8,314.7 632.0,314.1 632.2,314.7 632.3,316.7 632.5,314.1 632.6,317.6 632.8,317.4 633.0,316.1 633.1,313.2 633.3,318.2 633.4,308.9 633.6,317.0 633.8,318.8 633.9,315.1 634.1,317.3 634.2,314.0 634.4,313.5 634.6,317.6 634.7,314.3 634.9,316.6 635.0,314.8 635.2,316.5 635.4,315.7 635.5,314.7 635.7,312.3 635.8,316.3 636.0,313.7 636.2,312.0 636.3,317.2 636.5,313.0 636.6,316.1 636.8,314.7 637.0,314.4 637.1,316.0 637.3,312.1 637.4,312.6 637.6,315.1 637.8,315.5 637.9,315.2 638.1,314.1 638.2,314.2 638.4,318.4 638.5,313.9 638.7,314.3 638.9,316.1 639.0,317.0 639.2,319.1 639.3,314.6 639.5,316.8 639.7,316.3 639.8,309.6 640.0,318.6 640.1,319.7 640.3,313.7 640.5,319.3 640.6,316.6 640.8,315.3 640.9,317.5 641.1,312.8 641.3,315.3 641.4,315.1 641.6,317.0 641.7,317.7 641.9,315.9 642.1,311.2 642.2,315.6 642.4,314.2 642.5,314.4 642.7,317.4 642.9,313.7 643.0,316.6 643.2,319.3 643.3,319.6 643.5,313.9 643.7,311.1 643.8,313.9 644.0,312.9 644.1,317.9 644.3,321.9 644.5,311.3 644.6,313.1 644.8,319.0 644.9,314.7 645.1,315.4 645.3,315.6 645.4,317.7 645.6,314.4 645.7,313.7 645.9,318.4 646.1,314.4 646.2,318.6 646.4,313.7 646.5,315.7 646.7,313.1 646.9,314.1 647.0,318.9 647.2,317.6 647.3,315.0 647.5,313.9 647.6,312.4 647.8,317.9 648.0,315.5 648.1,309.6 648.3,314.9 648.4,317.3 648.6,319.2 648.8,314.1 648.9,313.0 649.1,316.9 649.2,313.1 649.4,312.5 649.6,311.7 649.7,313.5 649.9,315.6 650.0,316.7 650.2,312.9 650.4,318.2 650.5,311.4 650.7,313.5 650.8,315.6 651.0,319.2 651.2,317.0 651.3,318.5 651.5,317.5 651.6,313.9 651.8,309.7 652.0,317.4 652.1,316.9 652.3,310.1 652.4,314.8 652.6,314.1 652.8,316.6 652.9,311.2 653.1,314.7 653.2,313.1 653.4,313.0 653.6,311.2 653.7,313.9 653.9,316.3 654.0,313.6 654.2,315.1 654.4,319.0 654.5,316.3 654.7,318.5 654.8,315.3 655.0,316.0 655.2,315.7 655.3,318.8 655.5,313.6 655.6,314.4 655.8,312.3 656.0,317.7 656.1,316.1 656.3,316.5 656.4,313.8 656.6,316.5 656.7,313.6 656.9,317.5 657.1,313.8 657.2,314.5 657.4,315.0 657.5,315.3 657.7,315.1 657.9,312.5 658.0,312.4 658.2,312.6 658.3,314.5 658.5,316.0 658.7,316.2 658.8,315.4 659.0,315.0 659.1,316.2 659.3,317.7 659.5,317.3 659.6,313.0 659.8,316.4 659.9,314.9 660.1,315.8 660.3,314.1 660.4,315.4 660.6,312.0 660.7,314.3 660.9,317.5 661.1,314.7 661.2,317.4 661.4,315.7 661.5,312.6 661.7,318.1 661.9,313.4 662.0,314.9 662.2,312.2 662.3,314.7 662.5,312.4 662.7,314.4 662.8,311.8 663.0,314.1 663.1,316.5 663.3,314.3 663.5,314.6 663.6,310.4 663.8,316.6 663.9,318.4 664.1,311.6 664.3,316.2 664.4,318.8 664.6,316.9 664.7,316.5 664.9,315.6 665.1,309.3 665.2,315.2 665.4,313.1 665.5,313.4 665.7,316.0 665.8,318.9 666.0,310.0 666.2,315.8 666.3,316.7 666.5,313.2 666.6,316.7 666.8,315.9 667.0,312.2 667.1,315.8 667.3,314.1 667.4,315.5 667.6,310.9 667.8,318.5 667.9,321.4 668.1,314.3 668.2,315.3 668.4,307.5 668.6,314.3 668.7,314.2 668.9,312.6 669.0,313.7 669.2,312.9 669.4,316.7 669.5,315.2 669.7,310.8 669.8,317.4 670.0,315.4 670.2,313.5 670.3,312.5 670.5,314.3 670.6,312.8 670.8,312.3 671.0,314.1 671.1,316.2 671.3,313.1 671.4,315.8 671.6,315.7 671.8,311.1 671.9,313.1" fill="none" stroke="#1f77b4" stroke-width="0.7" stroke-linejoin="round"/>
<polyline points="432.6,255.4 432.8,256.3 432.9,255.1 433.1,253.8 433.2,253.4 433.4,254.4 433.6,251.7 433.7,254.7 433.9,255.9 434.0,254.8 434.2,253.5 434.4,254.3 434.5,254.5 434.7,253.3 434.8,253.7 435.0,253.1 435.2,255.8 435.3,254.8 435.5,255.1 435.6,255.3 435.8,253.1 436.0,255.0 436.1,255.0 436.3,257.3 436.4,256.2 436.6,255.2 436.8,255.8 436.9,257.4 437.1,255.4 437.2,256.3 437.4,255.0 437.5,255.5 437.7,255.2 437.9,257.7 438.0,257.5 438.2,255.6 438.3,252.9 438.5,255.9 438.7,256.2 438.8,257.5 439.0,254.3 439.1,256.7 439.3,257.2 439.5,256.8 439.6,258.0 439.8,256.6 439.9,257.4 440.1,257.9 440.3,259.6 440.4,259.3 440.6,258.4 440.7,261.0 440.9,259.3 441.1,258.3 441.2,258.4 441.4,255.6 441.5,261.2 441.7,259.0 441.9,259.3 442.0,258.5 442.2,259.3 442.3,260.1 442.5,258.9 442.7,259.6 442.8,256.5 443.0,259.9 443.1,258.9 443.3,258.4 443.5,259.1 443.6,260.0 443.8,260.0 443.9,260.2 444.1,261.2 444.3,260.0 444.4,258.1 444.6,258.4 444.7,261.5 444.9,259.4 445.1,260.6 445.2,260.8 445.4,261.1 445.5,259.7 445.7,262.1 445.9,262.2 446.0,259.5 446.2,263.5 446.3,262.0 446.5,260.8 446.6,261.5 446.8,261.9 447.0,259.2 447.1,260.0 447.3,261.3 447.4,260.5 447.6,262.0 447.8,262.5 447.9,260.5 448.1,260.4 448.2,263.9 448.4,260.3 448.6,259.7 448.7,261.2 448.9,264.0 449.0,261.6 449.2,263.5 449.4,261.1 449.5,262.8 449.7,263.0 449.8,264.1 450.0,263.1 450.2,262.8 450.3,264.9 450.5,264.0 450.6,264.6 450.8,261.9 451.0,263.2 451.1,264.1 451.3,262.1 451.4,263.4 451.6,264.0 451.8,264.3 451.9,262.2 452.1,263.7 452.2,266.2 452.4,264.8 452.6,264.4 452.7,267.2 452.9,262.9 453.0,262.6 453.2,265.6 453.4,263.0 453.5,263.8 453.7,264.2 453.8,265.8 454.0,262.2 454.2,264.3 454.3,265.8 454.5,263.8 454.6,264.8 454.8,266.1 455.0,264.1 455.1,264.6 455.3,267.8 455.4,265.3 455.6,264.8 455.7,264.2 455.9,263.9 456.1,265.3 456.2,265.2 456.4,267.1 456.5,265.9 456.7,266.7 456.9,264.7 457.0,264.3 457.2,266.7 457.3,269.0 457.5,265.7 457.7,264.8 457.8,266.6 458.0,268.2 458.1,265.5 458.3,267.6 458.5,266.4 458.6,266.8 458.8,265.7 458.9,268.5 459.1,265.1 459.3,266.4 459.4,264.0 459.6,268.3 459.7,269.9 459.9,267.3 460.1,269.1 460.2,267.2 460.4,270.0 460.5,266.3 460.7,267.3 460.9,266.6 461.0,267.7 461.2,269.5 461.3,266.3 461.5,266.1 461.7,265.8 461.8,268.6 462.0,267.7 462.1,267.2 462.3,268.8 462.5,268.1 462.6,268.0 462.8,267.0 462.9,270.8 463.1,266.3 463.3,268.3 463.4,268.3 463.6,269.3 463.7,267.2 463.9,267.7 464.1,268.6 464.2,267.4 464.4,269.6 464.5,267.8 464.7,270.1 464.8,269.5 465.0,266.6 465.2,270.0 465.3,270.2 465.5,269.5 465.6,269.0 465.8,268.6 466.0,269.3 466.1,269.5 466.3,269.5 466.4,266.1 466.6,271.8 466.8,269.3 466.9,268.6 467.1,271.1 467.2,269.0 467.4,269.1 467.6,273.6 467.7,267.4 467.9,268.7 468.0,269.5 468.2,271.3 468.4,270.5 468.5,271.3 468.7,271.4 468.8,269.0 469.0,273.5 469.2,273.7 469.3,271.5 469.5,269.7 469.6,272.2 469.8,269.9 470.0,271.9 470.1,271.2 470.3,271.2 470.4,270.7 470.6,270.4 470.8,271.5 470.9,272.7 471.1,273.3 471.2,269.8 471.4,271.0 471.6,270.1 471.7,272.6 471.9,270.9 472.0,270.5 472.2,270.1 472.4,271.9 472.5,270.1 472.7,273.8 472.8,272.4 473.0,273.5 473.2,274.0 473.3,272.1 473.5,271.0 473.6,273.4 473.8,273.2 473.9,273.3 474.1,273.4 474.3,271.5 474.4,271.3 474.6,274.9 474.7,272.2 474.9,272.3 475.1,273.7 475.2,275.4 475.4,273.4 475.5,274.9 475.7,272.7 475.9,272.8 476.0,271.5 476.2,274.2 476.3,273.3 476.5,274.1 476.7,273.1 476.8,274.6 477.0,274.5 477.1,275.4 477.3,273.9 477.5,273.8 477.6,271.7 477.8,273.6 477.9,274.5 478.1,272.8 478.3,273.0 478.4,275.0 478.6,274.2 478.7,275.0 478.9,274.9 479.1,274.6 479.2,275.0 479.4,275.7 479.5,274.3 479.7,275.7 479.9,277.6 480.0,276.0 480.2,273.7 480.3,274.8 480.5,274.5 480.7,275.1 480.8,276.6 481.0,277.6 481.1,277.5 481.3,275.7 481.5,276.1 481.6,275.6 481.8,276.7 481.9,272.8 482.1,277.1 482.3,274.1 482.4,276.6 482.6,274.3 482.7,273.5 482.9,273.8 483.0,274.2 483.2,275.6 483.4,278.5 483.5,278.8 483.7,276.2 483.8,275.3 484.0,278.5 484.2,275.0 484.3,276.7 484.5,278.3 484.6,276.5 484.8,273.6 485.0,277.8 485.1,276.6 485.3,276.5 485.4,277.6 485.6,275.5 485.8,275.1 485.9,276.3 486.1,275.1 486.2,277.1 486.4,276.3 486.6,279.0 486.7,275.9 486.9,277.8 487.0,280.1 487.2,277.8 487.4,279.9 487.5,279.4 487.7,276.8 487.8,276.9 488.0,279.6 488.2,281.4 488.3,277.4 488.5,280.1 488.6,277.3 488.8,277.4 489.0,277.9 489.1,275.6 489.3,277.5 489.4,278.8 489.6,279.3 489.8,278.8 489.9,278.3 490.1,280.7 490.2,279.3 490.4,278.9 490.6,281.2 490.7,281.0 490.9,278.7 491.0,281.3 491.2,277.5 491.4,278.5 491.5,278.9 491.7,280.4 491.8,281.0 492.0,279.2 492.1,279.0 492.3,278.1 492.5,283.5 492.6,279.0 492.8,278.6 492.9,280.7 493.1,279.3 493.3,280.8 493.4,280.7 493.6,282.1 493.7,279.0 493.9,280.0 494.1,280.7 494.2,280.7 494.4,279.8 494.5,278.2 494.7,278.3 494.9,280.2 495.0,281.7 495.2,279.6 495.3,283.0 495.5,278.4 495.7,279.5 495.8,281.5 496.0,281.1 496.1,281.9 496.3,280.3 496.5,282.3 496.6,280.9 496.8,282.0 496.9,283.7 497.1,281.2 497.3,281.8 497.4,282.6 497.6,283.2 497.7,282.2 497.9,282.1 498.1,282.7 498.2,282.5 498.4,282.0 498.5,283.0 498.7,280.5 498.9,281.3 499.0,280.9 499.2,283.2 499.3,282.6 499.5,281.8 499.7,282.1 499.8,283.0 500.0,283.0 500.1,281.3 500.3,280.9 500.5,280.0 500.6,282.7 500.8,281.3 500.9,281.2 501.1,282.1 501.2,282.3 501.4,282.5 501.6,281.4 501.7,281.4 501.9,283.9 502.0,283.2 502.2,284.0 502.4,282.6 502.5,283.6 502.7,282.5 502.8,281.0 503.0,283.8 503.2,281.5 503.3,282.8 503.5,283.4 503.6,283.4 503.8,283.4 504.0,282.3 504.1,280.6 504.3,283.2 504.4,283.9 504.6,281.7 504.8,282.5 504.9,284.6 505.1,282.4 505.2,284.1 505.4,283.3 505.6,282.7 505.7,284.5 505.9,284.1 506.0,283.2 506.2,286.0 506.4,284.5 506.5,286.6 506.7,283.7 506.8,284.4 507.0,285.7 507.2,285.3 507.3,286.8 507.5,284.5 507.6,285.7 507.8,284.4 508.0,283.2 508.1,285.2 508.3,286.1 508.4,282.8 508.6,285.5 508.8,283.1 508.9,284.1 509.1,283.1 509.2,285.5 509.4,287.3 509.6,285.7 509.7,284.7 509.9,282.4 510.0,286.3 510.2,284.3 510.3,287.0 510.5,285.7 510.7,283.6 510.8,283.8 511.0,284.6 511.1,285.2 511.3,284.7 511.5,284.0 511.6,285.6 511.8,285.7 511.9,285.3 512.1,285.1 512.3,288.2 512.4,286.0 512.6,286.2 512.7,285.9 512.9,286.8 513.1,284.3 513.2,284.8 513.4,285.8 513.5,281.5 513.7,284.8 513.9,284.1 514.0,285.6 514.2,285.2 514.3,284.6 514.5,287.2 514.7,288.4 514.8,283.3 515.0,288.8 515.1,288.3 515.3,286.8 515.5,287.4 515.6,286.3 515.8,284.2 515.9,285.4 516.1,289.7 516.3,287.6 516.4,286.4 516.6,287.0 516.7,289.8 516.9,287.8 517.1,285.3 517.2,287.0 517.4,287.8 517.5,289.0 517.7,285.6 517.9,283.5 518.0,288.3 518.2,285.7 518.3,287.1 518.5,288.9 518.7,289.5 518.8,286.8 519.0,287.6 519.1,288.5 519.3,287.1 519.4,286.9 519.6,283.8 519.8,287.8 519.9,288.8 520.1,289.2 520.2,287.0 520.4,286.5 520.6,288.1 520.7,286.4 520.9,287.7 521.0,288.2 521.2,288.7 521.4,287.9 521.5,287.6 521.7,288.6 521.8,289.7 522.0,289.7 522.2,286.4 522.3,289.1 522.5,285.5 522.6,290.4 522.8,288.4 523.0,288.8 523.1,290.4 523.3,291.2 523.4,289.8 523.6,286.8 523.8,290.0 523.9,288.2 524.1,288.1 524.2,287.9 524.4,292.4 524.6,289.9 524.7,292.0 524.9,288.3 525.0,287.9 525.2,287.4 525.4,288.0 525.5,287.3 525.7,287.6 525.8,288.5 526.0,287.8 526.2,290.6 526.3,289.0 526.5,290.9 526.6,290.3 526.8,289.2 527.0,287.3 527.1,289.8 527.3,288.5 527.4,289.4 527.6,287.5 527.8,288.5 527.9,290.4 528.1,288.2 528.2,289.2 528.4,289.9 528.5,287.2 528.7,289.8 528.9,290.9 529.0,293.2 529.2,292.3 529.3,288.6 529.5,295.1 529.7,288.6 529.8,292.0 530.0,292.0 530.1,288.8 530.3,293.0 530.5,291.3 530.6,291.8 530.8,290.8 530.9,288.7 531.1,287.6 531.3,293.1 531.4,292.2 531.6,286.6 531.7,289.4 531.9,287.5 532.1,287.7 532.2,290.5 532.4,291.9 532.5,289.3 532.7,290.1 532.9,288.4 533.0,290.1 533.2,287.0 533.3,293.5 533.5,293.6 533.7,291.8 533.8,292.9 534.0,290.9 534.1,292.3 534.3,289.1 534.5,291.0 534.6,290.6 534.8,292.2 534.9,291.4 535.1,292.0 535.3,292.9 535.4,291.0 535.6,294.6 535.7,292.3 535.9,292.6 536.1,289.8 536.2,292.2 536.4,294.5 536.5,292.0 536.7,291.3 536.9,291.1 537.0,290.5 537.2,290.7 537.3,291.2 537.5,289.8 537.6,292.6 537.8,291.2 538.0,291.8 538.1,291.5 538.3,291.4 538.4,292.7 538.6,292.7 538.8,292.3 538.9,295.9 539.1,291.8 539.2,290.9 539.4,292.8 539.6,293.1 539.7,292.9 539.9,290.8 540.0,293.4 540.2,291.0 540.4,295.0 540.5,293.7 540.7,290.3 540.8,293.6 541.0,295.1 541.2,292.3 541.3,293.6 541.5,293.0 541.6,292.0 541.8,293.7 542.0,292.2 542.1,293.4 542.3,292.9 542.4,293.4 542.6,295.2 542.8,294.4 542.9,294.1 543.1,291.9 543.2,294.5 543.4,294.8 543.6,292.9 543.7,292.0 543.9,293.0 544.0,293.8 544.2,295.7 544.4,292.6 544.5,291.5 544.7,293.8 544.8,293.0 545.0,294.7 545.2,294.5 545.3,293.2 545.5,293.7 545.6,292.7 545.8,293.2 546.0,294.3 546.1,294.5 546.3,292.7 546.4,295.5 546.6,292.8 546.7,294.2 546.9,295.9 547.1,295.2 547.2,294.4 547.4,289.8 547.5,294.0 547.7,295.9 547.9,292.3 548.0,295.6 548.2,296.1 548.3,293.3 548.5,292.3 548.7,290.7 548.8,293.4 549.0,295.3 549.1,294.0 549.3,291.9 549.5,291.4 549.6,295.5 549.8,291.4 549.9,294.5 550.1,296.1 550.3,293.1 550.4,294.0 550.6,296.6 550.7,295.8 550.9,294.2 551.1,293.6 551.2,296.2 551.4,292.5 551.5,295.8 551.7,296.0 551.9,293.3 552.0,292.4 552.2,295.0 552.3,294.9 552.5,294.0 552.7,292.7 552.8,295.3 553.0,294.9 553.1,295.7 553.3,297.4 553.5,293.6 553.6,295.4 553.8,293.1 553.9,295.6 554.1,292.6 554.3,294.4 554.4,293.1 554.6,297.0 554.7,296.0 554.9,295.9 555.1,291.8 555.2,294.2 555.4,295.8 555.5,298.7 555.7,296.7 555.8,292.8 556.0,295.9 556.2,294.1 556.3,297.9 556.5,294.5 556.6,293.4 556.8,294.5 557.0,296.9 557.1,297.1 557.3,294.3 557.4,297.1 557.6,297.7 557.8,295.1 557.9,297.3 558.1,297.4 558.2,295.8 558.4,295.7 558.6,297.8 558.7,295.5 558.9,293.5 559.0,294.4 559.2,293.9 559.4,294.0 559.5,295.6 559.7,295.3 559.8,297.4 560.0,297.3 560.2,297.1 560.3,297.7 560.5,292.5 560.6,293.6 560.8,298.5 561.0,294.8 561.1,295.8 561.3,295.2 561.4,295.3 561.6,294.4 561.8,298.0 561.9,297.7 562.1,296.8 562.2,294.5 562.4,296.0 562.6,296.2 562.7,296.5 562.9,294.8 563.0,295.5 563.2,293.8 563.4,292.9 563.5,295.1 563.7,297.7 563.8,298.3 564.0,296.5 564.2,295.9 564.3,296.2 564.5,295.8 564.6,296.3 564.8,294.1 564.9,296.5 565.1,294.3 565.3,296.1 565.4,297.1 565.6,296.3 565.7,297.4 565.9,296.4 566.1,300.3 566.2,296.5 566.4,295.0 566.5,294.8 566.7,297.9 566.9,298.6 567.0,294.7 567.2,299.2 567.3,297.0 567.5,297.4 567.7,296.4 567.8,295.3 568.0,294.6 568.1,300.3 568.3,297.6 568.5,300.6 568.6,298.3 568.8,299.8 568.9,297.6 569.1,298.1 569.3,296.7 569.4,296.3 569.6,297.1 569.7,296.1 569.9,295.4 570.1,297.6 570.2,297.4 570.4,298.8 570.5,299.0 570.7,296.3 570.9,294.8 571.0,297.2 571.2,300.1 571.3,298.9 571.5,297.2 571.7,297.4 571.8,299.2 572.0,297.4 572.1,297.5 572.3,300.2 572.5,299.5 572.6,296.7 572.8,299.4 572.9,298.2 573.1,295.7 573.3,296.4 573.4,296.7 573.6,300.1 573.7,299.2 573.9,298.0 574.0,298.1 574.2,296.7 574.4,296.7 574.5,296.2 574.7,295.5 574.8,298.2 575.0,299.8 575.2,296.5 575.3,297.8 575.5,297.8 575.6,299.0 575.8,298.4 576.0,294.1 576.1,301.5 576.3,297.0 576.4,297.7 576.6,297.1 576.8,299.2 576.9,298.3 577.1,299.2 577.2,298.9 577.4,299.2 577.6,295.5 577.7,296.6 577.9,297.5 578.0,297.8 578.2,299.5 578.4,301.2 578.5,298.0 578.7,300.3 578.8,299.7 579.0,300.4 579.2,299.6 579.3,299.7 579.5,296.5 579.6,296.2 579.8,298.9 580.0,297.9 580.1,299.0 580.3,298.4 580.4,299.8 580.6,298.3 580.8,301.9 580.9,303.6 581.1,295.8 581.2,298.9 581.4,299.1 581.6,298.2 581.7,298.9 581.9,297.8 582.0,301.3 582.2,300.5 582.4,297.0 582.5,298.9 582.7,300.7 582.8,301.9 583.0,296.2 583.1,297.6 583.3,298.5 583.5,302.2 583.6,300.7 583.8,301.7 583.9,303.1 584.1,300.7 584.3,300.5 584.4,295.9 584.6,302.2 584.7,298.0 584.9,299.2 585.1,298.6 585.2,299.6 585.4,298.1 585.5,300.1 585.7,297.8 585.9,298.6 586.0,301.8 586.2,300.4 586.3,296.7 586.5,296.9 586.7,301.6 586.8,299.5 587.0,297.0 587.1,299.2 587.3,301.3 587.5,299.0 587.6,299.9 587.8,303.3 587.9,299.4 588.1,300.0 588.3,299.1 588.4,297.0 588.6,297.0 588.7,297.5 588.9,297.3 589.1,302.2 589.2,302.4 589.4,299.8 589.5,300.6 589.7,299.7 589.9,301.5 590.0,299.5 590.2,297.7 590.3,300.9 590.5,300.9 590.7,301.7 590.8,304.7 591.0,301.2 591.1,301.2 591.3,300.3 591.5,302.2 591.6,298.2 591.8,298.9 591.9,297.3 592.1,306.0 592.2,302.0 592.4,299.6 592.6,300.0 592.7,300.1 592.9,300.9 593.0,298.9 593.2,301.5 593.4,301.3 593.5,296.2 593.7,301.5 593.8,299.1 594.0,300.6 594.2,299.5 594.3,300.9 594.5,299.1 594.6,298.7 594.8,301.3 595.0,302.0 595.1,302.2 595.3,302.8 595.4,298.2 595.6,297.6 595.8,304.6 595.9,302.7 596.1,300.9 596.2,299.4 596.4,303.5 596.6,302.3 596.7,301.0 596.9,299.6 597.0,303.0 597.2,299.3 597.4,303.0 597.5,299.5 597.7,302.6 597.8,302.0 598.0,299.9 598.2,300.6 598.3,300.0 598.5,301.7 598.6,302.0 598.8,299.1 599.0,297.8 599.1,300.7 599.3,300.7 599.4,303.0 599.6,298.0 599.8,302.3 599.9,300.8 600.1,298.9 600.2,307.1 600.4,302.3 600.6,304.3 600.7,302.6 600.9,301.7 601.0,304.6 601.2,299.6 601.4,297.2 601.5,302.4 601.7,301.8 601.8,298.5 602.0,301.1 602.1,304.1 602.3,300.8 602.5,303.1 602.6,299.4 602.8,303.2 602.9,299.1 603.1,304.5 603.3,302.4 603.4,306.2 603.6,297.0 603.7,302.0 603.9,302.6 604.1,301.2 604.2,301.8 604.4,301.1 604.5,297.6 604.7,298.9 604.9,303.0 605.0,301.5 605.2,302.3 605.3,301.2 605.5,304.2 605.7,302.9 605.8,305.3 606.0,301.1 606.1,303.6 606.3,299.9 606.5,301.9 606.6,305.2 606.8,298.8 606.9,306.4 607.1,296.5 607.3,298.9 607.4,299.0 607.6,298.8 607.7,299.9 607.9,302.5 608.1,303.8 608.2,302.1 608.4,307.4 608.5,301.6 608.7,302.6 608.9,302.1 609.0,303.5 609.2,305.6 609.3,302.4 609.5,303.5 609.7,303.5 609.8,302.6 610.0,301.0 610.1,300.1 610.3,305.2 610.5,302.4 610.6,306.8 610.8,305.2 610.9,305.1 611.1,303.4 611.2,303.0 611.4,302.3 611.6,302.9 611.7,303.2 611.9,305.8 612.0,302.0 612.2,305.1 612.4,301.7 612.5,303.7 612.7,298.9 612.8,305.2 613.0,302.1 613.2,300.9 613.3,304.1 613.5,303.8 613.6,299.6 613.8,301.1 614.0,302.4 614.1,304.3 614.3,304.2 614.4,306.5 614.6,299.7 614.8,303.0 614.9,301.8 615.1,300.3 615.2,301.5 615.4,303.5 615.6,300.3 615.7,307.0 615.9,300.5 616.0,302.1 616.2,303.3 616.4,301.8 616.5,300.8 616.7,304.6 616.8,302.6 617.0,304.0 617.2,303.5 617.3,301.5 617.5,304.1 617.6,305.4 617.8,303.9 618.0,300.0 618.1,300.5 618.3,301.6 618.4,300.0 618.6,303.7 618.8,304.7 618.9,305.1 619.1,302.5 619.2,302.4 619.4,306.0 619.6,298.3 619.7,301.7 619.9,306.8 620.0,307.4 620.2,303.2 620.3,303.3 620.5,306.2 620.7,303.9 620.8,304.0 621.0,304.3 621.1,301.3 621.3,306.8 621.5,304.3 621.6,306.8 621.8,303.9 621.9,303.7 622.1,299.4 622.3,306.1 622.4,303.7 622.6,304.5 622.7,304.0 622.9,305.7 623.1,306.7 623.2,305.6 623.4,305.9 623.5,302.1 623.7,304.6 623.9,301.1 624.0,306.1 624.2,308.1 624.3,305.5 624.5,305.0 624.7,299.7 624.8,306.7 625.0,302.4 625.1,305.0 625.3,305.6 625.5,302.2 625.6,305.5 625.8,300.1 625.9,302.7 626.1,302.4 626.3,304.6 626.4,303.2 626.6,302.0 626.7,305.8 626.9,304.3 627.1,306.1 627.2,304.9 627.4,303.8 627.5,308.3 627.7,304.2 627.9,305.6 628.0,302.5 628.2,306.9 628.3,305.1 628.5,304.9 628.7,301.9 628.8,304.4 629.0,301.0 629.1,302.5 629.3,306.4 629.4,307.3 629.6,304.9 629.8,303.2 629.9,304.9 630.1,306.8 630.2,303.5 630.4,305.2 630.6,306.5 630.7,304.1 630.9,305.1 631.0,308.2 631.2,305.0 631.4,303.8 631.5,306.5 631.7,308.0 631.8,303.3 632.0,302.4 632.2,305.2 632.3,304.4 632.5,306.5 632.6,304.7 632.8,307.9 633.0,305.6 633.1,304.4 633.3,306.3 633.4,305.2 633.6,304.7 633.8,302.1 633.9,306.1 634.1,308.0 634.2,306.6 634.4,306.6 634.6,303.9 634.7,302.2 634.9,307.7 635.0,304.8 635.2,303.9 635.4,305.7 635.5,305.4 635.7,306.9 635.8,302.4 636.0,303.7 636.2,307.5 636.3,304.6 636.5,308.0 636.6,304.2 636.8,303.1 637.0,309.4 637.1,305.9 637.3,305.7 637.4,300.3 637.6,303.8 637.8,303.6 637.9,305.4 638.1,304.7 638.2,303.6 638.4,304.7 638.5,303.7 638.7,305.4 638.9,307.9 639.0,304.5 639.2,304.9 639.3,308.4 639.5,307.4 639.7,306.4 639.8,302.0 640.0,303.9 640.1,301.6 640.3,310.3 640.5,304.4 640.6,301.8 640.8,306.3 640.9,304.3 641.1,307.4 641.3,304.5 641.4,305.4 641.6,308.6 641.7,302.8 641.9,305.2 642.1,304.3 642.2,309.2 642.4,303.4 642.5,306.7 642.7,303.7 642.9,307.9 643.0,302.6 643.2,306.1 643.3,305.2 643.5,306.5 643.7,309.2 643.8,305.8 644.0,302.7 644.1,302.6 644.3,306.2 644.5,302.5 644.6,305.7 644.8,308.1 644.9,305.7 645.1,305.4 645.3,303.1 645.4,310.5 645.6,302.7 645.7,303.5 645.9,304.1 646.1,308.7 646.2,309.1 646.4,303.2 646.5,306.3 646.7,303.3 646.9,308.3 647.0,304.1 647.2,304.4 647.3,308.8 647.5,306.4 647.6,301.6 647.8,307.5 648.0,303.2 648.1,305.8 648.3,308.0 648.4,307.1 648.6,308.2 648.8,301.8 648.9,309.5 649.1,308.7 649.2,305.9 649.4,303.7 649.6,309.0 649.7,308.0 649.9,306.6 650.0,306.8 650.2,305.9 650.4,307.6 650.5,306.2 650.7,304.4 650.8,308.8 651.0,309.9 651.2,307.9 651.3,305.9 651.5,300.0 651.6,304.2 651.8,305.0 652.0,313.1 652.1,310.7 652.3,304.8 652.4,307.7 652.6,308.0 652.8,304.5 652.9,303.5 653.1,305.0 653.2,305.9 653.4,310.7 653.6,306.9 653.7,304.4 653.9,306.9 654.0,310.0 654.2,312.2 654.4,307.3 654.5,305.1 654.7,308.2 654.8,306.9 655.0,305.5 655.2,307.7 655.3,306.8 655.5,308.0 655.6,308.2 655.8,305.3 656.0,305.1 656.1,307.0 656.3,309.9 656.4,305.5 656.6,304.5 656.7,304.7 656.9,304.8 657.1,306.5 657.2,307.0 657.4,305.2 657.5,305.0 657.7,305.0 657.9,308.5 658.0,310.9 658.2,305.6 658.3,305.7 658.5,305.8 658.7,305.2 658.8,310.2 659.0,308.0 659.1,305.0 659.3,307.7 659.5,307.0 659.6,303.1 659.8,304.7 659.9,307.7 660.1,305.8 660.3,308.3 660.4,305.5 660.6,309.8 660.7,310.6 660.9,302.9 661.1,304.1 661.2,308.8 661.4,305.4 661.5,312.4 661.7,306.5 661.9,303.8 662.0,304.7 662.2,306.2 662.3,306.7 662.5,306.0 662.7,301.6 662.8,307.7 663.0,306.0 663.1,304.7 663.3,308.7 663.5,302.9 663.6,311.3 663.8,307.2 663.9,307.7 664.1,306.8 664.3,309.8 664.4,307.6 664.6,305.9 664.7,308.7 664.9,304.5 665.1,311.5 665.2,307.1 665.4,302.8 665.5,309.0 665.7,306.5 665.8,307.6 666.0,308.1 666.2,305.1 666.3,310.0 666.5,305.5 666.6,310.2 666.8,307.4 667.0,304.9 667.1,308.2 667.3,306.7 667.4,301.3 667.6,306.4 667.8,306.1 667.9,305.2 668.1,305.4 668.2,306.8 668.4,307.5 668.6,306.3 668.7,306.0 668.9,303.6 669.0,306.7 669.2,304.9 669.4,302.0 669.5,311.0 669.7,307.5 669.8,307.6 670.0,307.3 670.2,303.4 670.3,307.6 670.5,306.5 670.6,302.8 670.8,312.3 671.0,310.1 671.1,309.9 671.3,306.9 671.4,305.7 671.6,309.2 671.8,303.5 671.9,302.9" fill="none" stroke="#ff7f0e" stroke-width="0.7" stroke-linejoin="round"/>
<text x="0" y="0" font-size="11.2" fill="#222" font-weight="normal" text-anchor="middle" transform="translate(397.9,185.7) rotate(-90)" textLength="71.5" lengthAdjust="spacingAndGlyphs">Absolute Error</text>
<text x="532.7" y="359.9" font-size="11" fill="#222" font-weight="normal" text-anchor="middle" textLength="55" lengthAdjust="spacingAndGlyphs"># Iterations</text>
</svg>
</body></html>
